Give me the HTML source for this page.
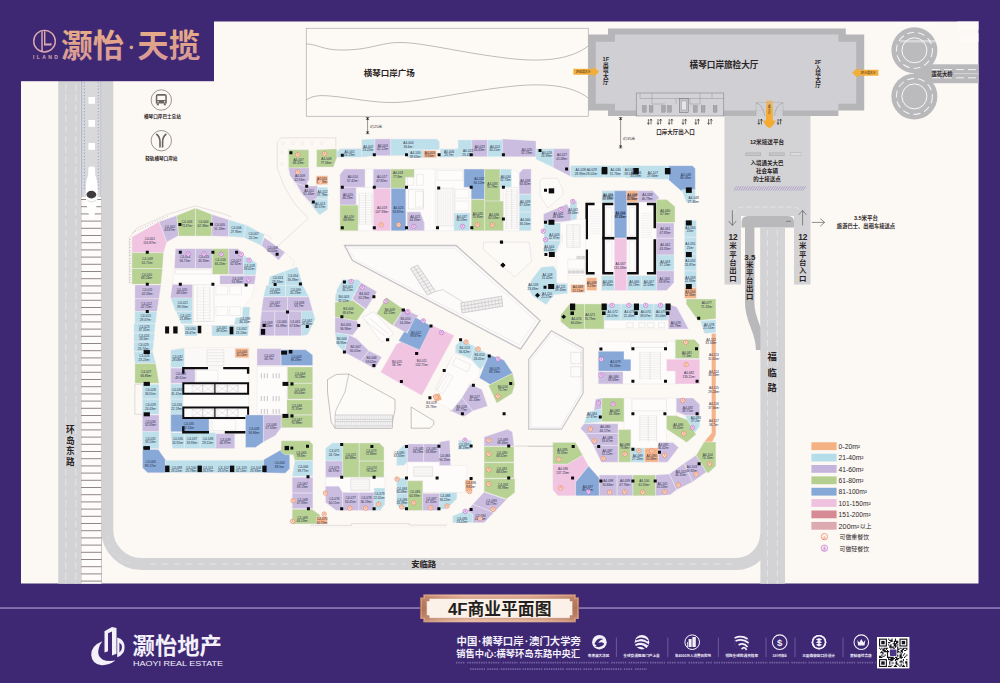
<!DOCTYPE html>
<html><head><meta charset="utf-8"><title>4F</title>
<style>
html,body{margin:0;padding:0;background:#3e2873;}
body{width:1000px;height:683px;overflow:hidden;font-family:"Liberation Sans","Noto Sans CJK SC",sans-serif;}
svg{display:block;font-family:"Liberation Sans","Noto Sans CJK SC",sans-serif;}
</style></head><body>
<svg width="1000" height="683" viewBox="0 0 1000 683">
<rect x="0" y="0" width="1000" height="683" fill="#3e2873"/>
<rect x="21" y="21.5" width="957.5" height="562" fill="#fcf8f4"/>
<rect x="58.2" y="21.5" width="22.6" height="562.2" fill="#d3d3d6"/>
<path d="M65.8 21.5V583.7M75.8 21.5V583.7" stroke="#e4e4e8" stroke-width="1.1" stroke-dasharray="7 3.4" fill="none"/>
<rect x="80.8" y="21.5" width="21" height="176" fill="#d9d9dc"/>
<path d="M81.6 21.5V197M101 21.5V197" stroke="#8b93b8" stroke-width="0.5" fill="none"/>
<path d="M84.4 21.5V190M98.3 21.5V190" stroke="#7f8dc0" stroke-width="0.9" stroke-dasharray="1 2.2" fill="none"/>
<rect x="88.4" y="74" width="6.6" height="6.8" fill="#fff"/>
<rect x="88.4" y="97" width="6.6" height="6.8" fill="#fff"/>
<rect x="88.4" y="120" width="6.6" height="6.8" fill="#fff"/>
<rect x="88.4" y="143" width="6.6" height="6.8" fill="#fff"/>
<rect x="80.8" y="197" width="21" height="386.7" fill="#fdfcfb"/>
<path d="M81 199.5H101.6M81 206.7H101.6M81 213.9H101.6M81 221.1H101.6M81 228.3H101.6M81 235.5H101.6M81 242.7H101.6M81 249.9H101.6M81 257.1H101.6M81 264.3H101.6M81 271.5H101.6M81 278.7H101.6M81 285.9H101.6M81 293.1H101.6M81 300.3H101.6M81 307.5H101.6M81 314.7H101.6M81 321.9H101.6M81 329.1H101.6M81 336.3H101.6M81 343.5H101.6M81 350.7H101.6M81 357.9H101.6M81 365.1H101.6M81 372.3H101.6M81 379.5H101.6M81 386.7H101.6M81 393.9H101.6M81 401.1H101.6M81 408.3H101.6M81 415.5H101.6M81 422.7H101.6M81 429.9H101.6M81 437.1H101.6M81 444.3H101.6M81 451.5H101.6M81 458.7H101.6M81 465.9H101.6M81 473.1H101.6M81 480.3H101.6M81 487.5H101.6M81 494.7H101.6M81 501.9H101.6M81 509.1H101.6M81 516.3H101.6M81 523.5H101.6M81 530.7H101.6M81 537.9H101.6M81 545.1H101.6M81 552.3H101.6M81 559.5H101.6M81 566.7H101.6M81 573.9H101.6M81 581.1H101.6" stroke="#8a7f7f" stroke-width="0.95" fill="none"/>
<path d="M81.1 197V583.7M101.5 197V583.7" stroke="#9a9090" stroke-width="0.5" fill="none"/>
<path d="M88.4 168Q88.4 166.5 91.7 166.5Q95 166.5 95 168L95.2 175Q97.6 181 97.7 190Q97.6 206 93.8 217Q91.7 221.5 89.6 217Q85.8 206 85.7 190Q85.8 181 88.2 175Z" fill="#fff"/>
<ellipse cx="91.4" cy="194.6" rx="4.9" ry="3.8" fill="#3d3b3d"/>
<path d="M87.2 200Q91.5 204 96.2 200" stroke="#bbb" stroke-width="0.5" fill="none"/>
<path d="M107.3 21.5V530A34 34 0 0 0 141.3 564H736A30 30 0 0 0 766 534" stroke="#d3d3d6" stroke-width="12" fill="none"/>
<path d="M150 564H738" stroke="#e4e4e8" stroke-width="1" stroke-dasharray="6 6" fill="none"/>
<path d="M107.3 535A28.7 28.7 0 0 0 136 564" stroke="#e4e4e8" stroke-width="1" stroke-dasharray="4 5" fill="none" opacity="0.6"/>
<text font-size="8.6" font-weight="bold" fill="#2a2324" text-anchor="middle"><tspan x="70.2" y="433.4">环</tspan><tspan x="70.2" y="443.8">岛</tspan><tspan x="70.2" y="454.3">东</tspan><tspan x="70.2" y="464.8">路</tspan></text>
<rect x="405" y="559" width="36" height="10" fill="#d3d3d6"/>
<text x="423.7" y="567.3" font-size="8.4" font-weight="bold" fill="#2a2324" text-anchor="middle">安临路</text>
<rect x="760.4" y="227.4" width="24.6" height="356.3" fill="#d3d3d6"/>
<path d="M724.5 116H810.5V284.6H794V216H741V284.6H724.5Z" fill="#d3d3d6"/>
<path d="M741.6 227.4V222Q741.6 216 748 216H788Q794 216 794 222V227.4Z" fill="#b9b9bc"/>
<path d="M749.7 227V303C749.7 322 760.6 330 760.6 350" stroke="#b9b9bc" stroke-width="9.4" fill="none"/>
<rect x="760.4" y="227.4" width="24.6" height="125" fill="#d3d3d6"/>
<path d="M767.4 230V583.7M777.3 230V583.7" stroke="#e4e4e8" stroke-width="1" stroke-dasharray="6.5 3.5" fill="none"/>
<path d="M786 221.3H791" stroke="#555" stroke-width="0.6"/>
<path d="M733.5 214Q735 207 743 207H792Q800 207 802 214" stroke="#e4e4e8" stroke-width="0.9" stroke-dasharray="5 3" fill="none"/>
<path d="M732.4 210.4V225.2M728.6 221L732.4 225.4L736.2 221" stroke="#4a4546" stroke-width="0.6" fill="none"/>
<path d="M802.6 225.4V210.6M798.8 214.8L802.6 210.4L806.4 214.8" stroke="#4a4546" stroke-width="0.6" fill="none"/>
<path d="M811.8 222.4H824.4M820.2 218.6L824.6 222.4L820.2 226.2" stroke="#4a4546" stroke-width="0.6" fill="none"/>
<text x="733" y="240.3" font-size="8.3" fill="#2a2324" font-weight="bold" text-anchor="middle" >12</text>
<text font-size="7.4" font-weight="bold" fill="#2a2324" text-anchor="middle"><tspan x="733" y="248.4">米</tspan><tspan x="733" y="256.5">平</tspan><tspan x="733" y="264.7">台</tspan><tspan x="733" y="272.8">出</tspan><tspan x="733" y="280.9">口</tspan></text>
<text x="802.8" y="240.3" font-size="8.3" fill="#2a2324" font-weight="bold" text-anchor="middle" >12</text>
<text font-size="7.4" font-weight="bold" fill="#2a2324" text-anchor="middle"><tspan x="802.8" y="248.4">米</tspan><tspan x="802.8" y="256.5">平</tspan><tspan x="802.8" y="264.7">台</tspan><tspan x="802.8" y="272.8">入</tspan><tspan x="802.8" y="280.9">口</tspan></text>
<text x="749.8" y="259.5" font-size="7.9" fill="#2a2324" font-weight="bold" text-anchor="middle" >3.5</text>
<text font-size="7.4" font-weight="bold" fill="#2a2324" text-anchor="middle"><tspan x="749.8" y="267.4">米</tspan><tspan x="749.8" y="275.3">平</tspan><tspan x="749.8" y="283.3">台</tspan><tspan x="749.8" y="291.2">出</tspan><tspan x="749.8" y="299.1">口</tspan></text>
<text font-size="9.3" font-weight="bold" fill="#2a2324" text-anchor="middle"><tspan x="772.1" y="360.4">福</tspan><tspan x="772.1" y="375.7">临</tspan><tspan x="772.1" y="391.1">路</tspan></text>
<text x="767" y="143.6" font-size="5.6" font-weight="bold" fill="#2a2324" text-anchor="middle">12米接送平台</text>
<rect x="745.5" y="152.6" width="15.5" height="3.2" fill="#a9a9ad"/>
<rect x="746.1" y="153.2" width="14.3" height="2" fill="#c7c7ca"/>
<rect x="769" y="152.6" width="15.5" height="3.2" fill="#a9a9ad"/>
<rect x="769.6" y="153.2" width="14.3" height="2" fill="#c7c7ca"/>
<rect x="790.5" y="152.6" width="10.5" height="3.2" fill="#a9a9ad"/>
<rect x="791.1" y="153.2" width="9.3" height="2" fill="#c7c7ca"/>
<rect x="790.5" y="152.6" width="10.5" height="3.2" fill="#dcdcdf" stroke="#b5b5b8" stroke-width="0.4"/>
<text x="767" y="165.2" font-size="5.5" font-weight="bold" fill="#2a2324" text-anchor="middle">入境通关大巴</text>
<text x="767" y="173.4" font-size="5.5" font-weight="bold" fill="#2a2324" text-anchor="middle">社会车辆</text>
<text x="767" y="181.4" font-size="5.5" font-weight="bold" fill="#2a2324" text-anchor="middle">的士接送点</text>
<path d="M734.0 190.6l2.6-4.4M736.3 190.6l2.6-4.4M738.6 190.6l2.6-4.4M740.9 190.6l2.6-4.4M743.2 190.6l2.6-4.4M745.5 190.6l2.6-4.4M747.8 190.6l2.6-4.4M750.1 190.6l2.6-4.4M752.4 190.6l2.6-4.4M754.7 190.6l2.6-4.4M757.0 190.6l2.6-4.4M759.3 190.6l2.6-4.4M761.6 190.6l2.6-4.4M763.9 190.6l2.6-4.4M766.2 190.6l2.6-4.4M768.5 190.6l2.6-4.4M770.8 190.6l2.6-4.4M773.1 190.6l2.6-4.4M775.4 190.6l2.6-4.4M777.7 190.6l2.6-4.4M780.0 190.6l2.6-4.4M782.3 190.6l2.6-4.4M784.6 190.6l2.6-4.4M786.9 190.6l2.6-4.4M789.2 190.6l2.6-4.4M791.5 190.6l2.6-4.4M793.8 190.6l2.6-4.4M796.1 190.6l2.6-4.4M798.4 190.6l2.6-4.4M800.7 190.6l2.6-4.4M803.0 190.6l2.6-4.4" stroke="#a48fc4" stroke-width="0.7" fill="none"/>
<text x="866" y="220.4" font-size="5.5" font-weight="bold" fill="#2a2324" text-anchor="middle">3.5米平台</text>
<text x="866" y="228.4" font-size="5.3" font-weight="bold" fill="#2a2324" text-anchor="middle">旅游巴士、出租车接送点</text>
<rect x="914" y="64.3" width="64.5" height="18.9" fill="#b9b9bc"/>
<circle cx="914.4" cy="50.3" r="23" fill="#b9b9bc"/>
<circle cx="914.4" cy="96.4" r="23" fill="#b9b9bc"/>
<circle cx="914.4" cy="50.3" r="18" fill="none" stroke="#f2f2f4" stroke-width="1.1" stroke-dasharray="7 4"/>
<circle cx="914.4" cy="50.3" r="12.5" fill="#bbbbbe" stroke="#fff" stroke-width="0.9"/>
<circle cx="914.4" cy="96.4" r="18" fill="none" stroke="#f2f2f4" stroke-width="1.1" stroke-dasharray="7 4"/>
<circle cx="914.4" cy="96.4" r="12.5" fill="#bbbbbe" stroke="#fff" stroke-width="0.9"/>
<path d="M932 69.6H978.5M932 77.8H978.5" stroke="#f2f2f4" stroke-width="1" stroke-dasharray="8 4" fill="none"/>
<path d="M930 73.6H978.5" stroke="#f2f2f4" stroke-width="0.5" fill="none"/>
<rect x="930" y="70.6" width="24" height="6.4" fill="#b9b9bc"/>
<text x="942" y="76" font-size="5.3" font-weight="bold" fill="#2a2324" text-anchor="middle">莲花大桥</text>
<rect x="306.2" y="28.2" width="282" height="88" fill="#fdfaf6" stroke="#8f8a98" stroke-width="0.5"/>
<path d="M306.2 44C318 44 322 50.5 345 50C372 49.5 380 42.5 400 42.5C425 42.5 470 55 520 59.5C555 62 575 56 588.2 46" stroke="#6f6b72" stroke-width="0.45" fill="none"/>
<path d="M306.2 100C312 96 318 95 330 96C350 97.5 372 103 395 102.5C420 102 470 90 520 85.5C555 83 575 88 588.2 98" stroke="#6f6b72" stroke-width="0.45" fill="none"/>
<text x="389.2" y="76.3" font-size="8.5" font-weight="bold" fill="#2a2324" text-anchor="middle">横琴口岸广场</text>
<path d="M367.6 117.2V134" stroke="#333" stroke-width="0.5"/>
<path d="M365.8 117.5H369.40000000000003M365.8 133.7H369.40000000000003" stroke="#333" stroke-width="0.6"/>
<path d="M366.0 119.8L367.6 117.60000000000001L369.20000000000005 119.8ZM366.0 131.4L367.6 133.6L369.20000000000005 131.4Z" fill="#222"/>
<text x="370.1" y="127.6" font-size="3.9" fill="#3a3536" text-anchor="start">约25米</text>
<path d="M620.6 117.2V148.2" stroke="#333" stroke-width="0.5"/>
<path d="M618.8000000000001 117.5H622.4M618.8000000000001 147.89999999999998H622.4" stroke="#333" stroke-width="0.6"/>
<path d="M619.0 119.8L620.6 117.60000000000001L622.2 119.8ZM619.0 145.6L620.6 147.79999999999998L622.2 145.6Z" fill="#222"/>
<text x="623.1" y="140.4" font-size="3.9" fill="#3a3536" text-anchor="start">约35米</text>
<path d="M588.2 34.4H608V28.4H845.8V34.4H864.2V110.6H838.4V116H608V110.6H588.2Z" fill="#b6b6b9"/>
<path d="M595.8 41.8H615V34.6H838.4V41.8H856.2V103.8H838.4V110.6H615V103.8H595.8Z" fill="#d0d0d4"/>
<rect x="636.2" y="93" width="87.6" height="23" fill="#d3d3d7" stroke="#77737a" stroke-width="0.5"/>
<path d="M640 93V98.5H723.8M652 93V104M700 93V104M652 104H665M676 98.5V104M690 98.5V104H700M712 93V98.5" stroke="#8a868a" stroke-width="0.4" fill="none"/>
<rect x="642.4" y="105.6" width="3.8" height="6.6" fill="#a9a9ad" stroke="#7d7a7e" stroke-width="0.3"/>
<rect x="649.2" y="105.6" width="3.8" height="6.6" fill="#a9a9ad" stroke="#7d7a7e" stroke-width="0.3"/>
<rect x="661.6" y="105.6" width="3.8" height="6.6" fill="#a9a9ad" stroke="#7d7a7e" stroke-width="0.3"/>
<rect x="667.6" y="105.6" width="3.8" height="6.6" fill="#a9a9ad" stroke="#7d7a7e" stroke-width="0.3"/>
<rect x="693.4" y="105.6" width="3.8" height="6.6" fill="#a9a9ad" stroke="#7d7a7e" stroke-width="0.3"/>
<rect x="701.2" y="105.6" width="3.8" height="6.6" fill="#a9a9ad" stroke="#7d7a7e" stroke-width="0.3"/>
<rect x="713.2" y="105.6" width="3.8" height="6.6" fill="#a9a9ad" stroke="#7d7a7e" stroke-width="0.3"/>
<rect x="679.6" y="98.6" width="8.6" height="13.8" fill="#c5c5c8" stroke="#666" stroke-width="0.5"/>
<rect x="681.4" y="101" width="5" height="9" fill="#e6e6e8" stroke="#777" stroke-width="0.3"/>
<rect x="756" y="110.4" width="27" height="5.8" fill="#d0d0d4"/>
<path d="M756 116V102.4H783V116" stroke="#a5a1a8" stroke-width="0.4" fill="none"/>
<path d="M756 103Q762.6 104 764.8 116M783 103Q776.4 104 774.2 116" stroke="#8a868a" stroke-width="0.45" fill="none"/>
<path d="M573.4 68.8H593.2V66.6L599.2 71.8L593.2 77V74.8H573.4Z" fill="#f2ae3c"/>
<path d="M878.4 69.8H858V67.6L852 72.8L858 78V75.8H878.4Z" fill="#f2ae3c"/>
<defs><linearGradient id="og" x1="0" y1="0" x2="0" y2="1"><stop offset="0" stop-color="#f2ae3c" stop-opacity="0.55"/><stop offset="0.4" stop-color="#f2ae3c"/><stop offset="1" stop-color="#f4a92c"/></linearGradient></defs>
<path d="M766 100.6H772.8V120.4H775.8Q773.6 126 769.4 128Q765.2 126 763 120.4H766Z" fill="url(#og)"/>
<text x="583.2" y="73.2" font-size="2.9" font-weight="bold" fill="#6b4a22" text-anchor="middle">1F出境大厅</text>
<text x="868.2" y="74.2" font-size="2.9" font-weight="bold" fill="#6b4a22" text-anchor="middle">2F入境大厅</text>
<text font-size="2.6" font-weight="bold" fill="#6b4a22" text-anchor="middle"><tspan x="769.4" y="105.7">入</tspan><tspan x="769.4" y="108.3">境</tspan><tspan x="769.4" y="110.9">大</tspan><tspan x="769.4" y="113.5">厅</tspan></text>
<text x="724" y="68.1" font-size="8.6" font-weight="bold" fill="#2a2324" text-anchor="middle">横琴口岸旅检大厅</text>
<text x="605.8" y="60.6" font-size="5.6" fill="#2a2324" font-weight="bold" text-anchor="middle" >1F</text>
<text font-size="5.6" font-weight="bold" fill="#2a2324" text-anchor="middle"><tspan x="605.8" y="66.5">出</tspan><tspan x="605.8" y="72.3">境</tspan><tspan x="605.8" y="78.1">大</tspan><tspan x="605.8" y="83.9">厅</tspan></text>
<text x="818" y="63.6" font-size="5.6" fill="#2a2324" font-weight="bold" text-anchor="middle" >2F</text>
<text font-size="5.6" font-weight="bold" fill="#2a2324" text-anchor="middle"><tspan x="818" y="69.5">入</tspan><tspan x="818" y="75.3">境</tspan><tspan x="818" y="81.1">大</tspan><tspan x="818" y="86.9">厅</tspan></text>
<path d="M648.4 119V124.2M647.3 122.8L648.4 124.4L649.5 122.8M651.0 124.4V119.2M649.9 120.6L651.0 119L652.1 120.6M658.0 119V124.2M656.9 122.8L658.0 124.4L659.1 122.8M660.6 124.4V119.2M659.5 120.6L660.6 119L661.7 120.6M669.2 119V124.2M668.1 122.8L669.2 124.4L670.3 122.8M671.8 124.4V119.2M670.7 120.6L671.8 119L672.9 120.6M683.0 119V124.2M681.9 122.8L683.0 124.4L684.1 122.8M685.6 124.4V119.2M684.5 120.6L685.6 119L686.7 120.6M695.8 119V124.2M694.7 122.8L695.8 124.4L696.9 122.8M698.4 124.4V119.2M697.3 120.6L698.4 119L699.5 120.6M708.6 119V124.2M707.5 122.8L708.6 124.4L709.7 122.8M711.2 124.4V119.2M710.1 120.6L711.2 119L712.3 120.6M758.8 119V124.2M757.7 122.8L758.8 124.4L759.9 122.8M761.4 124.4V119.2M760.3 120.6L761.4 119L762.5 120.6M778.0 119V124.2M776.9 122.8L778.0 124.4L779.1 122.8M780.6 124.4V119.2M779.5 120.6L780.6 119L781.7 120.6" stroke="#1e1e20" stroke-width="0.62" fill="none"/>
<text x="675.6" y="133.5" font-size="5.5" font-weight="bold" fill="#2a2324" text-anchor="middle">口岸大厅出入口</text>
<path d="M131.9 237.1L159 221.7L166.9 242L163.5 252.7L131.9 252.7Z" fill="#f1c5e1" stroke="#f4eff5" stroke-width="0.4" stroke-linejoin="round"/>
<path d="M159 221.7L176.8 215.5L178.7 235.5L166.9 242Z" fill="#cbbde0" stroke="#f4eff5" stroke-width="0.4" stroke-linejoin="round"/>
<path d="M176.8 215.5L195.5 208L195.5 236.1L178.7 236.1ZM195.5 208L211.9 214.4L211.9 236.1L195.5 236.1Z" fill="#b8d294" stroke="#f4eff5" stroke-width="0.4" stroke-linejoin="round"/>
<path d="M211.9 214.4L228.7 219.7L228.7 236.5L211.9 236.1Z" fill="#cbbde0" stroke="#f4eff5" stroke-width="0.4" stroke-linejoin="round"/>
<path d="M228.7 219.7L245.9 225L243.6 237.5L228.7 236.5ZM245.9 225L264.3 234.5L261.3 245.4L243.6 237.5Z" fill="#bde0ea" stroke="#f4eff5" stroke-width="0.4" stroke-linejoin="round"/>
<path d="M264.3 237.5L285 252.3L278.7 260.2L261.3 245.4Z" fill="#cbbde0" stroke="#f4eff5" stroke-width="0.4" stroke-linejoin="round"/>
<path d="M131.9 252.7L163.5 252.7L162.5 268.5L131.9 268.5ZM131.9 268.5L162.5 268.5L161 284.3L131.9 284.3Z" fill="#b8d294" stroke="#f4eff5" stroke-width="0.4" stroke-linejoin="round"/>
<path d="M134.9 284.9L161 284.9L159 298.7L134.9 298.7ZM134.9 298.7L159 298.7L157 311.6L134.9 311.6Z" fill="#cbbde0" stroke="#f4eff5" stroke-width="0.4" stroke-linejoin="round"/>
<path d="M134.9 311.6L157 311.6L155.6 323.4L134.9 323.4Z" fill="#bde0ea" stroke="#f4eff5" stroke-width="0.4" stroke-linejoin="round"/>
<path d="M175.4 248.7L195.5 248.7L195.5 268.5L174.4 268.5ZM195.5 248.7L212.3 248.7L212.3 268.5L195.5 268.5Z" fill="#cbbde0" stroke="#f4eff5" stroke-width="0.4" stroke-linejoin="round"/>
<path d="M212.3 248.7L228.7 248.7L228.7 274.4L212.3 274.4Z" fill="#b8d294" stroke="#f4eff5" stroke-width="0.4" stroke-linejoin="round"/>
<path d="M228.7 248.7L238 248.7L243.6 254.3L243.6 274.4L228.7 274.4Z" fill="#cbbde0" stroke="#f4eff5" stroke-width="0.4" stroke-linejoin="round"/>
<path d="M243.6 255.3L257 263.2L255.8 275L243.6 275Z" fill="#bde0ea" stroke="#f4eff5" stroke-width="0.4" stroke-linejoin="round"/>
<path d="M219.8 275.6L255.8 275.6L254.4 284.3L219.8 284.3ZM172.4 284.3L192.6 284.3L192.6 298.1L170.4 298.1Z" fill="#cbbde0" stroke="#f4eff5" stroke-width="0.4" stroke-linejoin="round"/>
<path d="M170.8 298.1L192.6 298.1L192.6 311.2L175.4 311.2ZM176 311.2L192.6 311.2L192.6 323.8L181.3 323.8ZM133.9 323.4L155.2 323.4L154.6 332.9L133.9 332.9ZM133.9 332.9L154.6 332.9L153.8 341.8L133.9 341.8ZM133.9 341.8L153.8 341.8L152.7 351.7L133.9 351.7ZM133.9 351.7L152.7 351.7L155.8 363.5L134.9 363.5Z" fill="#bde0ea" stroke="#f4eff5" stroke-width="0.4" stroke-linejoin="round"/>
<path d="M134.9 363.5L155.8 363.5L159 383.3L134.9 383.3Z" fill="#b8d294" stroke="#f4eff5" stroke-width="0.4" stroke-linejoin="round"/>
<path d="M142.4 384.3L159 384.3L159 399.1L142.4 399.1ZM142.4 399.1L159 399.1L159 414.3L142.4 414.3Z" fill="#bde0ea" stroke="#f4eff5" stroke-width="0.4" stroke-linejoin="round"/>
<path d="M142.4 414.9L159 414.9L159 431.7L142.4 431.7Z" fill="#cbbde0" stroke="#f4eff5" stroke-width="0.4" stroke-linejoin="round"/>
<path d="M142.4 431.7L159 431.7L159 448.7L142.4 448.7Z" fill="#bde0ea" stroke="#f4eff5" stroke-width="0.4" stroke-linejoin="round"/>
<path d="M142.4 384.3L134.9 384.3L134.9 414.3L142.4 414.3" fill="none" stroke="#b9b2b8" stroke-width="0.4"/>
<path d="M170.8 349.7L184.3 347.7L249.1 347.7L249.1 432.7L234.7 433.7L234.7 448.5L172.4 448.5L170.8 432.7Z" fill="#fbf9f7" stroke="#e6e0e0" stroke-width="0.3"/>
<path d="M170.8 350.3L184.3 348.1L184.3 367.5L170.8 367.5ZM170.8 383.9L182.9 383.9L182.9 399.1L170.8 399.1ZM170.8 399.1L182.9 399.1L182.9 414.3L170.8 414.3Z" fill="#bde0ea" stroke="#f4eff5" stroke-width="0.4" stroke-linejoin="round"/>
<path d="M170.8 414.3L182.9 414.3L182.9 418.3L209 418.3L209 431.7L170.8 431.7Z" fill="#88a9d7" stroke="#f4eff5" stroke-width="0.4" stroke-linejoin="round"/>
<path d="M170.8 432.7L184.3 432.7L184.3 448.5L172.4 448.5ZM184.3 432.7L200.1 432.7L200.1 448.5L184.3 448.5ZM200.1 432.7L215.9 432.7L215.9 448.5L200.1 448.5Z" fill="#bde0ea" stroke="#f4eff5" stroke-width="0.4" stroke-linejoin="round"/>
<path d="M215.9 433.7L234.7 433.7L234.7 448.5L215.9 448.5Z" fill="#cbbde0" stroke="#f4eff5" stroke-width="0.4" stroke-linejoin="round"/>
<path d="M235.1 348.3L248.7 348.3L248.7 357.8L235.1 357.8Z" fill="#f4b488" stroke="#f4eff5" stroke-width="0.4" stroke-linejoin="round"/>
<path d="M183.3 368.1L248.5 368.1L248.5 432.1L210 432.1L210 418.3L183.3 418.3Z" fill="#fdfcfb" stroke="#ddd" stroke-width="0.2"/>
<path d="M170.8 368.1L195.1 368.1L195.1 383.3L170.8 383.3Z" fill="#cbbde0" stroke="#f4eff5" stroke-width="0.4" stroke-linejoin="round"/>
<path d="M183.3 373.8L183.3 368.1L208 368.1" fill="none" stroke="#0d0d10" stroke-width="2.4"/>
<path d="M223.2 368.1L248.1 368.1L248.1 373.8" fill="none" stroke="#0d0d10" stroke-width="2.4"/>
<path d="M183.3 383.3L248.1 383.3L248.1 393.8L183.3 393.8Z" fill="none" stroke="#0d0d10" stroke-width="2.0"/>
<path d="M183.3 407.6L248.1 407.6L248.1 417.9L183.3 417.9Z" fill="none" stroke="#0d0d10" stroke-width="2.0"/>
<path d="M214.9 383.3L214.9 393.8" fill="none" stroke="#0d0d10" stroke-width="1.2"/>
<path d="M214.9 407.6L214.9 417.9" fill="none" stroke="#0d0d10" stroke-width="1.2"/>
<path d="M183.3 426.2L183.3 432.3L209 432.3" fill="none" stroke="#0d0d10" stroke-width="2.4"/>
<path d="M224.8 432.3L248.1 432.3L248.1 418.3" fill="none" stroke="#0d0d10" stroke-width="2.4"/>
<path d="M192.2 384.9L202.5 384.9L202.5 392.6L192.2 392.6L192.2 384.9L202.5 392.6L202.5 384.9L192.2 392.6" fill="none" stroke="#b9b5b8" stroke-width="0.3"/>
<path d="M192.2 409L202.5 409L202.5 416.7L192.2 416.7L192.2 409L202.5 416.7L202.5 409L192.2 416.7" fill="none" stroke="#b9b5b8" stroke-width="0.3"/>
<path d="M203 384.9L213.3 384.9L213.3 392.6L203 392.6L203 384.9L213.3 392.6L213.3 384.9L203 392.6" fill="none" stroke="#b9b5b8" stroke-width="0.3"/>
<path d="M203 409L213.3 409L213.3 416.7L203 416.7L203 409L213.3 416.7L213.3 409L203 416.7" fill="none" stroke="#b9b5b8" stroke-width="0.3"/>
<path d="M216.9 384.9L227.2 384.9L227.2 392.6L216.9 392.6L216.9 384.9L227.2 392.6L227.2 384.9L216.9 392.6" fill="none" stroke="#b9b5b8" stroke-width="0.3"/>
<path d="M216.9 409L227.2 409L227.2 416.7L216.9 416.7L216.9 409L227.2 416.7L227.2 409L216.9 416.7" fill="none" stroke="#b9b5b8" stroke-width="0.3"/>
<path d="M227.7 384.9L238 384.9L238 392.6L227.7 392.6L227.7 384.9L238 392.6L238 384.9L227.7 392.6" fill="none" stroke="#b9b5b8" stroke-width="0.3"/>
<path d="M227.7 409L238 409L238 416.7L227.7 416.7L227.7 409L238 416.7L238 409L227.7 416.7" fill="none" stroke="#b9b5b8" stroke-width="0.3"/>
<path d="M196.1 370.1L217.9 370.1L217.9 381.3L196.1 381.3Z" fill="none" stroke="#c9c5c8" stroke-width="0.3"/>
<path d="M211.9 419.4L235.7 419.4L235.7 430.7L211.9 430.7Z" fill="none" stroke="#c9c5c8" stroke-width="0.3"/>
<path d="M207 349.7L223.8 349.7L223.8 365.5L207 365.5Z" fill="none" stroke="#c9c5c8" stroke-width="0.3"/>
<path d="M207 352.7L223.8 352.7" fill="none" stroke="#c9c5c8" stroke-width="0.3"/>
<path d="M207 355.6L223.8 355.6" fill="none" stroke="#c9c5c8" stroke-width="0.3"/>
<path d="M207 358.6L223.8 358.6" fill="none" stroke="#c9c5c8" stroke-width="0.3"/>
<path d="M207 361.6L223.8 361.6" fill="none" stroke="#c9c5c8" stroke-width="0.3"/>
<path d="M257 348.7L281.1 348.7L281.1 365.5L257 365.5Z" fill="#cbbde0" stroke="#f4eff5" stroke-width="0.4" stroke-linejoin="round"/>
<path d="M281.1 349.7L305.8 349.7L312.7 355L312.7 365.5L281.1 365.5Z" fill="#88a9d7" stroke="#f4eff5" stroke-width="0.4" stroke-linejoin="round"/>
<path d="M287.4 366.9L312.7 366.9L312.7 383.3L287.4 383.3ZM287.4 383.3L312.7 383.3L312.7 399.1L287.4 399.1ZM281.1 399.7L312.7 399.7L312.7 414.9L281.1 414.9ZM281.1 414.9L312.7 414.9L312.7 427.7L281.1 427.7Z" fill="#b8d294" stroke="#f4eff5" stroke-width="0.4" stroke-linejoin="round"/>
<path d="M263.3 414.9L281.1 414.9L281.1 427.7L275.2 435.7L263.3 442Z" fill="#cbbde0" stroke="#f4eff5" stroke-width="0.4" stroke-linejoin="round"/>
<path d="M245.5 414.9L263.3 414.9L263.3 442L255.4 447.5L245.5 447.5Z" fill="#88a9d7" stroke="#f4eff5" stroke-width="0.4" stroke-linejoin="round"/>
<path d="M257 366.5L287 366.5L287 413.9L257 413.9Z" fill="#fdfcfb" stroke="#e3dede" stroke-width="0.3"/>
<path d="M261.3 373.4L261.3 378.3" fill="none" stroke="#8c878a" stroke-width="0.5"/>
<path d="M261.3 396.1L261.3 401.1" fill="none" stroke="#8c878a" stroke-width="0.5"/>
<path d="M261.3 409L261.3 413.5" fill="none" stroke="#8c878a" stroke-width="0.5"/>
<path d="M264.3 373.4L264.3 378.3" fill="none" stroke="#8c878a" stroke-width="0.5"/>
<path d="M264.3 396.1L264.3 401.1" fill="none" stroke="#8c878a" stroke-width="0.5"/>
<path d="M264.3 409L264.3 413.5" fill="none" stroke="#8c878a" stroke-width="0.5"/>
<path d="M267.3 373.4L267.3 378.3" fill="none" stroke="#8c878a" stroke-width="0.5"/>
<path d="M267.3 396.1L267.3 401.1" fill="none" stroke="#8c878a" stroke-width="0.5"/>
<path d="M267.3 409L267.3 413.5" fill="none" stroke="#8c878a" stroke-width="0.5"/>
<path d="M273.2 373.4L273.2 378.3" fill="none" stroke="#8c878a" stroke-width="0.5"/>
<path d="M273.2 396.1L273.2 401.1" fill="none" stroke="#8c878a" stroke-width="0.5"/>
<path d="M273.2 409L273.2 413.5" fill="none" stroke="#8c878a" stroke-width="0.5"/>
<path d="M276.2 373.4L276.2 378.3" fill="none" stroke="#8c878a" stroke-width="0.5"/>
<path d="M276.2 396.1L276.2 401.1" fill="none" stroke="#8c878a" stroke-width="0.5"/>
<path d="M276.2 409L276.2 413.5" fill="none" stroke="#8c878a" stroke-width="0.5"/>
<path d="M279.1 373.4L279.1 378.3" fill="none" stroke="#8c878a" stroke-width="0.5"/>
<path d="M279.1 396.1L279.1 401.1" fill="none" stroke="#8c878a" stroke-width="0.5"/>
<path d="M279.1 409L279.1 413.5" fill="none" stroke="#8c878a" stroke-width="0.5"/>
<path d="M183.9 325L197.1 325L197.1 335.9L184.9 335.9ZM211.9 322.6L231.7 322.6L231.7 335.9L211.9 335.9ZM234.7 325L249.1 325L247.9 335.9L234.7 335.9Z" fill="#bde0ea" stroke="#f4eff5" stroke-width="0.4" stroke-linejoin="round"/>
<path d="M165.1 326.4L169.1 326.4L169.1 333.5L165.1 333.5Z" fill="#0d0d10"/>
<path d="M173.2 326.4L177.6 326.4L177.6 333.5L173.2 333.5Z" fill="#0d0d10"/>
<path d="M197.7 325.4L201.3 325.4L201.3 333.3L197.7 333.3Z" fill="#0d0d10"/>
<path d="M229.9 325.4L233.5 325.4L233.5 333.3L229.9 333.3Z" fill="#0d0d10"/>
<path d="M261.3 327.8L265.3 327.8L265.3 334.9L261.3 334.9Z" fill="#0d0d10"/>
<path d="M143.6 350.1L149.9 350.1L149.9 354L143.6 354Z" fill="#0d0d10"/>
<path d="M143.6 381.9L149.9 381.9L149.9 385.9L143.6 385.9Z" fill="#0d0d10"/>
<path d="M143.6 412.3L149.9 412.3L149.9 416.3L143.6 416.3Z" fill="#0d0d10"/>
<path d="M143.6 446.5L149.9 446.5L149.9 450.5L143.6 450.5Z" fill="#0d0d10"/>
<path d="M281.1 350.7L287 350.7L287 354.6L281.1 354.6Z" fill="#0d0d10"/>
<path d="M288.8 349.9L292.4 349.9L292.4 353.5L288.8 353.5Z" fill="#0d0d10"/>
<path d="M282.5 381.9L288.4 381.9L288.4 385.9L282.5 385.9Z" fill="#0d0d10"/>
<path d="M290.4 382.3L293.5 382.3L293.5 385.5L290.4 385.5Z" fill="#0d0d10"/>
<path d="M282.5 413.9L288.4 413.9L288.4 417.9L282.5 417.9Z" fill="#0d0d10"/>
<path d="M290.4 414.3L293.5 414.3L293.5 417.5L290.4 417.5Z" fill="#0d0d10"/>
<path d="M282.5 446.5L288.4 446.5L288.4 450.5L282.5 450.5Z" fill="#0d0d10"/>
<path d="M290.4 447.3L293.5 447.3L293.5 450.5L290.4 450.5Z" fill="#0d0d10"/>
<path d="M268.2 285.4L269.8 276.6L284.8 271.2L285.6 285.4ZM284.8 271.2L297.4 266.7L303 285.4L285.6 285.4ZM266.2 285.4L285.6 285.4L285.6 296.7L263.4 296.7ZM285.6 285.4L303 285.4L308.9 296.7L285.6 296.7Z" fill="#bde0ea" stroke="#f4eff5" stroke-width="0.4" stroke-linejoin="round"/>
<path d="M263.4 296.9L287.5 296.9L287.5 311.1L261.5 311.1ZM287.5 296.9L308.9 296.9L312.8 311.1L287.5 311.1ZM261.5 311.1L274.7 311.1L274.7 335.8L258.9 335.8ZM274.7 311.1L288.5 311.1L288.5 335.8L274.7 335.8ZM288.5 311.1L301.8 311.1L301.8 335.8L288.5 335.8Z" fill="#cbbde0" stroke="#f4eff5" stroke-width="0.4" stroke-linejoin="round"/>
<path d="M301.8 311.1L312.8 311.1L315.2 319L307.7 334.8L301.8 335.8Z" fill="#bde0ea" stroke="#f4eff5" stroke-width="0.4" stroke-linejoin="round"/>
<path d="M260.9 328.9L265.2 328.9L265.2 334.8L260.9 334.8Z" fill="#0d0d10"/>
<path d="M342.9 279.5L358.3 279.5L361 282.5L352.7 297.3L336 297.3L336.9 289.4Z" fill="#bde0ea" stroke="#f4eff5" stroke-width="0.4" stroke-linejoin="round"/>
<path d="M361 282.5L376.9 291.8L366 309.2L352.2 298.9Z" fill="#cbbde0" stroke="#f4eff5" stroke-width="0.4" stroke-linejoin="round"/>
<path d="M335.6 293.7L353.7 293.7L351.2 301.6L335 301.6Z" fill="#bde0ea" stroke="#f4eff5" stroke-width="0.4" stroke-linejoin="round"/>
<path d="M335 302.2L352.7 300.3L365 309.2L356.7 321L335 317.1Z" fill="#b8d294" stroke="#f4eff5" stroke-width="0.4" stroke-linejoin="round"/>
<path d="M335 317.1L356.7 321L359.9 326.1L352.7 335.2L335 332.9Z" fill="#cbbde0" stroke="#f4eff5" stroke-width="0.4" stroke-linejoin="round"/>
<path d="M335 332.9L348.8 334.8L344.1 351.8L336.9 344.7Z" fill="#bde0ea" stroke="#f4eff5" stroke-width="0.4" stroke-linejoin="round"/>
<path d="M348.8 334.8L356.7 338.8L368.9 350.7L360.7 360.9L344.4 352.2ZM368.9 350.7L381.8 357L374.5 368.8L360.7 360.9Z" fill="#cbbde0" stroke="#f4eff5" stroke-width="0.4" stroke-linejoin="round"/>
<path d="M386.3 297.3L403.5 309.2L392.7 325.4L376.5 313.5Z" fill="#b8d294" stroke="#f4eff5" stroke-width="0.4" stroke-linejoin="round"/>
<path d="M403.5 309.2L418.3 315.5L406.5 332.9L393.3 325.4Z" fill="#cbbde0" stroke="#f4eff5" stroke-width="0.4" stroke-linejoin="round"/>
<path d="M432.1 325.3L454.3 335.6L421.8 395.6L380.5 372.3L396.3 344.2Z" fill="#f1c5e1" stroke="#f4eff5" stroke-width="0.4" stroke-linejoin="round"/>
<path d="M415.2 317.2L431.4 326L419.6 350.1L398.5 340.7L404.2 331.5L407.3 333Z" fill="#88a9d7" stroke="#f4eff5" stroke-width="0.4" stroke-linejoin="round"/>
<path d="M455.6 346.8L461.7 340.7L474.2 346.4L470.5 358.3L455.1 353ZM474.2 346.4L488.9 354.5L483.7 367L470.5 358.3Z" fill="#bde0ea" stroke="#f4eff5" stroke-width="0.4" stroke-linejoin="round"/>
<path d="M488.9 354.5L503.9 360L512.7 373.2L490.3 384.6L479.3 378L483.7 367Z" fill="#88a9d7" stroke="#f4eff5" stroke-width="0.4" stroke-linejoin="round"/>
<path d="M512.7 373.2L514.9 384.2L512.2 393.4L496.8 403.3L488.5 385.5Z" fill="#b8d294" stroke="#f4eff5" stroke-width="0.4" stroke-linejoin="round"/>
<path d="M470.5 384.2L481.9 389.6L487.6 406.1L472.7 410.9L461.7 397.3ZM461.7 397.3L472.7 410.9L463.9 416.7L449.6 410.5Z" fill="#cbbde0" stroke="#f4eff5" stroke-width="0.4" stroke-linejoin="round"/>
<path d="M432.7 395.6L439.3 392.9L442 399.5L435.4 402.2Z" fill="#f4b488" stroke="#f4eff5" stroke-width="0.4" stroke-linejoin="round"/>
<path d="M362.9 317.2L373.9 311.7L393.7 333.7L381.6 342.4Z" fill="#fdfcfb" stroke="#c9c4c6" stroke-width="0.3"/>
<path d="M366.2 321.6L384.9 335.9" fill="none" stroke="#bbb" stroke-width="0.3"/>
<path d="M369.5 318.3L388.2 333.7" fill="none" stroke="#bbb" stroke-width="0.3"/>
<path d="M452.9 355.6L470.5 362.2L448.6 392.9L435.4 388.6Z" fill="#fdfcfb" stroke="#c9c4c6" stroke-width="0.3"/>
<path d="M457.3 362.2L444.2 384.2" fill="none" stroke="#bbb" stroke-width="0.3"/>
<path d="M461.7 364.4L448.6 386.4" fill="none" stroke="#bbb" stroke-width="0.3"/>
<path d="M344.4 245.5L456.1 245.5L540.1 320.6L520.6 349.1L352.5 260.5Z" fill="#fdfbf9" stroke="#c3c3c7" stroke-width="1.3"/>
<path d="M347.4 248.2L454.9 248.2L535.9 320.9L519.1 344.9L355.2 259.6Z" fill="none" stroke="#dedee1" stroke-width="0.5"/>
<path d="M410.4 268.6L417.6 265L435.6 291.4L427.2 295Z" fill="#f1f0f0" stroke="#8b878b" stroke-width="0.35"/>
<path d="M412.3 271.5L419.6 267.9" fill="none" stroke="#9b979b" stroke-width="0.25"/>
<path d="M414.1 274.5L421.6 270.9" fill="none" stroke="#9b979b" stroke-width="0.25"/>
<path d="M416 277.4L423.6 273.8" fill="none" stroke="#9b979b" stroke-width="0.25"/>
<path d="M417.9 280.3L425.6 276.7" fill="none" stroke="#9b979b" stroke-width="0.25"/>
<path d="M419.7 283.3L427.6 279.7" fill="none" stroke="#9b979b" stroke-width="0.25"/>
<path d="M421.6 286.2L429.6 282.6" fill="none" stroke="#9b979b" stroke-width="0.25"/>
<path d="M423.5 289.1L431.6 285.5" fill="none" stroke="#9b979b" stroke-width="0.25"/>
<path d="M425.3 292.1L433.6 288.5" fill="none" stroke="#9b979b" stroke-width="0.25"/>
<path d="M414 266.7L431.3 293.1" fill="none" stroke="#8b878b" stroke-width="0.3"/>
<path d="M460.8 302.9L501.6 296.2L502.8 306.3L462 313Z" fill="#f1f0f0" stroke="#8b878b" stroke-width="0.35"/>
<path d="M461.3 306.3L502.1 299.6" fill="none" stroke="#8b878b" stroke-width="0.3"/>
<path d="M461.5 309.6L502.3 302.9" fill="none" stroke="#8b878b" stroke-width="0.3"/>
<path d="M464.2 302.4L465.4 312.4" fill="none" stroke="#a5a1a5" stroke-width="0.25"/>
<path d="M467.6 301.8L468.8 311.9" fill="none" stroke="#a5a1a5" stroke-width="0.25"/>
<path d="M471 301.2L472.2 311.3" fill="none" stroke="#a5a1a5" stroke-width="0.25"/>
<path d="M474.4 300.7L475.6 310.8" fill="none" stroke="#a5a1a5" stroke-width="0.25"/>
<path d="M477.8 300.1L479 310.2" fill="none" stroke="#a5a1a5" stroke-width="0.25"/>
<path d="M481.2 299.6L482.4 309.6" fill="none" stroke="#a5a1a5" stroke-width="0.25"/>
<path d="M484.6 299L485.8 309.1" fill="none" stroke="#a5a1a5" stroke-width="0.25"/>
<path d="M488 298.4L489.2 308.5" fill="none" stroke="#a5a1a5" stroke-width="0.25"/>
<path d="M491.4 297.9L492.6 308" fill="none" stroke="#a5a1a5" stroke-width="0.25"/>
<path d="M494.8 297.3L496 307.4" fill="none" stroke="#a5a1a5" stroke-width="0.25"/>
<path d="M498.2 296.8L499.4 306.8" fill="none" stroke="#a5a1a5" stroke-width="0.25"/>
<path d="M435.6 291.4L442.8 289.7L463.2 302.2" fill="none" stroke="#8b878b" stroke-width="0.3"/>
<path d="M483.6 242.2L529.2 242.2L531.6 261.4L514.8 277L483.6 249.4Z" fill="#fdfbf8" stroke="#cfcbcf" stroke-width="0.4"/>
<path d="M502.8 262.6L505.2 265L502.8 267.4L500.4 265Z" fill="#0d0d10"/>
<path d="M335.8 146.9L335.8 137.8L281 137.8L277.3 142.4L277.3 168L283.7 185.4L293.8 202.7L308.4 218.3L273.7 249.9" fill="none" stroke="#c9c4c8" stroke-width="0.4"/>
<path d="M288.3 148.8L288.3 168.9L295.6 186.3L311.2 205.5L319 214.3" fill="none" stroke="#ddd8db" stroke-width="0.35"/>
<path d="M281.3 143.3L282.1 142L283.5 142L284.3 143.3L283.5 144.6L282.1 144.6Z" fill="none" stroke="#dcd7da" stroke-width="0.3"/>
<path d="M291.4 143.3L292.1 142L293.6 142L294.3 143.3L293.6 144.6L292.1 144.6Z" fill="none" stroke="#dcd7da" stroke-width="0.3"/>
<path d="M301.1 143.3L301.8 142L303.3 142L304 143.3L303.3 144.6L301.8 144.6Z" fill="none" stroke="#dcd7da" stroke-width="0.3"/>
<path d="M310.6 143.3L311.3 142L312.8 142L313.5 143.3L312.8 144.6L311.3 144.6Z" fill="none" stroke="#dcd7da" stroke-width="0.3"/>
<path d="M320.1 143.3L320.9 142L322.3 142L323 143.3L322.3 144.6L320.9 144.6Z" fill="none" stroke="#dcd7da" stroke-width="0.3"/>
<path d="M280.6 152.4L281.3 151.2L282.8 151.2L283.5 152.4L282.8 153.7L281.3 153.7Z" fill="none" stroke="#dcd7da" stroke-width="0.3"/>
<path d="M280.6 164.3L281.3 163L282.8 163L283.5 164.3L282.8 165.6L281.3 165.6Z" fill="none" stroke="#dcd7da" stroke-width="0.3"/>
<path d="M336.8 151.7L339.9 148.8L361.7 148.2L361.7 157.3L336.8 157.3ZM361.7 139.5L374.9 138.9L374.9 155.7L361.7 157.3Z" fill="#bde0ea" stroke="#f4eff5" stroke-width="0.4" stroke-linejoin="round"/>
<path d="M374.9 138.9L390.7 138.9L390.7 155.7L374.9 155.7Z" fill="#cbbde0" stroke="#f4eff5" stroke-width="0.4" stroke-linejoin="round"/>
<path d="M390.7 138.9L437.1 138.9L439.5 141.9L439.5 149.8L407.5 149.8L407.5 155.7L390.7 155.7ZM407.5 149.8L423.3 149.8L423.3 157.7L407.5 157.7Z" fill="#bde0ea" stroke="#f4eff5" stroke-width="0.4" stroke-linejoin="round"/>
<path d="M423.3 150.5L436.4 150.5L436.4 157.7L423.3 157.7Z" fill="#f4b488" stroke="#f4eff5" stroke-width="0.4" stroke-linejoin="round"/>
<path d="M440.1 148.8L458.1 148.8L458.1 157.3L440.1 157.3Z" fill="#bde0ea" stroke="#f4eff5" stroke-width="0.4" stroke-linejoin="round"/>
<path d="M288.6 149.8L308.7 149.8L308.7 167.9L288.6 167.9ZM316.6 149.8L336.8 148.8L336.8 157.7L333.4 167.1L316.6 167.1Z" fill="#b8d294" stroke="#f4eff5" stroke-width="0.4" stroke-linejoin="round"/>
<path d="M288.6 167.9L309.1 167.9L309.1 179.4L305.7 186.3L295.9 183.3L289.9 175.4Z" fill="#cbbde0" stroke="#f4eff5" stroke-width="0.4" stroke-linejoin="round"/>
<path d="M316.2 175.8L327.7 175.8L327.7 184.5L316.2 184.5Z" fill="#f4b488" stroke="#f4eff5" stroke-width="0.4" stroke-linejoin="round"/>
<path d="M295.9 183.3L305.7 186.3L317.6 185.7L317.6 198.2L309.7 202.1L301.8 193.2Z" fill="#cbbde0" stroke="#f4eff5" stroke-width="0.4" stroke-linejoin="round"/>
<path d="M317.6 187.3L327.7 187.3L327.7 199.2L317.6 199.2ZM309.7 202.1L317.6 198.2L327.7 199.2L327.7 209.4L319.8 215L314.6 209Z" fill="#bde0ea" stroke="#f4eff5" stroke-width="0.4" stroke-linejoin="round"/>
<path d="M356.1 187.3L373.3 187.3L373.3 230.8L358.1 230.8L358.1 205.1L356.1 205.1Z" fill="#fdfcfb" stroke="#e2dcdc" stroke-width="0.3"/>
<path d="M365 169.1L373.3 169.1L373.3 187.3L365 187.3Z" fill="#fdfcfb" stroke="#e2dcdc" stroke-width="0.3"/>
<path d="M344.3 169.1L365 169.1L365 187.3L339.9 187.3L339.9 174.5ZM339.9 187.3L356.1 187.3L356.1 205.1L339.9 205.1Z" fill="#cbbde0" stroke="#f4eff5" stroke-width="0.4" stroke-linejoin="round"/>
<path d="M339.9 205.1L358.1 205.1L358.1 230.8L339.9 230.8Z" fill="#b8d294" stroke="#f4eff5" stroke-width="0.4" stroke-linejoin="round"/>
<path d="M373.3 169.1L390.7 169.1L390.7 188.3L373.3 188.3Z" fill="#cbbde0" stroke="#f4eff5" stroke-width="0.4" stroke-linejoin="round"/>
<path d="M390.7 169.1L414.4 169.1L414.4 177.4L405.5 177.4L405.5 188.3L390.7 188.3Z" fill="#b8d294" stroke="#f4eff5" stroke-width="0.4" stroke-linejoin="round"/>
<path d="M373.3 188.3L390.7 188.3L390.7 230.8L373.3 230.8Z" fill="#f1c5e1" stroke="#f4eff5" stroke-width="0.4" stroke-linejoin="round"/>
<path d="M391.1 188.3L405.9 188.3L405.9 230.8L391.1 230.8Z" fill="#88a9d7" stroke="#f4eff5" stroke-width="0.4" stroke-linejoin="round"/>
<path d="M405.9 177.4L414.4 177.4L414.4 169.1L435.2 169.1L435.2 230.8L424.3 230.8L424.3 222.9L420.3 212L407.1 212L405.9 212Z" fill="#fdfcfb" stroke="#e2dcdc" stroke-width="0.3"/>
<path d="M407.1 212L420.3 212L424.3 222.9L424.3 230.8L407.1 230.8Z" fill="#cbbde0" stroke="#f4eff5" stroke-width="0.4" stroke-linejoin="round"/>
<path d="M359.1 193.2L371.9 193.2" fill="none" stroke="#cfcacc" stroke-width="0.25"/>
<path d="M359.1 195.6L371.9 195.6" fill="none" stroke="#cfcacc" stroke-width="0.25"/>
<path d="M359.1 198L371.9 198" fill="none" stroke="#cfcacc" stroke-width="0.25"/>
<path d="M359.1 200.3L371.9 200.3" fill="none" stroke="#cfcacc" stroke-width="0.25"/>
<path d="M359.1 202.7L371.9 202.7" fill="none" stroke="#cfcacc" stroke-width="0.25"/>
<path d="M359.1 205.1L371.9 205.1" fill="none" stroke="#cfcacc" stroke-width="0.25"/>
<path d="M359.1 207.5L371.9 207.5" fill="none" stroke="#cfcacc" stroke-width="0.25"/>
<path d="M359.1 209.8L371.9 209.8" fill="none" stroke="#cfcacc" stroke-width="0.25"/>
<path d="M359.1 212.2L371.9 212.2" fill="none" stroke="#cfcacc" stroke-width="0.25"/>
<path d="M359.1 214.6L371.9 214.6" fill="none" stroke="#cfcacc" stroke-width="0.25"/>
<path d="M359.1 216.9L371.9 216.9" fill="none" stroke="#cfcacc" stroke-width="0.25"/>
<path d="M359.1 219.3L371.9 219.3" fill="none" stroke="#cfcacc" stroke-width="0.25"/>
<path d="M359.1 221.7L371.9 221.7" fill="none" stroke="#cfcacc" stroke-width="0.25"/>
<path d="M359.1 224.1L371.9 224.1" fill="none" stroke="#cfcacc" stroke-width="0.25"/>
<path d="M359.1 193.2L359.1 224.8" fill="none" stroke="#bdb8ba" stroke-width="0.3"/>
<path d="M365.6 193.2L365.6 224.8" fill="none" stroke="#bdb8ba" stroke-width="0.3"/>
<path d="M371.9 193.2L371.9 224.8" fill="none" stroke="#bdb8ba" stroke-width="0.3"/>
<path d="M408.5 189.3L423.3 189.3L423.3 209L408.5 209Z" fill="none" stroke="#bdb8ba" stroke-width="0.3"/>
<path d="M415.4 191.3L423.3 191.3L423.3 207.1L415.4 207.1Z" fill="none" stroke="#cfcacc" stroke-width="0.3"/>
<path d="M407.5 176.4L413.4 176.4L413.4 185.3L407.5 185.3Z" fill="none" stroke="#cfcacc" stroke-width="0.3"/>
<path d="M416.4 174.5L423.3 174.5L423.3 185.3L416.4 185.3Z" fill="none" stroke="#cfcacc" stroke-width="0.3"/>
<path d="M455 148.8L458 148.8L458 139.9L471.8 139.9L471.8 156.7L455 156.7Z" fill="#bde0ea" stroke="#f4eff5" stroke-width="0.4" stroke-linejoin="round"/>
<path d="M471.8 139.9L487.6 139.9L487.6 156.7L471.8 156.7Z" fill="#cbbde0" stroke="#f4eff5" stroke-width="0.4" stroke-linejoin="round"/>
<path d="M487.6 139.9L502.4 139.9L502.4 156.7L487.6 156.7Z" fill="#bde0ea" stroke="#f4eff5" stroke-width="0.4" stroke-linejoin="round"/>
<path d="M502.4 138.9L536 140.9L536 156.7L502.4 156.7Z" fill="#cbbde0" stroke="#f4eff5" stroke-width="0.4" stroke-linejoin="round"/>
<path d="M536 148.8L553.2 148.8L553.2 167.5L536 159.2Z" fill="#bde0ea" stroke="#f4eff5" stroke-width="0.4" stroke-linejoin="round"/>
<path d="M553.2 148.8L569.6 148.8L569.6 166.6L570.6 176.4L553.2 167.5Z" fill="#cbbde0" stroke="#f4eff5" stroke-width="0.4" stroke-linejoin="round"/>
<path d="M570.6 165.6L587.4 165.6L587.4 177.4L573.6 177.4L570.6 176.4ZM587.4 165.6L604.2 165.6L604.2 177.4L587.4 177.4ZM604.2 165.6L622 165.6L622 177.4L604.2 177.4ZM622 165.6L637.8 165.6L637.8 177.4L622 177.4Z" fill="#bde0ea" stroke="#f4eff5" stroke-width="0.4" stroke-linejoin="round"/>
<path d="M601.8 166.9L607.3 166.9L607.3 174.1L601.8 174.1Z" fill="#0d0d10"/>
<path d="M633.8 166.9L637.8 166.9L637.8 174.1L633.8 174.1Z" fill="#0d0d10"/>
<path d="M435.4 169.1L463.9 169.1L463.9 187.3L471.2 187.3L471.2 213L454 213L454 230.8L435.4 230.8Z" fill="#fdfcfb" stroke="#e2dcdc" stroke-width="0.3"/>
<path d="M438.2 189.3L438.2 224.8" fill="none" stroke="#d2cdcf" stroke-width="0.25"/>
<path d="M440 189.3L440 224.8" fill="none" stroke="#d2cdcf" stroke-width="0.25"/>
<path d="M441.8 189.3L441.8 224.8" fill="none" stroke="#d2cdcf" stroke-width="0.25"/>
<path d="M443.5 189.3L443.5 224.8" fill="none" stroke="#d2cdcf" stroke-width="0.25"/>
<path d="M445.3 189.3L445.3 224.8" fill="none" stroke="#d2cdcf" stroke-width="0.25"/>
<path d="M447.1 189.3L447.1 224.8" fill="none" stroke="#d2cdcf" stroke-width="0.25"/>
<path d="M448.9 189.3L448.9 224.8" fill="none" stroke="#d2cdcf" stroke-width="0.25"/>
<path d="M450.7 189.3L450.7 224.8" fill="none" stroke="#d2cdcf" stroke-width="0.25"/>
<path d="M452.4 189.3L452.4 224.8" fill="none" stroke="#d2cdcf" stroke-width="0.25"/>
<path d="M437.2 188.3L454 188.3L454 225.8L437.2 225.8Z" fill="none" stroke="#bdb8ba" stroke-width="0.3"/>
<path d="M437.2 170.5L462.9 170.5L462.9 180.4L437.2 180.4Z" fill="none" stroke="#d2cdcf" stroke-width="0.3"/>
<path d="M455 189.3L468.8 189.3L468.8 198.2L455 198.2Z" fill="none" stroke="#d2cdcf" stroke-width="0.3"/>
<path d="M455 201.1L468.8 201.1L468.8 211L455 211Z" fill="none" stroke="#d2cdcf" stroke-width="0.3"/>
<path d="M503.4 187.3L519.2 187.3L519.2 230.8L503.4 230.8Z" fill="#fdfcfb" stroke="#e2dcdc" stroke-width="0.3"/>
<path d="M511.3 169.1L519.2 172.5L519.2 187.3L511.3 187.3Z" fill="#fdfcfb" stroke="#e2dcdc" stroke-width="0.3"/>
<path d="M463.9 169.1L484.6 169.1L484.6 199.2L471.2 199.2L471.2 187.3L463.9 187.3Z" fill="#88a9d7" stroke="#f4eff5" stroke-width="0.4" stroke-linejoin="round"/>
<path d="M484.6 169.1L500.1 169.1L500.1 201.1L484.6 201.1Z" fill="#b8d294" stroke="#f4eff5" stroke-width="0.4" stroke-linejoin="round"/>
<path d="M500.1 169.1L511.3 169.1L511.3 187.3L500.1 187.3Z" fill="#bde0ea" stroke="#f4eff5" stroke-width="0.4" stroke-linejoin="round"/>
<path d="M471.2 199.6L484.6 199.6L484.6 230.8L471.2 230.8ZM484.6 201.1L503.4 201.1L503.4 230.8L484.6 230.8Z" fill="#b8d294" stroke="#f4eff5" stroke-width="0.4" stroke-linejoin="round"/>
<path d="M454 213L469.8 213L469.8 230.8L454 230.8Z" fill="#bde0ea" stroke="#f4eff5" stroke-width="0.4" stroke-linejoin="round"/>
<path d="M519.2 173.1L523.2 169.1L531.1 169.1L531.1 194.2L519.2 194.2Z" fill="#cbbde0" stroke="#f4eff5" stroke-width="0.4" stroke-linejoin="round"/>
<path d="M519.2 194.2L531.1 194.2L531.1 212L519.2 212ZM519.2 212L531.1 212L531.1 230.8L519.2 230.8Z" fill="#bde0ea" stroke="#f4eff5" stroke-width="0.4" stroke-linejoin="round"/>
<path d="M506 189.3L517.2 189.3" fill="none" stroke="#d2cdcf" stroke-width="0.25"/>
<path d="M506 191.5L517.2 191.5" fill="none" stroke="#d2cdcf" stroke-width="0.25"/>
<path d="M506 193.6L517.2 193.6" fill="none" stroke="#d2cdcf" stroke-width="0.25"/>
<path d="M506 195.8L517.2 195.8" fill="none" stroke="#d2cdcf" stroke-width="0.25"/>
<path d="M506 198L517.2 198" fill="none" stroke="#d2cdcf" stroke-width="0.25"/>
<path d="M506 200.1L517.2 200.1" fill="none" stroke="#d2cdcf" stroke-width="0.25"/>
<path d="M506 202.3L517.2 202.3" fill="none" stroke="#d2cdcf" stroke-width="0.25"/>
<path d="M506 204.5L517.2 204.5" fill="none" stroke="#d2cdcf" stroke-width="0.25"/>
<path d="M506 206.7L517.2 206.7" fill="none" stroke="#d2cdcf" stroke-width="0.25"/>
<path d="M506 208.8L517.2 208.8" fill="none" stroke="#d2cdcf" stroke-width="0.25"/>
<path d="M506 211L517.2 211" fill="none" stroke="#d2cdcf" stroke-width="0.25"/>
<path d="M506 213.2L517.2 213.2" fill="none" stroke="#d2cdcf" stroke-width="0.25"/>
<path d="M506 215.4L517.2 215.4" fill="none" stroke="#d2cdcf" stroke-width="0.25"/>
<path d="M506 217.5L517.2 217.5" fill="none" stroke="#d2cdcf" stroke-width="0.25"/>
<path d="M506 219.7L517.2 219.7" fill="none" stroke="#d2cdcf" stroke-width="0.25"/>
<path d="M506 221.9L517.2 221.9" fill="none" stroke="#d2cdcf" stroke-width="0.25"/>
<path d="M506 224.1L517.2 224.1" fill="none" stroke="#d2cdcf" stroke-width="0.25"/>
<path d="M506 226.2L517.2 226.2" fill="none" stroke="#d2cdcf" stroke-width="0.25"/>
<path d="M506 228.4L517.2 228.4" fill="none" stroke="#d2cdcf" stroke-width="0.25"/>
<path d="M506 189.3L506 228.8" fill="none" stroke="#bdb8ba" stroke-width="0.3"/>
<path d="M511.7 189.3L511.7 228.8" fill="none" stroke="#bdb8ba" stroke-width="0.3"/>
<path d="M517.2 189.3L517.2 228.8" fill="none" stroke="#bdb8ba" stroke-width="0.3"/>
<path d="M541.9 178.4L557.7 178.4L562.7 189.3L562.7 195.2L547.9 208L540 195.2L540 181.8Z" fill="#fdfbf8" stroke="#d6d0d3" stroke-width="0.4"/>
<path d="M548.7 188.3L554.2 188.3L554.2 193.4L548.7 193.4Z" fill="#0d0d10"/>
<path d="M571.2 201.1L576.9 201.1L576.9 219.9L571.2 220.9L568 213Z" fill="#bde0ea" stroke="#f4eff5" stroke-width="0.4" stroke-linejoin="round"/>
<path d="M543.5 214L567.2 204.1L571.2 213L571.2 220.9L543.5 222.9Z" fill="#cbbde0" stroke="#f4eff5" stroke-width="0.4" stroke-linejoin="round"/>
<path d="M543.9 222.9L560.9 222.9L560.9 240.7L543.9 240.7ZM543.9 240.7L560.9 240.7L556.2 252.5L543.9 252.5Z" fill="#bde0ea" stroke="#f4eff5" stroke-width="0.4" stroke-linejoin="round"/>
<path d="M548.5 219.7L554.4 219.7L554.4 224.8L548.5 224.8Z" fill="#0d0d10"/>
<path d="M548.9 251.9L554.8 251.9L554.8 257L548.9 257Z" fill="#0d0d10"/>
<path d="M586.4 203.1L635 203.1L635 265L586.4 265Z" fill="#fdfcfb" stroke="#e2dcdc" stroke-width="0.2"/>
<path d="M602.2 191.3L614.1 191.3L614.1 202.3L602.2 202.3Z" fill="#bde0ea" stroke="#f4eff5" stroke-width="0.4" stroke-linejoin="round"/>
<path d="M614.1 191.3L626.9 191.3L626.9 238.3L614.1 238.3Z" fill="#88a9d7" stroke="#f4eff5" stroke-width="0.4" stroke-linejoin="round"/>
<path d="M626.9 191.3L637.8 191.3L637.8 202.3L626.9 202.3Z" fill="#f4b488" stroke="#f4eff5" stroke-width="0.4" stroke-linejoin="round"/>
<path d="M625.2 165.7L668.7 165.7L668.7 179.5L625.2 177.9Z" fill="#bde0ea" stroke="#f4eff5" stroke-width="0.4" stroke-linejoin="round"/>
<path d="M668.7 165.7L692.4 165.7L695.3 168.4L695.3 189.8L681.5 191.3L668.7 179.9Z" fill="#88a9d7" stroke="#f4eff5" stroke-width="0.4" stroke-linejoin="round"/>
<path d="M681.5 189.8L695.3 189.8L695.3 202.6L686.5 202.6Z" fill="#bde0ea" stroke="#f4eff5" stroke-width="0.4" stroke-linejoin="round"/>
<path d="M601.7 168L607.2 168L607.2 174.3L601.7 174.3Z" fill="#0d0d10"/>
<path d="M633.3 168L638.8 168L638.8 174.3L633.3 174.3Z" fill="#0d0d10"/>
<path d="M664.9 168L670.5 168L670.5 174.3L664.9 174.3Z" fill="#0d0d10"/>
<path d="M685.9 187.4L691.8 187.4L691.8 192.9L685.9 192.9Z" fill="#0d0d10"/>
<path d="M684.5 220.4L696.3 220.4L696.3 237.2L684.5 237.2ZM684.5 237.2L696.3 237.2L696.3 254L684.5 254ZM684.5 254L696.3 254L696.3 270.8L684.5 270.8ZM684.5 270.8L696.3 270.8L696.3 287.6L684.5 287.6Z" fill="#bde0ea" stroke="#f4eff5" stroke-width="0.4" stroke-linejoin="round"/>
<path d="M684.5 287.6L696.3 287.6L696.3 298.4L684.5 298.4Z" fill="#f4b488" stroke="#f4eff5" stroke-width="0.4" stroke-linejoin="round"/>
<path d="M685.9 220.4L691.8 220.4L691.8 225.5L685.9 225.5Z" fill="#0d0d10"/>
<path d="M685.9 252L691.8 252L691.8 257.1L685.9 257.1Z" fill="#0d0d10"/>
<path d="M685.9 284L691.8 284L691.8 289.1L685.9 289.1Z" fill="#0d0d10"/>
<path d="M585.7 202.6L656.4 202.6L656.4 275.7L585.7 275.7Z" fill="#fdfcfb" stroke="#e2dcdc" stroke-width="0.2"/>
<path d="M601.9 190.7L614.3 190.7L614.3 202L601.9 202Z" fill="#bde0ea" stroke="#f4eff5" stroke-width="0.4" stroke-linejoin="round"/>
<path d="M614.3 190.7L626.8 190.7L626.8 238.2L614.3 238.2Z" fill="#88a9d7" stroke="#f4eff5" stroke-width="0.4" stroke-linejoin="round"/>
<path d="M614.3 238.2L626.8 238.2L626.8 290.5L614.3 290.5Z" fill="#f1c5e1" stroke="#f4eff5" stroke-width="0.4" stroke-linejoin="round"/>
<path d="M626.8 190.7L638 190.7L638 202L626.8 202Z" fill="#f4b488" stroke="#f4eff5" stroke-width="0.4" stroke-linejoin="round"/>
<path d="M638 190.7L652.9 190.7L659.2 197.7L656.4 202L638 202Z" fill="#cbbde0" stroke="#f4eff5" stroke-width="0.4" stroke-linejoin="round"/>
<path d="M656.4 199.6L666.7 199.6L675 206.6L675 222.6L656.4 222.6Z" fill="#b8d294" stroke="#f4eff5" stroke-width="0.4" stroke-linejoin="round"/>
<path d="M656.4 223L674 223L674 238.2L656.4 238.2ZM656.4 238.2L674 238.2L674 255L656.4 255Z" fill="#cbbde0" stroke="#f4eff5" stroke-width="0.4" stroke-linejoin="round"/>
<path d="M656.4 255L674 255L674 270.8L656.4 270.8Z" fill="#bde0ea" stroke="#f4eff5" stroke-width="0.4" stroke-linejoin="round"/>
<path d="M656.4 270.8L674 270.8L674 282.6L666.7 290.5L656.4 290.5Z" fill="#cbbde0" stroke="#f4eff5" stroke-width="0.4" stroke-linejoin="round"/>
<path d="M601.5 275.7L614.3 275.7L614.3 290.5L601.5 290.5ZM627.2 275.7L641.4 275.7L641.4 290.5L627.2 290.5ZM641.4 275.7L656.4 275.7L656.4 290.5L641.4 290.5Z" fill="#bde0ea" stroke="#f4eff5" stroke-width="0.4" stroke-linejoin="round"/>
<path d="M586.7 277.7L596.8 277.7L596.8 290.5L586.7 290.5ZM570.9 284.6L584.9 284.6L584.9 292.5L570.9 292.5Z" fill="#f4b488" stroke="#f4eff5" stroke-width="0.4" stroke-linejoin="round"/>
<path d="M594.6 204L586.7 204L586.7 239.2" fill="none" stroke="#0d0d10" stroke-width="2.6"/>
<path d="M586.7 249.4L586.7 273.3L594.6 273.3" fill="none" stroke="#0d0d10" stroke-width="2.6"/>
<path d="M613.3 204L603.5 204L603.5 273.3L613.3 273.3" fill="none" stroke="#0d0d10" stroke-width="2.6"/>
<path d="M602.5 238.2L614.3 238.2" fill="none" stroke="#0d0d10" stroke-width="2.6"/>
<path d="M627.2 204L637.5 204L637.5 273.3L627.2 273.3" fill="none" stroke="#0d0d10" stroke-width="2.6"/>
<path d="M626.8 238.2L638 238.2" fill="none" stroke="#0d0d10" stroke-width="2.6"/>
<path d="M646.9 204L654.8 204L654.8 228.3" fill="none" stroke="#0d0d10" stroke-width="2.6"/>
<path d="M654.8 239.2L654.8 273.3L646.9 273.3" fill="none" stroke="#0d0d10" stroke-width="2.6"/>
<path d="M589.6 209.5L600.5 209.5" fill="none" stroke="#d6d1d3" stroke-width="0.25"/>
<path d="M641 213.5L651.9 213.5" fill="none" stroke="#d6d1d3" stroke-width="0.25"/>
<path d="M589.6 211.9L600.5 211.9" fill="none" stroke="#d6d1d3" stroke-width="0.25"/>
<path d="M641 215.8L651.9 215.8" fill="none" stroke="#d6d1d3" stroke-width="0.25"/>
<path d="M589.6 214.3L600.5 214.3" fill="none" stroke="#d6d1d3" stroke-width="0.25"/>
<path d="M641 218.2L651.9 218.2" fill="none" stroke="#d6d1d3" stroke-width="0.25"/>
<path d="M589.6 216.6L600.5 216.6" fill="none" stroke="#d6d1d3" stroke-width="0.25"/>
<path d="M641 220.6L651.9 220.6" fill="none" stroke="#d6d1d3" stroke-width="0.25"/>
<path d="M589.6 219L600.5 219" fill="none" stroke="#d6d1d3" stroke-width="0.25"/>
<path d="M641 223L651.9 223" fill="none" stroke="#d6d1d3" stroke-width="0.25"/>
<path d="M589.6 221.4L600.5 221.4" fill="none" stroke="#d6d1d3" stroke-width="0.25"/>
<path d="M641 225.3L651.9 225.3" fill="none" stroke="#d6d1d3" stroke-width="0.25"/>
<path d="M589.6 223.7L600.5 223.7" fill="none" stroke="#d6d1d3" stroke-width="0.25"/>
<path d="M641 227.7L651.9 227.7" fill="none" stroke="#d6d1d3" stroke-width="0.25"/>
<path d="M589.6 226.1L600.5 226.1" fill="none" stroke="#d6d1d3" stroke-width="0.25"/>
<path d="M641 230.1L651.9 230.1" fill="none" stroke="#d6d1d3" stroke-width="0.25"/>
<path d="M589.6 228.5L600.5 228.5" fill="none" stroke="#d6d1d3" stroke-width="0.25"/>
<path d="M641 232.4L651.9 232.4" fill="none" stroke="#d6d1d3" stroke-width="0.25"/>
<path d="M589.6 230.9L600.5 230.9" fill="none" stroke="#d6d1d3" stroke-width="0.25"/>
<path d="M641 234.8L651.9 234.8" fill="none" stroke="#d6d1d3" stroke-width="0.25"/>
<path d="M589.6 233.2L600.5 233.2" fill="none" stroke="#d6d1d3" stroke-width="0.25"/>
<path d="M641 237.2L651.9 237.2" fill="none" stroke="#d6d1d3" stroke-width="0.25"/>
<path d="M605.8 207.5L611.8 207.5L611.8 235.2L605.8 235.2Z" fill="none" stroke="#cfcacc" stroke-width="0.3"/>
<path d="M629.2 207.5L635.1 207.5L635.1 235.2L629.2 235.2Z" fill="none" stroke="#cfcacc" stroke-width="0.3"/>
<path d="M605.8 241.1L611.8 241.1L611.8 270.8L605.8 270.8Z" fill="none" stroke="#cfcacc" stroke-width="0.3"/>
<path d="M629.2 241.1L635.1 241.1L635.1 270.8L629.2 270.8Z" fill="none" stroke="#cfcacc" stroke-width="0.3"/>
<path d="M541.2 267.2L553.8 266L558 273.5L558 283.5L567.5 283.5L567.5 293.5L553.8 294.8L546.2 304.8L532.5 296L527.5 287.2L532.5 278.5Z" fill="#bde0ea" stroke="#f4eff5" stroke-width="0.4" stroke-linejoin="round"/>
<path d="M548.2 284L554.2 284L554.2 289L548.2 289Z" fill="#0d0d10"/>
<path d="M537.5 292.8L540 295.2L537.5 297.8L535 295.2Z" fill="#0d0d10"/>
<path d="M503 262.8L505.5 265.2L503 267.8L500.5 265.2Z" fill="#0d0d10"/>
<path d="M569.6 303.9L584.5 303.9L584.5 329L569.6 329L560.7 321.7L560.7 314.8ZM584.5 303.9L604.2 303.9L604.2 329L584.5 329Z" fill="#b8d294" stroke="#f4eff5" stroke-width="0.4" stroke-linejoin="round"/>
<path d="M604.2 320.3L668.4 320.3L668.4 329L604.2 329Z" fill="#fdfcfb" stroke="#e2dcdc" stroke-width="0.3"/>
<path d="M604.2 303.9L621 303.9L621 320.3L604.2 320.3ZM621 303.9L637.8 303.9L637.8 320.3L621 320.3ZM637.8 303.9L653.6 303.9L653.6 320.3L637.8 320.3ZM653.6 303.9L668.4 303.9L668.4 320.3L653.6 320.3Z" fill="#bde0ea" stroke="#f4eff5" stroke-width="0.4" stroke-linejoin="round"/>
<path d="M668.4 303.9L676.7 306.9L688.6 329L668.4 329Z" fill="#cbbde0" stroke="#f4eff5" stroke-width="0.4" stroke-linejoin="round"/>
<path d="M570 303.5L575.2 303.5L575.2 310.2L570 310.2Z" fill="#0d0d10"/>
<path d="M570.4 311.4L574 311.4L574 315L570.4 315Z" fill="#0d0d10"/>
<path d="M601.6 303.5L606.8 303.5L606.8 310.2L601.6 310.2Z" fill="#0d0d10"/>
<path d="M602 311.4L605.6 311.4L605.6 315L602 315Z" fill="#0d0d10"/>
<path d="M633.9 303.5L639 303.5L639 310.2L633.9 310.2Z" fill="#0d0d10"/>
<path d="M634.3 311.4L637.8 311.4L637.8 315L634.3 315Z" fill="#0d0d10"/>
<path d="M665.5 303.5L670.6 303.5L670.6 310.2L665.5 310.2Z" fill="#0d0d10"/>
<path d="M665.9 311.4L669.4 311.4L669.4 315L665.9 315Z" fill="#0d0d10"/>
<path d="M563.7 314.4L566.1 316.7L563.7 319.1L561.3 316.7Z" fill="#0d0d10"/>
<path d="M626.9 322.7L633.3 322.7L633.3 327.6L626.9 327.6Z" fill="none" stroke="#c9c4c6" stroke-width="0.3"/>
<path d="M638.8 322.7L645.1 322.7L645.1 327.6L638.8 327.6Z" fill="none" stroke="#c9c4c6" stroke-width="0.3"/>
<path d="M647.7 322.7L654 322.7L654 327.6L647.7 327.6Z" fill="none" stroke="#c9c4c6" stroke-width="0.3"/>
<path d="M658.6 322.7L664.9 322.7L664.9 327.6L658.6 327.6Z" fill="none" stroke="#c9c4c6" stroke-width="0.3"/>
<path d="M686.2 299L715.9 299L715.9 318.7L698.1 320.7L686.2 303.9Z" fill="#b8d294" stroke="#f4eff5" stroke-width="0.4" stroke-linejoin="round"/>
<path d="M700.4 320.7L715.9 319.7L715.9 332.5L704.4 333.5Z" fill="#bde0ea" stroke="#f4eff5" stroke-width="0.4" stroke-linejoin="round"/>
<path d="M711.5 333.5L715.9 333.5L715.9 425.4L711.5 425.4Z" fill="#f4b488" stroke="#f4eff5" stroke-width="0.4" stroke-linejoin="round"/>
<path d="M598.3 341.4L675.3 341.4L675.3 383.9L598.3 383.9Z" fill="#fdfcfb" stroke="#e2dcdc" stroke-width="0.3"/>
<path d="M598.3 351.3L624 351.3L624 359.2L630.9 359.2L630.9 371.1L598.3 371.1Z" fill="#88a9d7" stroke="#f4eff5" stroke-width="0.4" stroke-linejoin="round"/>
<path d="M598.3 371.7L623 371.7L623 383.9L598.3 383.9Z" fill="#cbbde0" stroke="#f4eff5" stroke-width="0.4" stroke-linejoin="round"/>
<path d="M675.3 339.5L694.5 339.5L699.3 344.4L699.3 358.6L675.3 358.6Z" fill="#b8d294" stroke="#f4eff5" stroke-width="0.4" stroke-linejoin="round"/>
<path d="M666.5 359.2L699.7 359.2L699.7 383.9L675.3 383.9L675.3 371.1L666.5 371.1Z" fill="#f1c5e1" stroke="#f4eff5" stroke-width="0.4" stroke-linejoin="round"/>
<path d="M639.8 352.3L660.5 352.3" fill="none" stroke="#cfcacc" stroke-width="0.25"/>
<path d="M639.8 354.5L660.5 354.5" fill="none" stroke="#cfcacc" stroke-width="0.25"/>
<path d="M639.8 356.6L660.5 356.6" fill="none" stroke="#cfcacc" stroke-width="0.25"/>
<path d="M639.8 358.8L660.5 358.8" fill="none" stroke="#cfcacc" stroke-width="0.25"/>
<path d="M639.8 361L660.5 361" fill="none" stroke="#cfcacc" stroke-width="0.25"/>
<path d="M639.8 363.2L660.5 363.2" fill="none" stroke="#cfcacc" stroke-width="0.25"/>
<path d="M639.8 365.3L660.5 365.3" fill="none" stroke="#cfcacc" stroke-width="0.25"/>
<path d="M639.8 367.5L660.5 367.5" fill="none" stroke="#cfcacc" stroke-width="0.25"/>
<path d="M639.8 369.7L660.5 369.7" fill="none" stroke="#cfcacc" stroke-width="0.25"/>
<path d="M639.8 371.9L660.5 371.9" fill="none" stroke="#cfcacc" stroke-width="0.25"/>
<path d="M639.8 374L660.5 374" fill="none" stroke="#cfcacc" stroke-width="0.25"/>
<path d="M639.8 376.2L660.5 376.2" fill="none" stroke="#cfcacc" stroke-width="0.25"/>
<path d="M639.8 378.4L660.5 378.4" fill="none" stroke="#cfcacc" stroke-width="0.25"/>
<path d="M639.8 352.3L639.8 380" fill="none" stroke="#bdb8ba" stroke-width="0.3"/>
<path d="M650.1 352.3L650.1 380" fill="none" stroke="#bdb8ba" stroke-width="0.3"/>
<path d="M660.5 352.3L660.5 380" fill="none" stroke="#bdb8ba" stroke-width="0.3"/>
<path d="M630.9 342.4L666.5 342.4L666.5 347.4L630.9 347.4Z" fill="none" stroke="#c9c4c6" stroke-width="0.3"/>
<path d="M551.3 330.8L583.1 348.2L583.1 393.3L561.5 429.2L528.7 429.2L528.7 359.5Z" fill="#fdfbf9" stroke="#c6c6ca" stroke-width="1.2"/>
<path d="M551.7 333.8L581 349.8L581 392.3L560.3 427.2L530.8 427.2L530.8 360.3Z" fill="none" stroke="#dedee1" stroke-width="0.5"/>
<path d="M570.8 352.3L581 352.3L581 363.6L570.8 363.6Z" fill="none" stroke="#bdb8ba" stroke-width="0.3"/>
<path d="M570.8 366.7L581 366.7L581 376.9L570.8 376.9Z" fill="none" stroke="#bdb8ba" stroke-width="0.3"/>
<path d="M624 398L676.3 398L676.3 415.7L666.5 415.7L666.5 442.4L658.2 442.4L658.2 448L630.9 448L630.9 429.6L624 429.6Z" fill="#fdfcfb" stroke="#e2dcdc" stroke-width="0.3"/>
<path d="M601.6 398L624 398L624 421.7L601.6 421.7Z" fill="#b8d294" stroke="#f4eff5" stroke-width="0.4" stroke-linejoin="round"/>
<path d="M595.7 399.3L601.6 398L601.6 408.8L593.7 411.8Z" fill="#cbbde0" stroke="#f4eff5" stroke-width="0.4" stroke-linejoin="round"/>
<path d="M588.4 411.8L601.6 408.8L601.6 421.7L583.9 423.7Z" fill="#bde0ea" stroke="#f4eff5" stroke-width="0.4" stroke-linejoin="round"/>
<path d="M580.5 428.6L583.9 423.7L618 423.7L618 433.5L585.4 433.5ZM585.4 433.5L618 433.5L618 445.4L593.3 445.4ZM593.3 445.4L618 445.4L618 462.2L601.3 462.2Z" fill="#cbbde0" stroke="#f4eff5" stroke-width="0.4" stroke-linejoin="round"/>
<path d="M618.6 429.6L630.9 429.6L630.9 462.2L618.6 462.2Z" fill="#b8d294" stroke="#f4eff5" stroke-width="0.4" stroke-linejoin="round"/>
<path d="M630.9 448L644.7 448L644.7 462.2L630.9 462.2Z" fill="#bde0ea" stroke="#f4eff5" stroke-width="0.4" stroke-linejoin="round"/>
<path d="M644.7 448L658.6 448L658.6 462.2L644.7 462.2Z" fill="#f4b488" stroke="#f4eff5" stroke-width="0.4" stroke-linejoin="round"/>
<path d="M658.2 442.4L672.8 442.4L678.7 447.4L667.4 462.2L658.6 462.2ZM676.3 398L693.1 398L699.7 404.5L699.7 415.7L686.2 415.7L676.3 411.8Z" fill="#cbbde0" stroke="#f4eff5" stroke-width="0.4" stroke-linejoin="round"/>
<path d="M685.2 415.7L699.7 415.7L699.7 426.6L694.1 433.5L687.2 419.7Z" fill="#bde0ea" stroke="#f4eff5" stroke-width="0.4" stroke-linejoin="round"/>
<path d="M666.5 415.7L676.3 415.7L687.2 419.7L696.1 434.5L686.6 442.4L666.5 429Z" fill="#b8d294" stroke="#f4eff5" stroke-width="0.4" stroke-linejoin="round"/>
<path d="M639.8 415.7L656.6 415.7" fill="none" stroke="#cfcacc" stroke-width="0.25"/>
<path d="M639.8 417.9L656.6 417.9" fill="none" stroke="#cfcacc" stroke-width="0.25"/>
<path d="M639.8 420.1L656.6 420.1" fill="none" stroke="#cfcacc" stroke-width="0.25"/>
<path d="M639.8 422.3L656.6 422.3" fill="none" stroke="#cfcacc" stroke-width="0.25"/>
<path d="M639.8 424.4L656.6 424.4" fill="none" stroke="#cfcacc" stroke-width="0.25"/>
<path d="M639.8 426.6L656.6 426.6" fill="none" stroke="#cfcacc" stroke-width="0.25"/>
<path d="M639.8 428.8L656.6 428.8" fill="none" stroke="#cfcacc" stroke-width="0.25"/>
<path d="M639.8 431L656.6 431" fill="none" stroke="#cfcacc" stroke-width="0.25"/>
<path d="M639.8 433.1L656.6 433.1" fill="none" stroke="#cfcacc" stroke-width="0.25"/>
<path d="M639.8 435.3L656.6 435.3" fill="none" stroke="#cfcacc" stroke-width="0.25"/>
<path d="M639.8 437.5L656.6 437.5" fill="none" stroke="#cfcacc" stroke-width="0.25"/>
<path d="M639.8 439.7L656.6 439.7" fill="none" stroke="#cfcacc" stroke-width="0.25"/>
<path d="M639.8 415.7L639.8 441.4" fill="none" stroke="#bdb8ba" stroke-width="0.3"/>
<path d="M648.3 415.7L648.3 441.4" fill="none" stroke="#bdb8ba" stroke-width="0.3"/>
<path d="M656.6 415.7L656.6 441.4" fill="none" stroke="#bdb8ba" stroke-width="0.3"/>
<path d="M631.9 399L666.5 399L666.5 410.8L631.9 410.8Z" fill="none" stroke="#c9c4c6" stroke-width="0.3"/>
<path d="M711.5 424.6L715.9 424.6L715.9 434.5L712.3 442L704 442L711.5 432.9Z" fill="#f4b488" stroke="#f4eff5" stroke-width="0.4" stroke-linejoin="round"/>
<path d="M552.8 442.4L575.6 442.4L582.7 455.3L567.7 464.2L552.8 464.2Z" fill="#b8d294" stroke="#f4eff5" stroke-width="0.4" stroke-linejoin="round"/>
<path d="M552.8 464.2L567.7 464.2L582.7 455.3L588.6 466.1L575.6 481.9L575.6 495.8L557.8 495.8L552.8 489.8Z" fill="#f1c5e1" stroke="#f4eff5" stroke-width="0.4" stroke-linejoin="round"/>
<path d="M588.6 466.1L599.3 478L599.3 495.8L575.6 495.8L575.6 481.9Z" fill="#88a9d7" stroke="#f4eff5" stroke-width="0.4" stroke-linejoin="round"/>
<path d="M599.3 475L617.1 475L617.1 495.8L599.3 495.8ZM617.1 475L632.9 475L632.9 495.8L617.1 495.8Z" fill="#cbbde0" stroke="#f4eff5" stroke-width="0.4" stroke-linejoin="round"/>
<path d="M632.9 475L655.6 475L655.6 495.8L632.9 495.8Z" fill="#b8d294" stroke="#f4eff5" stroke-width="0.4" stroke-linejoin="round"/>
<path d="M655.6 475L669.4 474L676.7 489.8L670.4 494.8L655.6 495.8ZM669.4 474L684.2 463.2L692.5 481.9L676.7 489.8ZM684.2 463.2L696.1 455.3L706.4 472.1L692.5 481.9Z" fill="#cbbde0" stroke="#f4eff5" stroke-width="0.4" stroke-linejoin="round"/>
<path d="M696.1 455.3L704 442L715.9 442L715.9 466.1L708.3 473L706.4 472.1Z" fill="#b8d294" stroke="#f4eff5" stroke-width="0.4" stroke-linejoin="round"/>
<path d="M528.1 446.4L552.8 446.4" fill="none" stroke="#a9a3a6" stroke-width="0.35"/>
<path d="M142.5 449.4L158.3 449.4L165.5 459.7L165.5 472.8L147.5 472.8L142.5 467.8Z" fill="#88a9d7" stroke="#f4eff5" stroke-width="0.4" stroke-linejoin="round"/>
<path d="M165.5 460.2L263.6 460.2L263.6 472.8L165.5 472.8Z" fill="#bde0ea" stroke="#f4eff5" stroke-width="0.4" stroke-linejoin="round"/>
<path d="M263.6 459.7L281.6 449.4L289.7 449.4L289.7 468.7L285.2 473.2L263.6 472.8Z" fill="#88a9d7" stroke="#f4eff5" stroke-width="0.4" stroke-linejoin="round"/>
<path d="M165.1 465.6L169.5 465.6L169.5 472.1L165.1 472.1Z" fill="#0d0d10"/>
<path d="M197.5 465.6L201.9 465.6L201.9 472.1L197.5 472.1Z" fill="#0d0d10"/>
<path d="M229.9 465.6L234.3 465.6L234.3 472.1L229.9 472.1Z" fill="#0d0d10"/>
<path d="M262.3 465.6L266.6 465.6L266.6 472.1L262.3 472.1Z" fill="#0d0d10"/>
<path d="M143.4 446.2L149.8 446.2L149.8 449.8L143.4 449.8Z" fill="#0d0d10"/>
<path d="M281.6 446L288.1 446L288.1 450L281.6 450Z" fill="#0d0d10"/>
<path d="M290 446.6L292.9 446.6L292.9 449.4L290 449.4Z" fill="#0d0d10"/>
<path d="M281.2 440.8L309.3 440.8L312.9 444.4L312.9 460.6L294.9 460.6L293.1 454.7L285 454.7L281.2 452Z" fill="#b8d294" stroke="#f4eff5" stroke-width="0.4" stroke-linejoin="round"/>
<path d="M294.9 460.6L312.9 460.6L312.9 476.3L292.2 476.3Z" fill="#bde0ea" stroke="#f4eff5" stroke-width="0.4" stroke-linejoin="round"/>
<path d="M292.2 477.2L312.9 477.2L312.9 493L292.2 493ZM292.2 493L312.9 493L312.9 508.7L292.2 508.7Z" fill="#cbbde0" stroke="#f4eff5" stroke-width="0.4" stroke-linejoin="round"/>
<path d="M292.2 509.2L312 509.2L320.1 515L320.1 524L292.2 524Z" fill="#b8d294" stroke="#f4eff5" stroke-width="0.4" stroke-linejoin="round"/>
<path d="M316.5 516.8L327.5 516.8L327.5 524L316.5 524Z" fill="#f4b488" stroke="#f4eff5" stroke-width="0.4" stroke-linejoin="round"/>
<path d="M284.6 445.9L289 445.9L289 450.2L284.6 450.2Z" fill="#0d0d10"/>
<path d="M290.4 446.6L293.3 446.6L293.3 449.5L290.4 449.5Z" fill="#0d0d10"/>
<path d="M325.5 477.2L384.9 477.2L384.9 492.5L325.5 492.5Z" fill="#fdfcfb" stroke="#e2dcdc" stroke-width="0.3"/>
<path d="M325.5 448.4L332.2 443L342.6 443L342.6 461L325.5 461Z" fill="#bde0ea" stroke="#f4eff5" stroke-width="0.4" stroke-linejoin="round"/>
<path d="M342.6 443L359.2 443L359.2 477.2L342.6 477.2ZM359.2 443L379.5 443L384 447.5L384 461L359.2 461ZM359.2 461L384 461L384 477.2L359.2 477.2Z" fill="#b8d294" stroke="#f4eff5" stroke-width="0.4" stroke-linejoin="round"/>
<path d="M325.5 461L342.6 461L342.6 477.2L325.5 477.2ZM325.5 486.2L339 486.2L342.6 492.5L342.6 510.5L336.3 510.5L325.5 502.4ZM342.6 492.5L358.8 492.5L358.8 510.5L342.6 510.5ZM358.8 492.5L374.1 492.5L374.1 510.5L358.8 510.5Z" fill="#cbbde0" stroke="#f4eff5" stroke-width="0.4" stroke-linejoin="round"/>
<path d="M374.1 488L384.9 488L384.9 504.2L380.4 510.5L374.1 510.5Z" fill="#bde0ea" stroke="#f4eff5" stroke-width="0.4" stroke-linejoin="round"/>
<path d="M350.7 479L369.6 479" fill="none" stroke="#d2cdcf" stroke-width="0.25"/>
<path d="M350.7 480.8L369.6 480.8" fill="none" stroke="#d2cdcf" stroke-width="0.25"/>
<path d="M350.7 482.6L369.6 482.6" fill="none" stroke="#d2cdcf" stroke-width="0.25"/>
<path d="M350.7 484.4L369.6 484.4" fill="none" stroke="#d2cdcf" stroke-width="0.25"/>
<path d="M350.7 486.2L369.6 486.2" fill="none" stroke="#d2cdcf" stroke-width="0.25"/>
<path d="M350.7 488L369.6 488" fill="none" stroke="#d2cdcf" stroke-width="0.25"/>
<path d="M350.7 489.8L369.6 489.8" fill="none" stroke="#d2cdcf" stroke-width="0.25"/>
<path d="M350.7 479L369.6 479L369.6 490.7L350.7 490.7Z" fill="none" stroke="#bdb8ba" stroke-width="0.3"/>
<path d="M407.4 461.9L439.8 461.9L439.8 465.5L466.8 465.5L466.8 492.5L422.7 492.5L422.7 480.8L407.4 480.8Z" fill="#fdfcfb" stroke="#e2dcdc" stroke-width="0.3"/>
<path d="M396.6 452L403.8 444.8L407.4 444.8L407.4 461.9L403.8 465.5L396.6 465.5Z" fill="#bde0ea" stroke="#f4eff5" stroke-width="0.4" stroke-linejoin="round"/>
<path d="M407.4 443.9L423.6 443.9L423.6 461.9L407.4 461.9ZM423.6 443.9L439.4 443.9L439.4 461.9L423.6 461.9ZM439.4 442.1L449.7 440.3L450.6 465.5L439.4 465.5Z" fill="#cbbde0" stroke="#f4eff5" stroke-width="0.4" stroke-linejoin="round"/>
<path d="M396.6 478.1L407.4 478.1L407.4 493.4L396.6 493.4Z" fill="#bde0ea" stroke="#f4eff5" stroke-width="0.4" stroke-linejoin="round"/>
<path d="M407.4 480.8L422.7 480.8L422.7 510.5L407.4 510.5Z" fill="#b8d294" stroke="#f4eff5" stroke-width="0.4" stroke-linejoin="round"/>
<path d="M396.6 493.4L407.4 493.4L407.4 509.6L401.1 509.6L396.6 504.2Z" fill="#bde0ea" stroke="#f4eff5" stroke-width="0.4" stroke-linejoin="round"/>
<path d="M422.7 493.4L439.8 493.4L439.8 510.5L422.7 510.5Z" fill="#cbbde0" stroke="#f4eff5" stroke-width="0.4" stroke-linejoin="round"/>
<path d="M439.8 492.5L456.9 492.5L456.9 498.8L447 508.7L439.8 509.6Z" fill="#bde0ea" stroke="#f4eff5" stroke-width="0.4" stroke-linejoin="round"/>
<path d="M413.7 467.3L432.6 467.3" fill="none" stroke="#d2cdcf" stroke-width="0.25"/>
<path d="M413.7 468.9L432.6 468.9" fill="none" stroke="#d2cdcf" stroke-width="0.25"/>
<path d="M413.7 470.5L432.6 470.5" fill="none" stroke="#d2cdcf" stroke-width="0.25"/>
<path d="M413.7 472.2L432.6 472.2" fill="none" stroke="#d2cdcf" stroke-width="0.25"/>
<path d="M413.7 473.8L432.6 473.8" fill="none" stroke="#d2cdcf" stroke-width="0.25"/>
<path d="M413.7 475.4L432.6 475.4" fill="none" stroke="#d2cdcf" stroke-width="0.25"/>
<path d="M413.7 466.8L432.6 466.8L432.6 476.3L413.7 476.3Z" fill="none" stroke="#bdb8ba" stroke-width="0.3"/>
<path d="M310.2 525.4L351.6 525.4L351.6 523.6L409.2 523.6L409.2 525.1L447 525.1" fill="none" stroke="#b5afb2" stroke-width="0.35"/>
<path d="M310.2 527.2L447 527.2" fill="none" stroke="#cfcacc" stroke-width="0.3" stroke-dasharray="0.6 2"/>
<path d="M484.1 436.9L507.3 429.3L512.4 431.8L514 446.1L484.1 446.1Z" fill="#cbbde0" stroke="#f4eff5" stroke-width="0.4" stroke-linejoin="round"/>
<path d="M484.1 446.6L514 446.6L514 462.1L484.1 462.1ZM484.1 462.6L514 462.6L514 478.1L484.1 478.1ZM484.1 478.6L514.9 478.6L514.9 492.4L506.5 499.1L484.1 491.6Z" fill="#b8d294" stroke="#f4eff5" stroke-width="0.4" stroke-linejoin="round"/>
<path d="M484.1 492.1L506.5 499.5L493.9 512.6L472.8 504.2ZM472.8 504.2L493.9 512.6L484.1 522.7L472.8 522.7L472.8 514.3L466.9 511.3Z" fill="#cbbde0" stroke="#f4eff5" stroke-width="0.4" stroke-linejoin="round"/>
<path d="M452.6 516L465.2 510.9L472.8 514.3L472.8 522.7L452.6 522.7Z" fill="#bde0ea" stroke="#f4eff5" stroke-width="0.4" stroke-linejoin="round"/>
<path d="M465.2 479.8L472.3 479.8L472.3 491.6L465.2 491.6Z" fill="#f4b488" stroke="#f4eff5" stroke-width="0.4" stroke-linejoin="round"/>
<path d="M458.5 440.2L471.3 440.2L471.3 449.5L458.5 449.5Z" fill="#bde0ea" stroke="#f4eff5" stroke-width="0.4" stroke-linejoin="round"/>
<path d="M514.9 446.1L554.4 446.1" fill="none" stroke="#a9a3a6" stroke-width="0.35"/>
<path d="M174.4 268.5L212.3 268.5L212.3 274.4L219.8 274.4L219.8 284.3L254.4 284.3L251.5 297.7L243.9 306.6L240.6 325.4L192.6 325.4L192.6 284.3L172.4 284.3Z" fill="#fdfcfb" stroke="#e6e0e0" stroke-width="0.3"/>
<path d="M193.2 284.9L213.9 284.9L213.9 321.5L193.2 321.5Z" fill="none" stroke="#bdb8ba" stroke-width="0.3"/>
<path d="M197.1 287.9L210 287.9" fill="none" stroke="#d2cdcf" stroke-width="0.25"/>
<path d="M197.1 290.6L210 290.6" fill="none" stroke="#d2cdcf" stroke-width="0.25"/>
<path d="M197.1 293.4L210 293.4" fill="none" stroke="#d2cdcf" stroke-width="0.25"/>
<path d="M197.1 296.2L210 296.2" fill="none" stroke="#d2cdcf" stroke-width="0.25"/>
<path d="M197.1 298.9L210 298.9" fill="none" stroke="#d2cdcf" stroke-width="0.25"/>
<path d="M197.1 301.7L210 301.7" fill="none" stroke="#d2cdcf" stroke-width="0.25"/>
<path d="M197.1 304.5L210 304.5" fill="none" stroke="#d2cdcf" stroke-width="0.25"/>
<path d="M197.1 307.2L210 307.2" fill="none" stroke="#d2cdcf" stroke-width="0.25"/>
<path d="M197.1 310L210 310" fill="none" stroke="#d2cdcf" stroke-width="0.25"/>
<path d="M197.1 312.8L210 312.8" fill="none" stroke="#d2cdcf" stroke-width="0.25"/>
<path d="M197.1 315.5L210 315.5" fill="none" stroke="#d2cdcf" stroke-width="0.25"/>
<path d="M197.1 318.3L210 318.3" fill="none" stroke="#d2cdcf" stroke-width="0.25"/>
<path d="M197.1 321.1L210 321.1" fill="none" stroke="#d2cdcf" stroke-width="0.25"/>
<path d="M197.1 286.9L197.1 320.5" fill="none" stroke="#c6c1c3" stroke-width="0.3"/>
<path d="M203.6 286.9L203.6 320.5" fill="none" stroke="#c6c1c3" stroke-width="0.3"/>
<path d="M210 286.9L210 320.5" fill="none" stroke="#c6c1c3" stroke-width="0.3"/>
<path d="M215.9 285.9L227.7 285.9L227.7 294.8L215.9 294.8Z" fill="none" stroke="#d2cdcf" stroke-width="0.3"/>
<path d="M229.7 285.9L241.6 285.9L241.6 294.8L229.7 294.8Z" fill="none" stroke="#d2cdcf" stroke-width="0.3"/>
<path d="M215.9 306.6L227.7 306.6L227.7 315.5L215.9 315.5Z" fill="none" stroke="#d2cdcf" stroke-width="0.3"/>
<path d="M229.7 306.6L240.6 306.6L240.6 315.5L229.7 315.5Z" fill="none" stroke="#d2cdcf" stroke-width="0.3"/>
<path d="M175.4 269.7L211.9 269.7L211.9 274L175.4 274Z" fill="none" stroke="#d2cdcf" stroke-width="0.3"/>
<path d="M129.3 283.9L129.3 237.5L136.9 228.2L167.5 214.4L195.5 205.9L224.8 214.2L231.7 217.1" fill="none" stroke="#b9b3b6" stroke-width="0.35"/>
<path d="M130.1 282.9L130.1 238.1" fill="none" stroke="#6f6a6d" stroke-width="0.8" stroke-dasharray="0.5 2.2"/>
<path d="M132.9 232.5L167.5 216.3" fill="none" stroke="#6f6a6d" stroke-width="0.7" stroke-dasharray="0.5 2.2"/>
<path d="M263.3 233.5L271.2 237.5L270.2 240.4" fill="none" stroke="#cfc9cc" stroke-width="0.3"/>
<path d="M285 252.3L294.9 262.2L292 267.1" fill="none" stroke="#cfc9cc" stroke-width="0.3"/>
<path d="M327.5 379.5L336.2 374.5L348.8 374L395 399.5L395 409.5L391.2 428.2L335 428.2L331.2 422L327.5 392Z" fill="#fdfbf8" stroke="#6f6a6d" stroke-width="0.4"/>
<path d="M348.8 374L345 392L336.2 409.5L335 415" fill="none" stroke="#6f6a6d" stroke-width="0.35"/>
<path d="M335 415L392.5 415L392.5 428.2L335 428.2Z" fill="#f4f3f3" stroke="#8b878b" stroke-width="0.35"/>
<path d="M335 419.5L392.5 419.5" fill="none" stroke="#8b878b" stroke-width="0.3"/>
<path d="M335 421.5L392.5 421.5" fill="none" stroke="#8b878b" stroke-width="0.3"/>
<path d="M335 426L392.5 426" fill="none" stroke="#8b878b" stroke-width="0.3"/>
<path d="M338 416L338 419" fill="none" stroke="#b5b1b5" stroke-width="0.25"/>
<path d="M338 422.2L338 425.5" fill="none" stroke="#b5b1b5" stroke-width="0.25"/>
<path d="M340.2 416L340.2 419" fill="none" stroke="#b5b1b5" stroke-width="0.25"/>
<path d="M340.2 422.2L340.2 425.5" fill="none" stroke="#b5b1b5" stroke-width="0.25"/>
<path d="M342.5 416L342.5 419" fill="none" stroke="#b5b1b5" stroke-width="0.25"/>
<path d="M342.5 422.2L342.5 425.5" fill="none" stroke="#b5b1b5" stroke-width="0.25"/>
<path d="M344.8 416L344.8 419" fill="none" stroke="#b5b1b5" stroke-width="0.25"/>
<path d="M344.8 422.2L344.8 425.5" fill="none" stroke="#b5b1b5" stroke-width="0.25"/>
<path d="M347 416L347 419" fill="none" stroke="#b5b1b5" stroke-width="0.25"/>
<path d="M347 422.2L347 425.5" fill="none" stroke="#b5b1b5" stroke-width="0.25"/>
<path d="M349.2 416L349.2 419" fill="none" stroke="#b5b1b5" stroke-width="0.25"/>
<path d="M349.2 422.2L349.2 425.5" fill="none" stroke="#b5b1b5" stroke-width="0.25"/>
<path d="M351.5 416L351.5 419" fill="none" stroke="#b5b1b5" stroke-width="0.25"/>
<path d="M351.5 422.2L351.5 425.5" fill="none" stroke="#b5b1b5" stroke-width="0.25"/>
<path d="M353.8 416L353.8 419" fill="none" stroke="#b5b1b5" stroke-width="0.25"/>
<path d="M353.8 422.2L353.8 425.5" fill="none" stroke="#b5b1b5" stroke-width="0.25"/>
<path d="M356 416L356 419" fill="none" stroke="#b5b1b5" stroke-width="0.25"/>
<path d="M356 422.2L356 425.5" fill="none" stroke="#b5b1b5" stroke-width="0.25"/>
<path d="M358.2 416L358.2 419" fill="none" stroke="#b5b1b5" stroke-width="0.25"/>
<path d="M358.2 422.2L358.2 425.5" fill="none" stroke="#b5b1b5" stroke-width="0.25"/>
<path d="M360.5 416L360.5 419" fill="none" stroke="#b5b1b5" stroke-width="0.25"/>
<path d="M360.5 422.2L360.5 425.5" fill="none" stroke="#b5b1b5" stroke-width="0.25"/>
<path d="M362.8 416L362.8 419" fill="none" stroke="#b5b1b5" stroke-width="0.25"/>
<path d="M362.8 422.2L362.8 425.5" fill="none" stroke="#b5b1b5" stroke-width="0.25"/>
<path d="M365 416L365 419" fill="none" stroke="#b5b1b5" stroke-width="0.25"/>
<path d="M365 422.2L365 425.5" fill="none" stroke="#b5b1b5" stroke-width="0.25"/>
<path d="M367.2 416L367.2 419" fill="none" stroke="#b5b1b5" stroke-width="0.25"/>
<path d="M367.2 422.2L367.2 425.5" fill="none" stroke="#b5b1b5" stroke-width="0.25"/>
<path d="M369.5 416L369.5 419" fill="none" stroke="#b5b1b5" stroke-width="0.25"/>
<path d="M369.5 422.2L369.5 425.5" fill="none" stroke="#b5b1b5" stroke-width="0.25"/>
<path d="M371.8 416L371.8 419" fill="none" stroke="#b5b1b5" stroke-width="0.25"/>
<path d="M371.8 422.2L371.8 425.5" fill="none" stroke="#b5b1b5" stroke-width="0.25"/>
<path d="M374 416L374 419" fill="none" stroke="#b5b1b5" stroke-width="0.25"/>
<path d="M374 422.2L374 425.5" fill="none" stroke="#b5b1b5" stroke-width="0.25"/>
<path d="M376.2 416L376.2 419" fill="none" stroke="#b5b1b5" stroke-width="0.25"/>
<path d="M376.2 422.2L376.2 425.5" fill="none" stroke="#b5b1b5" stroke-width="0.25"/>
<path d="M378.5 416L378.5 419" fill="none" stroke="#b5b1b5" stroke-width="0.25"/>
<path d="M378.5 422.2L378.5 425.5" fill="none" stroke="#b5b1b5" stroke-width="0.25"/>
<path d="M380.8 416L380.8 419" fill="none" stroke="#b5b1b5" stroke-width="0.25"/>
<path d="M380.8 422.2L380.8 425.5" fill="none" stroke="#b5b1b5" stroke-width="0.25"/>
<path d="M383 416L383 419" fill="none" stroke="#b5b1b5" stroke-width="0.25"/>
<path d="M383 422.2L383 425.5" fill="none" stroke="#b5b1b5" stroke-width="0.25"/>
<path d="M385.2 416L385.2 419" fill="none" stroke="#b5b1b5" stroke-width="0.25"/>
<path d="M385.2 422.2L385.2 425.5" fill="none" stroke="#b5b1b5" stroke-width="0.25"/>
<path d="M387.5 416L387.5 419" fill="none" stroke="#b5b1b5" stroke-width="0.25"/>
<path d="M387.5 422.2L387.5 425.5" fill="none" stroke="#b5b1b5" stroke-width="0.25"/>
<path d="M389.8 416L389.8 419" fill="none" stroke="#b5b1b5" stroke-width="0.25"/>
<path d="M389.8 422.2L389.8 425.5" fill="none" stroke="#b5b1b5" stroke-width="0.25"/>
<path d="M392 416L392 419" fill="none" stroke="#b5b1b5" stroke-width="0.25"/>
<path d="M392 422.2L392 425.5" fill="none" stroke="#b5b1b5" stroke-width="0.25"/>
<path d="M411.2 407L433.8 420.8L433.8 424.5L430 428.2L411.2 428.2Z" fill="#fdfbf8" stroke="#6f6a6d" stroke-width="0.4"/>
<path d="M455.6 345.3L461.2 340.5L474.1 346.1L470.9 359L455.6 351.7ZM474.1 346.1L488.6 355.8L480.6 369.5L470.9 359Z" fill="#bde0ea" stroke="#f4eff5" stroke-width="0.4" stroke-linejoin="round"/>
<path d="M453.2 354.2L470.9 359.8L479.7 369.5L478.9 376.7L469.3 384L462 397.7L451.6 410.6L446.7 407.3L434.6 400.9L436.2 391.2Z" fill="#fdfcfb" stroke="#e6e0e0" stroke-width="0.3"/>
<path d="M455.6 357.4L470.9 364.6L467.7 371.9L452.4 364.6Z" fill="none" stroke="#c6c1c3" stroke-width="0.3"/>
<path d="M447.5 373.5L453.2 376.7L442.7 393.6L437.1 390.4Z" fill="none" stroke="#c6c1c3" stroke-width="0.3"/>
<path d="M449.1 376.7L441.1 390.4" fill="none" stroke="#d2cdcf" stroke-width="0.3"/>
<path d="M432.7 395.6L439.3 392.9L442 399.5L435.4 402.2Z" fill="#f4b488" stroke="#f4eff5" stroke-width="0.4" stroke-linejoin="round"/>
<path d="M560.3 222.7L576.7 219.2L585.6 219.2L585.6 275.5L567.8 275.5L567.8 282.8L556.6 282.8L556.6 253L560.3 248.1Z" fill="#fdfcfb" stroke="#e6e0e0" stroke-width="0.3"/>
<path d="M566.7 224.8L579.9 224.8L579.9 247.3L566.7 247.3Z" fill="none" stroke="#bdb8ba" stroke-width="0.3"/>
<path d="M566.7 226.9L579.9 226.9" fill="none" stroke="#d2cdcf" stroke-width="0.25"/>
<path d="M566.7 229L579.9 229" fill="none" stroke="#d2cdcf" stroke-width="0.25"/>
<path d="M566.7 231.1L579.9 231.1" fill="none" stroke="#d2cdcf" stroke-width="0.25"/>
<path d="M566.7 233.2L579.9 233.2" fill="none" stroke="#d2cdcf" stroke-width="0.25"/>
<path d="M566.7 235.3L579.9 235.3" fill="none" stroke="#d2cdcf" stroke-width="0.25"/>
<path d="M566.7 237.4L579.9 237.4" fill="none" stroke="#d2cdcf" stroke-width="0.25"/>
<path d="M566.7 239.4L579.9 239.4" fill="none" stroke="#d2cdcf" stroke-width="0.25"/>
<path d="M566.7 241.5L579.9 241.5" fill="none" stroke="#d2cdcf" stroke-width="0.25"/>
<path d="M566.7 243.6L579.9 243.6" fill="none" stroke="#d2cdcf" stroke-width="0.25"/>
<path d="M566.7 245.7L579.9 245.7" fill="none" stroke="#d2cdcf" stroke-width="0.25"/>
<path d="M573.2 224.8L573.2 247.3" fill="none" stroke="#c6c1c3" stroke-width="0.3"/>
<path d="M577 255.9L577 259.1" fill="none" stroke="#8c878a" stroke-width="0.4"/>
<path d="M578.3 255.9L578.3 259.1" fill="none" stroke="#8c878a" stroke-width="0.4"/>
<path d="M579.6 255.9L579.6 259.1" fill="none" stroke="#8c878a" stroke-width="0.4"/>
<path d="M580.9 255.9L580.9 259.1" fill="none" stroke="#8c878a" stroke-width="0.4"/>
<path d="M582.2 255.9L582.2 259.1" fill="none" stroke="#8c878a" stroke-width="0.4"/>
<path d="M583.5 255.9L583.5 259.1" fill="none" stroke="#8c878a" stroke-width="0.4"/>
<path d="M584.8 255.9L584.8 259.1" fill="none" stroke="#8c878a" stroke-width="0.4"/>
<path d="M568.3 270.4L568.3 273.6" fill="none" stroke="#8c878a" stroke-width="0.4"/>
<path d="M569.6 270.4L569.6 273.6" fill="none" stroke="#8c878a" stroke-width="0.4"/>
<path d="M570.9 270.4L570.9 273.6" fill="none" stroke="#8c878a" stroke-width="0.4"/>
<path d="M572.2 270.4L572.2 273.6" fill="none" stroke="#8c878a" stroke-width="0.4"/>
<path d="M573.5 270.4L573.5 273.6" fill="none" stroke="#8c878a" stroke-width="0.4"/>
<path d="M574.8 270.4L574.8 273.6" fill="none" stroke="#8c878a" stroke-width="0.4"/>
<path d="M576.1 270.4L576.1 273.6" fill="none" stroke="#8c878a" stroke-width="0.4"/>
<path d="M577.3 270.4L577.3 273.6" fill="none" stroke="#8c878a" stroke-width="0.4"/>
<path d="M578.6 270.4L578.6 273.6" fill="none" stroke="#8c878a" stroke-width="0.4"/>
<path d="M579.9 270.4L579.9 273.6" fill="none" stroke="#8c878a" stroke-width="0.4"/>
<path d="M581.2 270.4L581.2 273.6" fill="none" stroke="#8c878a" stroke-width="0.4"/>
<path d="M582.5 270.4L582.5 273.6" fill="none" stroke="#8c878a" stroke-width="0.4"/>
<path d="M583.8 270.4L583.8 273.6" fill="none" stroke="#8c878a" stroke-width="0.4"/>
<path d="M567.8 259.4L584.8 259.4L584.8 269.1L567.8 269.1Z" fill="none" stroke="#d2cdcf" stroke-width="0.3"/>
<path d="M562.2 233.6L562.2 243.3" fill="none" stroke="#c6c1c3" stroke-width="0.3"/>
<path d="M242.8 307.1L250.1 307.1L248.4 324.7L234 324.7L235.5 317.8L242.1 317.3ZM229.3 325.4L235.8 325.4L235.8 335.9L229.3 335.9Z" fill="#bde0ea" stroke="#f4eff5" stroke-width="0.4" stroke-linejoin="round"/>
<path d="M229.6 326.7L233.4 326.7L233.4 334.3L229.6 334.3Z" fill="#0d0d10"/>
<g font-size="3.15" fill="#1d2746" text-anchor="middle" opacity="0.95"><text x="149.8" y="240.3">C4-001</text><text x="149.8" y="243.7">116.87m²</text><text x="170.0" y="227.8">C4-002</text><text x="170.0" y="231.2">43.87m²</text><text x="187.0" y="223.3">C4-003</text><text x="187.0" y="226.7">73.37m²</text><text x="203.3" y="223.3">C4-004</text><text x="203.3" y="226.7">62.38m²</text><text x="219.9" y="226.3">C4-005</text><text x="219.9" y="229.7">51.18m²</text><text x="236.4" y="229.1">C4-006</text><text x="236.4" y="232.5">27.95m²</text><text x="253.6" y="235.2">C4-007</text><text x="253.6" y="238.6">22.1m²</text><text x="272.7" y="248.7">C4-008</text><text x="272.7" y="252.1">50.64m²</text><text x="147.5" y="260.3">C4-009</text><text x="147.5" y="263.7">61.71m²</text><text x="146.8" y="276.0">C4-010</text><text x="146.8" y="279.4">69.24m²</text><text x="147.5" y="291.4">C4-011</text><text x="147.5" y="294.8">42.33m²</text><text x="146.5" y="304.8">C4-012</text><text x="146.5" y="308.2">42.72m²</text><text x="145.6" y="317.1">C4-013</text><text x="145.6" y="320.5">29.07m²</text><text x="185.2" y="258.4">C4-014</text><text x="185.2" y="261.8">56.71m²</text><text x="203.9" y="258.3">C4-015</text><text x="203.9" y="261.7">43.35m²</text><text x="220.5" y="261.2">C4-016</text><text x="220.5" y="264.6">65.24m²</text><text x="235.9" y="261.7">C4-017</text><text x="235.9" y="265.1">52.92m²</text><text x="249.5" y="266.5">C4-018</text><text x="249.5" y="269.9">39.01m²</text><text x="237.5" y="279.6">C4-019</text><text x="237.5" y="283.0">51.96m²</text><text x="182.0" y="291.0">C4-020</text><text x="182.0" y="294.4">48.54m²</text><text x="182.8" y="304.1">C4-021</text><text x="182.8" y="307.5">39.55m²</text><text x="185.5" y="316.8">C4-022</text><text x="185.5" y="320.2">21.89m²</text><text x="144.4" y="327.8">C4-023</text><text x="144.4" y="331.2">37.31m²</text><text x="144.1" y="337.0">C4-024</text><text x="144.1" y="340.4">26.5m²</text><text x="143.6" y="346.4">C4-025</text><text x="143.6" y="349.8">23.74m²</text><text x="144.3" y="357.4">C4-026</text><text x="144.3" y="360.8">23.24m²</text><text x="146.2" y="373.3">C4-027</text><text x="146.2" y="376.7">66.86m²</text><text x="150.7" y="391.4">C4-028</text><text x="150.7" y="394.8">36.51m²</text><text x="150.7" y="406.4">C4-029</text><text x="150.7" y="409.8">24.43m²</text><text x="150.7" y="423.0">C4-030</text><text x="150.7" y="426.4">52.05m²</text><text x="150.7" y="439.9">C4-031</text><text x="150.7" y="443.3">33.14m²</text><text x="177.7" y="358.0">C4-032</text><text x="177.7" y="361.4">28.08m²</text><text x="176.9" y="391.2">C4-033</text><text x="176.9" y="394.6">31.41m²</text><text x="176.8" y="406.4">C4-034</text><text x="176.8" y="409.8">22.19m²</text><text x="188.8" y="425.1">C4-035</text><text x="188.8" y="428.5">82.13m²</text><text x="177.9" y="440.1">C4-036</text><text x="177.9" y="443.5">24.91m²</text><text x="192.2" y="440.3">C4-037</text><text x="192.2" y="443.7">33.93m²</text><text x="208.0" y="440.3">C4-038</text><text x="208.0" y="443.7">29.12m²</text><text x="225.3" y="440.8">C4-039</text><text x="225.3" y="444.2">46.97m²</text><text x="241.9" y="352.7">C4-040</text><text x="241.9" y="356.1">15.03m²</text><text x="180.9" y="375.4">C4-041</text><text x="180.9" y="378.8">49.61m²</text><text x="269.1" y="356.8">C4-042</text><text x="269.1" y="360.2">46.7m²</text><text x="296.4" y="357.5">C4-043</text><text x="296.4" y="360.9">96.09m²</text><text x="300.1" y="374.8">C4-044</text><text x="300.1" y="378.2">74.28m²</text><text x="300.0" y="390.9">C4-045</text><text x="300.0" y="394.3">65.64m²</text><text x="296.9" y="407.0">C4-046</text><text x="296.9" y="410.4">71.91m²</text><text x="296.9" y="421.0">C4-047</text><text x="296.9" y="424.4">70.98m²</text><text x="271.3" y="425.7">C4-048</text><text x="271.3" y="429.1">57.63m²</text><text x="254.2" y="430.3">C4-049</text><text x="254.2" y="433.7">94.86m²</text><text x="190.7" y="330.1">C4-050</text><text x="190.7" y="333.5">26.47m²</text><text x="221.8" y="329.0">C4-051</text><text x="221.8" y="332.4">39.62m²</text><text x="241.6" y="330.1">C4-052</text><text x="241.6" y="333.5">23.24m²</text><text x="277.8" y="279.4">C4-053</text><text x="277.8" y="282.8">28.94m²</text><text x="293.2" y="277.2">C4-054</text><text x="293.2" y="280.6">35.39m²</text><text x="275.2" y="290.9">C4-055</text><text x="275.2" y="294.3">23.89m²</text><text x="295.8" y="291.0">C4-056</text><text x="295.8" y="294.4">30.29m²</text><text x="275.0" y="303.8">C4-057</text><text x="275.0" y="307.2">41.74m²</text><text x="299.2" y="303.9">C4-058</text><text x="299.2" y="307.3">53.7m²</text><text x="267.4" y="323.5">C4-059</text><text x="267.4" y="326.9">55.53m²</text><text x="281.6" y="323.2">C4-060</text><text x="281.6" y="326.6">51.89m²</text><text x="295.2" y="323.2">C4-061</text><text x="295.2" y="326.6">57.63m²</text><text x="307.2" y="321.6">C4-062</text><text x="307.2" y="325.0">26.96m²</text><text x="347.9" y="288.0">B4-001</text><text x="347.9" y="291.4">34.21m²</text><text x="364.2" y="295.3">B4-002</text><text x="364.2" y="298.7">52.29m²</text><text x="343.9" y="298.3">B4-003</text><text x="343.9" y="301.7">32.02m²</text><text x="348.4" y="310.1">B4-004</text><text x="348.4" y="313.5">69.67m²</text><text x="345.9" y="326.1">B4-005</text><text x="345.9" y="329.5">56.96m²</text><text x="341.7" y="340.3">B4-006</text><text x="341.7" y="343.7">38.95m²</text><text x="355.6" y="348.3">B4-007</text><text x="355.6" y="351.7">50.01m²</text><text x="371.5" y="359.2">B4-008</text><text x="371.5" y="362.6">53.62m²</text><text x="389.8" y="311.0">B4-009</text><text x="389.8" y="314.4">62.15m²</text><text x="405.5" y="320.4">B4-010</text><text x="405.5" y="323.8">54.33m²</text><text x="421.8" y="362.2">B4-011</text><text x="421.8" y="365.6">132.71m²</text><text x="416.0" y="333.9">B4-012</text><text x="416.0" y="337.3">99.87m²</text><text x="464.6" y="349.2">B4-013</text><text x="464.6" y="352.6">36.62m²</text><text x="479.5" y="356.2">B4-014</text><text x="479.5" y="359.6">26.41m²</text><text x="494.8" y="369.8">B4-015</text><text x="494.8" y="373.2">88.33m²</text><text x="502.8" y="387.7">B4-016</text><text x="502.8" y="391.1">73.7m²</text><text x="474.8" y="397.8">B4-017</text><text x="474.8" y="401.2">41.43m²</text><text x="461.6" y="407.9">B4-018</text><text x="461.6" y="411.3">49.77m²</text><text x="349.6" y="152.7">A4-001</text><text x="349.6" y="156.1">24.19m²</text><text x="368.2" y="147.6">A4-002</text><text x="368.2" y="151.0">23.22m²</text><text x="382.8" y="147.0">A4-003</text><text x="382.8" y="150.4">42.12m²</text><text x="408.4" y="144.4">A4-004</text><text x="408.4" y="147.8">35.6m²</text><text x="429.9" y="153.8">A4-005</text><text x="429.9" y="157.2">9.55m²</text><text x="449.1" y="152.8">A4-006</text><text x="449.1" y="156.2">25.7m²</text><text x="298.6" y="161.0">A4-007</text><text x="298.6" y="164.4">68.43m²</text><text x="326.4" y="160.1">A4-008</text><text x="326.4" y="163.5">77.56m²</text><text x="300.0" y="177.2">A4-009</text><text x="300.0" y="180.6">42.53m²</text><text x="322.0" y="179.9">A4-010</text><text x="322.0" y="183.3">13.39m²</text><text x="309.1" y="191.8">A4-011</text><text x="309.1" y="195.2">51.44m²</text><text x="322.6" y="192.9">A4-012</text><text x="322.6" y="196.3">37.78m²</text><text x="320.1" y="205.0">A4-013</text><text x="320.1" y="208.4">36.57m²</text><text x="352.7" y="178.1">A4-014</text><text x="352.7" y="181.5">57.42m²</text><text x="348.0" y="195.9">A4-015</text><text x="348.0" y="199.3">46.29m²</text><text x="349.0" y="217.6">A4-016</text><text x="349.0" y="221.0">68.89m²</text><text x="382.0" y="178.4">A4-017</text><text x="382.0" y="181.8">47.82m²</text><text x="398.0" y="174.3">A4-018</text><text x="398.0" y="177.7">77.8m²</text><text x="382.0" y="209.3">A4-019</text><text x="382.0" y="212.7">147.93m²</text><text x="398.5" y="209.2">A4-020</text><text x="398.5" y="212.6">83.87m²</text><text x="415.2" y="217.5">A4-021</text><text x="415.2" y="220.9">44.35m²</text><text x="468.1" y="152.4">A4-022</text><text x="468.1" y="155.8">25.41m²</text><text x="479.7" y="148.0">A4-023</text><text x="479.7" y="151.4">45.43m²</text><text x="495.0" y="148.0">A4-024</text><text x="495.0" y="151.4">30.21m²</text><text x="526.9" y="150.5">A4-025</text><text x="526.9" y="153.9">52.19m²</text><text x="546.9" y="153.5">A4-026</text><text x="546.9" y="156.9">25.99m²</text><text x="562.0" y="156.2">A4-027</text><text x="562.0" y="159.6">41.08m²</text><text x="580.6" y="171.2">A4-028</text><text x="580.6" y="174.6">28.96m²</text><text x="591.8" y="171.2">A4-029</text><text x="591.8" y="174.6">28.02m²</text><text x="615.6" y="171.2">A4-030</text><text x="615.6" y="174.6">31.76m²</text><text x="629.9" y="171.2">A4-031</text><text x="629.9" y="174.6">39.11m²</text><text x="479.3" y="180.4">A4-032</text><text x="479.3" y="183.8">94.12m²</text><text x="492.4" y="184.8">A4-033</text><text x="492.4" y="188.2">70.79m²</text><text x="505.7" y="177.9">A4-034</text><text x="505.7" y="181.3">32.73m²</text><text x="477.9" y="214.9">A4-035</text><text x="477.9" y="218.3">73.85m²</text><text x="494.0" y="215.6">A4-036</text><text x="494.0" y="219.0">62.03m²</text><text x="461.9" y="217.6">A4-037</text><text x="461.9" y="221.0">38.09m²</text><text x="525.3" y="181.7">A4-038</text><text x="525.3" y="185.1">55.82m²</text><text x="525.1" y="202.8">A4-039</text><text x="525.1" y="206.2">37.62m²</text><text x="525.2" y="221.1">A4-040</text><text x="525.2" y="224.5">36.16m²</text><text x="573.2" y="210.7">A4-041</text><text x="573.2" y="214.1">28.46m²</text><text x="558.3" y="214.8">A4-042</text><text x="558.3" y="218.2">48.58m²</text><text x="554.4" y="235.5">A4-043</text><text x="554.4" y="238.9">22.97m²</text><text x="549.3" y="248.0">A4-044</text><text x="549.3" y="251.4">33.05m²</text><text x="608.2" y="196.5">A4-045</text><text x="608.2" y="199.9">22.18m²</text><text x="620.5" y="214.5">A4-046</text><text x="620.5" y="217.9">82.28m²</text><text x="632.3" y="196.5">A4-047</text><text x="632.3" y="199.9">10.51m²</text><text x="685.9" y="176.0">A4-048</text><text x="685.9" y="179.4">84.08m²</text><text x="693.6" y="199.4">A4-049</text><text x="693.6" y="202.8">27.46m²</text><text x="690.4" y="228.5">A4-050</text><text x="690.4" y="231.9">22m²</text><text x="690.4" y="245.3">A4-051</text><text x="690.4" y="248.7">21m²</text><text x="690.4" y="262.1">A4-052</text><text x="690.4" y="265.5">23.87m²</text><text x="690.4" y="278.9">A4-053</text><text x="690.4" y="282.3">22.93m²</text><text x="690.4" y="292.7">A4-054</text><text x="690.4" y="296.1">12.36m²</text><text x="608.1" y="196.0">A4-055</text><text x="608.1" y="199.4">21.48m²</text><text x="620.5" y="214.1">A4-056</text><text x="620.5" y="217.5">97.61m²</text><text x="620.5" y="265.1">A4-057</text><text x="620.5" y="268.5">131.09m²</text><text x="632.4" y="196.1">A4-058</text><text x="632.4" y="199.5">9.78m²</text><text x="647.4" y="196.3">A4-059</text><text x="647.4" y="199.7">45.79m²</text><text x="665.2" y="211.5">A4-060</text><text x="665.2" y="214.9">67.6m²</text><text x="665.2" y="230.3">A4-061</text><text x="665.2" y="233.7">47.92m²</text><text x="665.2" y="246.3">A4-062</text><text x="665.2" y="249.7">43.33m²</text><text x="665.2" y="262.6">A4-063</text><text x="665.2" y="266.0">37.13m²</text><text x="664.6" y="279.7">A4-064</text><text x="664.6" y="283.1">59.87m²</text><text x="607.9" y="282.8">A4-065</text><text x="607.9" y="286.2">29.85m²</text><text x="634.3" y="282.8">A4-066</text><text x="634.3" y="286.2">30.19m²</text><text x="648.9" y="282.8">A4-067</text><text x="648.9" y="286.2">22.63m²</text><text x="591.8" y="283.8">A4-068</text><text x="591.8" y="287.2">9.23m²</text><text x="577.9" y="288.2">A4-069</text><text x="577.9" y="291.6">12.11m²</text><text x="576.5" y="320.4">A4-070</text><text x="576.5" y="323.8">66.03m²</text><text x="590.3" y="316.2">A4-071</text><text x="590.3" y="319.6">76.75m²</text><text x="612.6" y="313.3">A4-072</text><text x="612.6" y="316.7">24.07m²</text><text x="629.4" y="313.3">A4-073</text><text x="629.4" y="316.7">21.44m²</text><text x="645.7" y="313.3">A4-074</text><text x="645.7" y="316.7">39.07m²</text><text x="661.0" y="313.3">A4-075</text><text x="661.0" y="316.7">31.04m²</text><text x="675.8" y="323.7">A4-076</text><text x="675.8" y="327.1">43.79m²</text><text x="706.8" y="304.2">A4-077</text><text x="706.8" y="307.6">71.32m²</text><text x="709.1" y="326.0">A4-078</text><text x="709.1" y="329.4">21.51m²</text><text x="615.4" y="363.4">A4-079</text><text x="615.4" y="366.8">91.03m²</text><text x="613.7" y="377.5">A4-080</text><text x="613.7" y="380.9">59.59m²</text><text x="687.0" y="354.0">A4-081</text><text x="687.0" y="357.4">77.4m²</text><text x="689.0" y="374.3">A4-082</text><text x="689.0" y="377.7">135.11m²</text><text x="614.8" y="411.5">A4-083</text><text x="614.8" y="414.9">65.96m²</text><text x="592.0" y="414.5">A4-084</text><text x="592.0" y="417.9">27.97m²</text><text x="605.3" y="428.3">A4-085</text><text x="605.3" y="431.7">44.17m²</text><text x="607.6" y="438.9">A4-086</text><text x="607.6" y="442.3">55.67m²</text><text x="607.5" y="452.0">A4-087</text><text x="607.5" y="455.4">51.12m²</text><text x="624.8" y="445.6">A4-088</text><text x="624.8" y="449.0">75.8m²</text><text x="637.8" y="456.8">A4-089</text><text x="637.8" y="460.2">27.26m²</text><text x="651.6" y="456.8">A4-090</text><text x="651.6" y="460.2">10.68m²</text><text x="663.4" y="446.0">A4-091</text><text x="663.4" y="449.4">56.42m²</text><text x="687.9" y="408.5">A4-092</text><text x="687.9" y="411.9">59.71m²</text><text x="695.9" y="419.0">A4-093</text><text x="695.9" y="422.4">37.2m²</text><text x="678.2" y="425.5">A4-094</text><text x="678.2" y="428.9">76.32m²</text><text x="562.4" y="450.6">A4-095</text><text x="562.4" y="454.0">76.55m²</text><text x="563.0" y="470.3">A4-096</text><text x="563.0" y="473.7">137.25m²</text><text x="587.9" y="487.8">A4-097</text><text x="587.9" y="491.2">85.31m²</text><text x="608.2" y="482.1">A4-098</text><text x="608.2" y="485.5">50.84m²</text><text x="625.0" y="482.1">A4-099</text><text x="625.0" y="485.5">47.76m²</text><text x="644.2" y="482.1">A4-100</text><text x="644.2" y="485.5">61.55m²</text><text x="662.5" y="484.9">A4-101</text><text x="662.5" y="488.3">41.53m²</text><text x="680.9" y="472.8">A4-102</text><text x="680.9" y="476.2">46.31m²</text><text x="691.9" y="468.1">A4-103</text><text x="691.9" y="471.5">45.92m²</text><text x="707.8" y="455.6">A4-104</text><text x="707.8" y="459.0">74.16m²</text><text x="150.6" y="463.2">C4-063</text><text x="150.6" y="466.6">99.17m²</text><text x="279.7" y="464.2">C4-064</text><text x="279.7" y="467.6">89.5m²</text><text x="301.3" y="453.5">C4-065</text><text x="301.3" y="456.9">78.8m²</text><text x="303.2" y="468.3">C4-066</text><text x="303.2" y="471.7">39.77m²</text><text x="302.6" y="484.8">C4-067</text><text x="302.6" y="488.2">59.15m²</text><text x="302.5" y="500.5">C4-068</text><text x="302.5" y="503.9">47.93m²</text><text x="302.5" y="518.6">C4-069</text><text x="302.5" y="522.0">65.19m²</text><text x="322.0" y="520.1">C4-070</text><text x="322.0" y="523.5">10.72m²</text><text x="334.4" y="452.1">C4-071</text><text x="334.4" y="455.5">24.74m²</text><text x="350.9" y="455.8">C4-072</text><text x="350.9" y="459.2">64.88m²</text><text x="371.3" y="451.9">C4-073</text><text x="371.3" y="455.3">72.86m²</text><text x="371.6" y="468.8">C4-074</text><text x="371.6" y="472.2">78.11m²</text><text x="334.1" y="468.8">C4-075</text><text x="334.1" y="472.2">56.97m²</text><text x="334.4" y="500.2">C4-076</text><text x="334.4" y="503.6">50.11m²</text><text x="350.7" y="499.2">C4-077</text><text x="350.7" y="502.6">53.41m²</text><text x="366.4" y="499.2">C4-078</text><text x="366.4" y="502.6">56.19m²</text><text x="379.3" y="495.4">C4-079</text><text x="379.3" y="498.8">22.61m²</text><text x="399.3" y="453.6">C4-080</text><text x="399.3" y="457.0">33.55m²</text><text x="418.5" y="449.6">C4-081</text><text x="418.5" y="453.0">58.29m²</text><text x="431.5" y="449.6">C4-082</text><text x="431.5" y="453.0">55.86m²</text><text x="444.8" y="457.2">C4-083</text><text x="444.8" y="460.6">55.25m²</text><text x="402.0" y="489.5">C4-084</text><text x="402.0" y="492.9">30.08m²</text><text x="415.0" y="493.3">C4-085</text><text x="415.0" y="496.7">64.39m²</text><text x="402.3" y="500.7">C4-086</text><text x="402.3" y="504.1">35.99m²</text><text x="431.3" y="499.7">C4-087</text><text x="431.3" y="503.1">47.32m²</text><text x="445.2" y="497.4">C4-088</text><text x="445.2" y="500.8">36.22m²</text><text x="502.9" y="440.9">C4-089</text><text x="502.9" y="444.3">59.46m²</text><text x="502.0" y="454.0">C4-090</text><text x="502.0" y="457.4">68.52m²</text><text x="502.0" y="470.0">C4-091</text><text x="502.0" y="473.4">68.63m²</text><text x="503.1" y="485.9">C4-092</text><text x="503.1" y="489.3">78.99m²</text><text x="491.5" y="501.8">C4-093</text><text x="491.5" y="505.2">54.77m²</text><text x="480.6" y="516.8">C4-094</text><text x="480.6" y="520.2">44.23m²</text><text x="462.2" y="519.5">C4-095</text><text x="462.2" y="522.9">23.41m²</text><text x="470.8" y="484.4">C4-096</text><text x="470.8" y="487.8">9.81m²</text><text x="463.9" y="445.6">C4-097</text><text x="463.9" y="449.0">38.19m²</text><text x="245.1" y="319.6">C4-098</text><text x="245.1" y="323.0">36.32m²</text><text x="431.4" y="404.1">B4-019</text><text x="431.4" y="407.5">23.78m²</text><text x="397.0" y="363.0">B4-020</text><text x="397.0" y="366.4">36.7m²</text><text x="415.4" y="154.4">A4-105</text><text x="415.4" y="157.8">39.63m²</text><text x="636.1" y="174.0">A4-106</text><text x="636.1" y="177.4">33.49m²</text><text x="652.9" y="174.0">A4-107</text><text x="652.9" y="177.4">27.66m²</text><text x="547.5" y="275.7">A4-108</text><text x="547.5" y="279.1">31.42m²</text><text x="533.2" y="286.2">A4-109</text><text x="533.2" y="289.6">23.49m²</text><text x="547.0" y="294.5">A4-110</text><text x="547.0" y="297.9">21.27m²</text><text x="560.8" y="287.7">A4-111</text><text x="560.8" y="291.1">39.45m²</text><text x="711.1" y="340.5">A4-112</text><text x="711.1" y="343.9">33.34m²</text><text x="713.9" y="356.3">A4-113</text><text x="713.9" y="359.7">31.01m²</text><text x="713.9" y="372.7">A4-114</text><text x="713.9" y="376.1">38.74m²</text><text x="713.9" y="389.1">A4-115</text><text x="713.9" y="392.5">29.24m²</text><text x="713.9" y="405.4">A4-116</text><text x="713.9" y="408.8">37.56m²</text><text x="713.9" y="422.1">A4-117</text><text x="713.9" y="425.5">36.7m²</text><text x="176.8" y="468.6">C4-099</text><text x="176.8" y="472.0">25.01m²</text><text x="191.2" y="468.6">C4-100</text><text x="191.2" y="472.0">25.78m²</text><text x="208.2" y="468.6">C4-101</text><text x="208.2" y="472.0">26.57m²</text><text x="223.5" y="468.6">C4-102</text><text x="223.5" y="472.0">25.57m²</text><text x="241.5" y="468.6">C4-103</text><text x="241.5" y="472.0">32.14m²</text><text x="255.8" y="468.6">C4-104</text><text x="255.8" y="472.0">25.93m²</text></g>
<path d="M178.4 223.1h3v3h-3zM210.0 222.7h3v3h-3zM145.8 250.8h3v3h-3zM145.8 282.8h3v3h-3zM145.8 310.1h3v3h-3zM178.8 250.8h3v3h-3zM211.4 250.8h3v3h-3zM235.1 250.8h3v3h-3zM178.8 282.8h3v3h-3zM211.4 282.8h3v3h-3zM244.6 283.4h3v3h-3zM275.6 252.8h3v3h-3zM273.6 283.0h3v3h-3zM298.9 282.4h3v3h-3zM286.0 310.6h3v3h-3zM305.8 325.0h3v3h-3zM262.7 323.9h3v3h-3zM342.9 280.4h3v3h-3zM372.4 295.2h3v3h-3zM340.4 315.2h3v3h-3zM357.2 323.9h3v3h-3zM342.9 350.5h3v3h-3zM372.4 364.0h3v3h-3zM401.6 308.6h3v3h-3zM386.2 338.3h3v3h-3zM415.1 352.1h3v3h-3zM402.0 308.5h3v3h-3zM429.5 324.5h3v3h-3zM415.2 351.9h3v3h-3zM399.9 380.0h3v3h-3zM459.1 338.3h3v3h-3zM487.7 354.6h3v3h-3zM442.7 369.0h3v3h-3zM471.9 383.8h3v3h-3zM428.4 396.3h3v3h-3zM509.2 382.0h3v3h-3zM460.9 412.3h3v3h-3zM502.6 412.3h3v3h-3zM386.0 338.3h3v3h-3zM500.1 240.7h3v3h-3zM289.4 151.2h3v3h-3zM305.2 184.8h3v3h-3zM311.8 200.6h3v3h-3zM340.8 153.8h3v3h-3zM372.8 153.2h3v3h-3zM405.0 153.2h3v3h-3zM437.6 153.2h3v3h-3zM340.8 185.8h3v3h-3zM372.8 185.8h3v3h-3zM405.0 185.8h3v3h-3zM437.2 186.4h3v3h-3zM340.8 226.3h3v3h-3zM372.8 226.3h3v3h-3zM405.0 226.3h3v3h-3zM436.0 226.3h3v3h-3zM469.7 153.2h3v3h-3zM501.9 153.2h3v3h-3zM538.5 148.9h3v3h-3zM565.1 167.4h3v3h-3zM469.7 185.8h3v3h-3zM501.9 185.8h3v3h-3zM501.9 217.4h3v3h-3zM470.3 226.3h3v3h-3zM499.9 240.5h3v3h-3zM544.0 188.8h3v3h-3zM544.0 220.8h3v3h-3zM544.4 253.0h3v3h-3zM543.5 285.7h3v3h-3zM697.2 316.8h3v3h-3zM599.4 347.4h3v3h-3zM631.4 347.2h3v3h-3zM664.0 347.2h3v3h-3zM695.0 347.2h3v3h-3zM631.4 379.8h3v3h-3zM664.0 379.8h3v3h-3zM695.6 379.8h3v3h-3zM598.8 415.6h3v3h-3zM631.4 412.3h3v3h-3zM663.4 412.3h3v3h-3zM695.6 412.3h3v3h-3zM597.2 444.9h3v3h-3zM631.4 447.8h3v3h-3zM658.0 450.8h3v3h-3zM571.7 444.9h3v3h-3zM571.1 476.5h3v3h-3zM599.4 479.5h3v3h-3zM631.4 479.5h3v3h-3zM653.7 479.5h3v3h-3zM697.6 462.3h3v3h-3zM306.0 444.7h3v3h-3zM306.5 475.3h3v3h-3zM306.9 507.2h3v3h-3zM340.2 442.9h3v3h-3zM370.4 445.1h3v3h-3zM340.2 475.7h3v3h-3zM372.6 475.7h3v3h-3zM340.2 507.2h3v3h-3zM372.6 507.2h3v3h-3zM405.0 445.1h3v3h-3zM437.4 444.7h3v3h-3zM405.0 476.6h3v3h-3zM435.6 476.6h3v3h-3zM405.0 507.2h3v3h-3zM437.4 507.2h3v3h-3zM469.6 444.6h3v3h-3zM469.6 477.1h3v3h-3zM507.2 444.6h3v3h-3zM507.2 476.6h3v3h-3zM469.6 508.1h3v3h-3z" fill="#0c0c0e"/>
<circle cx="188.2" cy="253.9" r="2.25" fill="#f6e6f7" stroke="#b557bd" stroke-width="0.5"/>
<path d="M187.0 255.3Q188.1 254.3 188.2 252.3Q188.3 254.3 189.4 255.3M186.9 253.3L187.6 254.0M189.5 253.3L188.8 254.0" stroke="#b557bd" stroke-width="0.4" fill="none"/>
<circle cx="204.0" cy="253.9" r="2.25" fill="#f6e6f7" stroke="#b557bd" stroke-width="0.5"/>
<path d="M202.8 255.3Q203.9 254.3 204.0 252.3Q204.1 254.3 205.2 255.3M202.7 253.3L203.4 254.0M205.3 253.3L204.6 254.0" stroke="#b557bd" stroke-width="0.4" fill="none"/>
<circle cx="221.2" cy="254.3" r="2.25" fill="#f6e6f7" stroke="#b557bd" stroke-width="0.5"/>
<path d="M220.0 255.7Q221.1 254.7 221.2 252.7Q221.3 254.7 222.4 255.7M219.9 253.7L220.6 254.4M222.5 253.7L221.8 254.4" stroke="#b557bd" stroke-width="0.4" fill="none"/>
<circle cx="241.2" cy="254.3" r="2.25" fill="#f6e6f7" stroke="#b557bd" stroke-width="0.5"/>
<path d="M240.0 255.7Q241.1 254.7 241.2 252.7Q241.3 254.7 242.4 255.7M239.9 253.7L240.6 254.4M242.5 253.7L241.8 254.4" stroke="#b557bd" stroke-width="0.4" fill="none"/>
<circle cx="249.1" cy="260.2" r="2.25" fill="#f6e6f7" stroke="#b557bd" stroke-width="0.5"/>
<path d="M247.9 261.6Q249.0 260.6 249.1 258.6Q249.2 260.6 250.3 261.6M247.8 259.6L248.5 260.3M250.4 259.6L249.7 260.3" stroke="#b557bd" stroke-width="0.4" fill="none"/>
<circle cx="248.5" cy="279.6" r="2.25" fill="#f6e6f7" stroke="#b557bd" stroke-width="0.5"/>
<path d="M247.3 281.0Q248.4 280.0 248.5 278.0Q248.6 280.0 249.7 281.0M247.2 279.0L247.9 279.7M249.8 279.0L249.1 279.7" stroke="#b557bd" stroke-width="0.4" fill="none"/>
<circle cx="351.2" cy="281.5" r="2.25" fill="#f6e6f7" stroke="#b557bd" stroke-width="0.5"/>
<path d="M350.0 282.9Q351.1 281.9 351.2 279.9Q351.3 281.9 352.4 282.9M349.9 280.9L350.6 281.6M352.5 280.9L351.8 281.6" stroke="#b557bd" stroke-width="0.4" fill="none"/>
<circle cx="362.2" cy="287.4" r="2.25" fill="#f6e6f7" stroke="#b557bd" stroke-width="0.5"/>
<path d="M361.0 288.8Q362.1 287.8 362.2 285.8Q362.3 287.8 363.4 288.8M360.9 286.8L361.6 287.5M363.5 286.8L362.8 287.5" stroke="#b557bd" stroke-width="0.4" fill="none"/>
<circle cx="385.9" cy="301.3" r="2.25" fill="#f6e6f7" stroke="#b557bd" stroke-width="0.5"/>
<path d="M384.7 302.7Q385.8 301.7 385.9 299.7Q386.0 301.7 387.1 302.7M384.6 300.7L385.3 301.4M387.2 300.7L386.5 301.4" stroke="#b557bd" stroke-width="0.4" fill="none"/>
<circle cx="407.5" cy="312.1" r="2.25" fill="#f6e6f7" stroke="#b557bd" stroke-width="0.5"/>
<path d="M406.3 313.5Q407.4 312.5 407.5 310.5Q407.6 312.5 408.7 313.5M406.2 311.5L406.9 312.2M408.8 311.5L408.1 312.2" stroke="#b557bd" stroke-width="0.4" fill="none"/>
<circle cx="407.9" cy="311.7" r="2.25" fill="#f6e6f7" stroke="#b557bd" stroke-width="0.5"/>
<path d="M406.7 313.1Q407.8 312.1 407.9 310.1Q408.0 312.1 409.1 313.1M406.6 311.1L407.3 311.8M409.2 311.1L408.5 311.8" stroke="#b557bd" stroke-width="0.4" fill="none"/>
<circle cx="423.3" cy="320.9" r="2.25" fill="#f6e6f7" stroke="#b557bd" stroke-width="0.5"/>
<path d="M422.1 322.3Q423.2 321.3 423.3 319.3Q423.4 321.3 424.5 322.3M422.0 320.3L422.7 321.0M424.6 320.3L423.9 321.0" stroke="#b557bd" stroke-width="0.4" fill="none"/>
<circle cx="441.5" cy="332.6" r="2.25" fill="#f6e6f7" stroke="#b557bd" stroke-width="0.5"/>
<path d="M440.3 334.0Q441.4 333.0 441.5 331.0Q441.6 333.0 442.7 334.0M440.2 332.0L440.9 332.7M442.8 332.0L442.1 332.7" stroke="#b557bd" stroke-width="0.4" fill="none"/>
<circle cx="497.9" cy="358.9" r="2.25" fill="#f6e6f7" stroke="#b557bd" stroke-width="0.5"/>
<path d="M496.7 360.3Q497.8 359.3 497.9 357.3Q498.0 359.3 499.1 360.3M496.6 358.3L497.3 359.0M499.2 358.3L498.5 359.0" stroke="#b557bd" stroke-width="0.4" fill="none"/>
<circle cx="466.1" cy="342.0" r="2.25" fill="#fdeee2" stroke="#e46a3c" stroke-width="0.5"/>
<path d="M464.9 343.4Q466.0 342.4 466.1 340.4Q466.2 342.4 467.3 343.4M464.8 341.4L465.5 342.1M467.4 341.4L466.7 342.1" stroke="#e46a3c" stroke-width="0.4" fill="none"/>
<circle cx="478.2" cy="349.0" r="2.25" fill="#fdeee2" stroke="#e46a3c" stroke-width="0.5"/>
<path d="M477.0 350.4Q478.1 349.4 478.2 347.4Q478.3 349.4 479.4 350.4M476.9 348.4L477.6 349.1M479.5 348.4L478.8 349.1" stroke="#e46a3c" stroke-width="0.4" fill="none"/>
<circle cx="497.9" cy="396.2" r="2.25" fill="#fdeee2" stroke="#e46a3c" stroke-width="0.5"/>
<path d="M496.7 397.6Q497.8 396.6 497.9 394.6Q498.0 396.6 499.1 397.6M496.6 395.6L497.3 396.3M499.2 395.6L498.5 396.3" stroke="#e46a3c" stroke-width="0.4" fill="none"/>
<circle cx="435.8" cy="396.9" r="2.25" fill="#fdeee2" stroke="#e46a3c" stroke-width="0.5"/>
<path d="M434.6 398.3Q435.7 397.3 435.8 395.3Q435.9 397.3 437.0 398.3M434.5 396.3L435.2 397.0M437.1 396.3L436.4 397.0" stroke="#e46a3c" stroke-width="0.4" fill="none"/>
<circle cx="297.8" cy="154.7" r="2.25" fill="#fdeee2" stroke="#e46a3c" stroke-width="0.5"/>
<path d="M296.6 156.1Q297.7 155.1 297.8 153.1Q297.9 155.1 299.0 156.1M296.5 154.1L297.2 154.8M299.1 154.1L298.4 154.8" stroke="#e46a3c" stroke-width="0.4" fill="none"/>
<circle cx="324.5" cy="153.7" r="2.25" fill="#fdeee2" stroke="#e46a3c" stroke-width="0.5"/>
<path d="M323.3 155.1Q324.4 154.1 324.5 152.1Q324.6 154.1 325.7 155.1M323.2 153.1L323.9 153.8M325.8 153.1L325.1 153.8" stroke="#e46a3c" stroke-width="0.4" fill="none"/>
<circle cx="297.8" cy="171.9" r="2.25" fill="#fdeee2" stroke="#e46a3c" stroke-width="0.5"/>
<path d="M296.6 173.3Q297.7 172.3 297.8 170.3Q297.9 172.3 299.0 173.3M296.5 171.3L297.2 172.0M299.1 171.3L298.4 172.0" stroke="#e46a3c" stroke-width="0.4" fill="none"/>
<circle cx="320.2" cy="181.8" r="2.25" fill="#fdeee2" stroke="#e46a3c" stroke-width="0.5"/>
<path d="M319.0 183.2Q320.1 182.2 320.2 180.2Q320.3 182.2 321.4 183.2M318.9 181.2L319.6 181.9M321.5 181.2L320.8 181.9" stroke="#e46a3c" stroke-width="0.4" fill="none"/>
<circle cx="381.2" cy="224.8" r="2.25" fill="#fdeee2" stroke="#e46a3c" stroke-width="0.5"/>
<path d="M380.0 226.2Q381.1 225.2 381.2 223.2Q381.3 225.2 382.4 226.2M379.9 224.2L380.6 224.9M382.5 224.2L381.8 224.9" stroke="#e46a3c" stroke-width="0.4" fill="none"/>
<circle cx="398.6" cy="224.8" r="2.25" fill="#fdeee2" stroke="#e46a3c" stroke-width="0.5"/>
<path d="M397.4 226.2Q398.5 225.2 398.6 223.2Q398.7 225.2 399.8 226.2M397.3 224.2L398.0 224.9M399.9 224.2L399.2 224.9" stroke="#e46a3c" stroke-width="0.4" fill="none"/>
<circle cx="413.8" cy="226.4" r="2.25" fill="#f6e6f7" stroke="#b557bd" stroke-width="0.5"/>
<path d="M412.6 227.8Q413.7 226.8 413.8 224.8Q413.9 226.8 415.0 227.8M412.5 225.8L413.2 226.5M415.1 225.8L414.4 226.5" stroke="#b557bd" stroke-width="0.4" fill="none"/>
<circle cx="477.3" cy="224.8" r="2.25" fill="#fdeee2" stroke="#e46a3c" stroke-width="0.5"/>
<path d="M476.1 226.2Q477.2 225.2 477.3 223.2Q477.4 225.2 478.5 226.2M476.0 224.2L476.7 224.9M478.6 224.2L477.9 224.9" stroke="#e46a3c" stroke-width="0.4" fill="none"/>
<circle cx="492.5" cy="224.8" r="2.25" fill="#fdeee2" stroke="#e46a3c" stroke-width="0.5"/>
<path d="M491.3 226.2Q492.4 225.2 492.5 223.2Q492.6 225.2 493.7 226.2M491.2 224.2L491.9 224.9M493.8 224.2L493.1 224.9" stroke="#e46a3c" stroke-width="0.4" fill="none"/>
<circle cx="462.5" cy="226.4" r="2.25" fill="#f6e6f7" stroke="#b557bd" stroke-width="0.5"/>
<path d="M461.3 227.8Q462.4 226.8 462.5 224.8Q462.6 226.8 463.7 227.8M461.2 225.8L461.9 226.5M463.8 225.8L463.1 226.5" stroke="#b557bd" stroke-width="0.4" fill="none"/>
<circle cx="572.8" cy="201.5" r="2.25" fill="#f6e6f7" stroke="#b557bd" stroke-width="0.5"/>
<path d="M571.6 202.9Q572.7 201.9 572.8 199.9Q572.9 201.9 574.0 202.9M571.5 200.9L572.2 201.6M574.1 200.9L573.4 201.6" stroke="#b557bd" stroke-width="0.4" fill="none"/>
<circle cx="560.9" cy="209.4" r="2.25" fill="#f6e6f7" stroke="#b557bd" stroke-width="0.5"/>
<path d="M559.7 210.8Q560.8 209.8 560.9 207.8Q561.0 209.8 562.1 210.8M559.6 208.8L560.3 209.5M562.2 208.8L561.5 209.5" stroke="#b557bd" stroke-width="0.4" fill="none"/>
<circle cx="543.3" cy="231.2" r="2.25" fill="#f6e6f7" stroke="#b557bd" stroke-width="0.5"/>
<path d="M542.1 232.6Q543.2 231.6 543.3 229.6Q543.4 231.6 544.5 232.6M542.0 230.6L542.7 231.3M544.6 230.6L543.9 231.3" stroke="#b557bd" stroke-width="0.4" fill="none"/>
<circle cx="545.5" cy="239.7" r="2.25" fill="#f6e6f7" stroke="#b557bd" stroke-width="0.5"/>
<path d="M544.3 241.1Q545.4 240.1 545.5 238.1Q545.6 240.1 546.7 241.1M544.2 239.1L544.9 239.8M546.8 239.1L546.1 239.8" stroke="#b557bd" stroke-width="0.4" fill="none"/>
<circle cx="612.1" cy="305.3" r="2.25" fill="#f6e6f7" stroke="#b557bd" stroke-width="0.5"/>
<path d="M610.9 306.7Q612.0 305.7 612.1 303.7Q612.2 305.7 613.3 306.7M610.8 304.7L611.5 305.4M613.4 304.7L612.7 305.4" stroke="#b557bd" stroke-width="0.4" fill="none"/>
<circle cx="628.9" cy="305.3" r="2.25" fill="#f6e6f7" stroke="#b557bd" stroke-width="0.5"/>
<path d="M627.7 306.7Q628.8 305.7 628.9 303.7Q629.0 305.7 630.1 306.7M627.6 304.7L628.3 305.4M630.2 304.7L629.5 305.4" stroke="#b557bd" stroke-width="0.4" fill="none"/>
<circle cx="645.7" cy="305.3" r="2.25" fill="#f6e6f7" stroke="#b557bd" stroke-width="0.5"/>
<path d="M644.5 306.7Q645.6 305.7 645.7 303.7Q645.8 305.7 646.9 306.7M644.4 304.7L645.1 305.4M647.0 304.7L646.3 305.4" stroke="#b557bd" stroke-width="0.4" fill="none"/>
<circle cx="660.5" cy="305.3" r="2.25" fill="#f6e6f7" stroke="#b557bd" stroke-width="0.5"/>
<path d="M659.3 306.7Q660.4 305.7 660.5 303.7Q660.6 305.7 661.7 306.7M659.2 304.7L659.9 305.4M661.8 304.7L661.1 305.4" stroke="#b557bd" stroke-width="0.4" fill="none"/>
<circle cx="601.3" cy="359.2" r="2.25" fill="#f6e6f7" stroke="#b557bd" stroke-width="0.5"/>
<path d="M600.1 360.6Q601.2 359.6 601.3 357.6Q601.4 359.6 602.5 360.6M600.0 358.6L600.7 359.3M602.6 358.6L601.9 359.3" stroke="#b557bd" stroke-width="0.4" fill="none"/>
<circle cx="600.9" cy="375.0" r="2.25" fill="#f6e6f7" stroke="#b557bd" stroke-width="0.5"/>
<path d="M599.7 376.4Q600.8 375.4 600.9 373.4Q601.0 375.4 602.1 376.4M599.6 374.4L600.3 375.1M602.2 374.4L601.5 375.1" stroke="#b557bd" stroke-width="0.4" fill="none"/>
<circle cx="685.8" cy="342.4" r="2.25" fill="#fdeee2" stroke="#e46a3c" stroke-width="0.5"/>
<path d="M684.6 343.8Q685.7 342.8 685.8 340.8Q685.9 342.8 687.0 343.8M684.5 341.8L685.2 342.5M687.1 341.8L686.4 342.5" stroke="#e46a3c" stroke-width="0.4" fill="none"/>
<circle cx="686.2" cy="364.6" r="2.25" fill="#fdeee2" stroke="#e46a3c" stroke-width="0.5"/>
<path d="M685.0 366.0Q686.1 365.0 686.2 363.0Q686.3 365.0 687.4 366.0M684.9 364.0L685.6 364.7M687.5 364.0L686.8 364.7" stroke="#e46a3c" stroke-width="0.4" fill="none"/>
<circle cx="598.3" cy="402.9" r="2.25" fill="#f6e6f7" stroke="#b557bd" stroke-width="0.5"/>
<path d="M597.1 404.3Q598.2 403.3 598.3 401.3Q598.4 403.3 599.5 404.3M597.0 402.3L597.7 403.0M599.6 402.3L598.9 403.0" stroke="#b557bd" stroke-width="0.4" fill="none"/>
<circle cx="613.1" cy="403.9" r="2.25" fill="#f6e6f7" stroke="#b557bd" stroke-width="0.5"/>
<path d="M611.9 405.3Q613.0 404.3 613.1 402.3Q613.2 404.3 614.3 405.3M611.8 403.3L612.5 404.0M614.4 403.3L613.7 404.0" stroke="#b557bd" stroke-width="0.4" fill="none"/>
<circle cx="692.5" cy="427.6" r="2.25" fill="#f6e6f7" stroke="#b557bd" stroke-width="0.5"/>
<path d="M691.3 429.0Q692.4 428.0 692.5 426.0Q692.6 428.0 693.7 429.0M691.2 427.0L691.9 427.7M693.8 427.0L693.1 427.7" stroke="#b557bd" stroke-width="0.4" fill="none"/>
<circle cx="590.4" cy="429.0" r="2.25" fill="#fdeee2" stroke="#e46a3c" stroke-width="0.5"/>
<path d="M589.2 430.4Q590.3 429.4 590.4 427.4Q590.5 429.4 591.6 430.4M589.1 428.4L589.8 429.1M591.7 428.4L591.0 429.1" stroke="#e46a3c" stroke-width="0.4" fill="none"/>
<circle cx="594.3" cy="440.8" r="2.25" fill="#fdeee2" stroke="#e46a3c" stroke-width="0.5"/>
<path d="M593.1 442.2Q594.2 441.2 594.3 439.2Q594.4 441.2 595.5 442.2M593.0 440.2L593.7 440.9M595.6 440.2L594.9 440.9" stroke="#e46a3c" stroke-width="0.4" fill="none"/>
<circle cx="603.2" cy="458.6" r="2.25" fill="#fdeee2" stroke="#e46a3c" stroke-width="0.5"/>
<path d="M602.0 460.0Q603.1 459.0 603.2 457.0Q603.3 459.0 604.4 460.0M601.9 458.0L602.6 458.7M604.5 458.0L603.8 458.7" stroke="#e46a3c" stroke-width="0.4" fill="none"/>
<circle cx="625.0" cy="453.9" r="2.25" fill="#fdeee2" stroke="#e46a3c" stroke-width="0.5"/>
<path d="M623.8 455.3Q624.9 454.3 625.0 452.3Q625.1 454.3 626.2 455.3M623.7 453.3L624.4 454.0M626.3 453.3L625.6 454.0" stroke="#e46a3c" stroke-width="0.4" fill="none"/>
<circle cx="638.8" cy="450.7" r="2.25" fill="#fdeee2" stroke="#e46a3c" stroke-width="0.5"/>
<path d="M637.6 452.1Q638.7 451.1 638.8 449.1Q638.9 451.1 640.0 452.1M637.5 450.1L638.2 450.8M640.1 450.1L639.4 450.8" stroke="#e46a3c" stroke-width="0.4" fill="none"/>
<circle cx="651.8" cy="450.7" r="2.25" fill="#fdeee2" stroke="#e46a3c" stroke-width="0.5"/>
<path d="M650.6 452.1Q651.7 451.1 651.8 449.1Q651.9 451.1 653.0 452.1M650.5 450.1L651.2 450.8M653.1 450.1L652.4 450.8" stroke="#e46a3c" stroke-width="0.4" fill="none"/>
<circle cx="664.5" cy="455.3" r="2.25" fill="#fdeee2" stroke="#e46a3c" stroke-width="0.5"/>
<path d="M663.3 456.7Q664.4 455.7 664.5 453.7Q664.6 455.7 665.7 456.7M663.2 454.7L663.9 455.4M665.8 454.7L665.1 455.4" stroke="#e46a3c" stroke-width="0.4" fill="none"/>
<circle cx="683.8" cy="433.5" r="2.25" fill="#fdeee2" stroke="#e46a3c" stroke-width="0.5"/>
<path d="M682.6 434.9Q683.7 433.9 683.8 431.9Q683.9 433.9 685.0 434.9M682.5 432.9L683.2 433.6M685.1 432.9L684.4 433.6" stroke="#e46a3c" stroke-width="0.4" fill="none"/>
<circle cx="682.7" cy="400.5" r="2.25" fill="#fdeee2" stroke="#e46a3c" stroke-width="0.5"/>
<path d="M681.5 401.9Q682.6 400.9 682.7 398.9Q682.8 400.9 683.9 401.9M681.4 399.9L682.1 400.6M684.0 399.9L683.3 400.6" stroke="#e46a3c" stroke-width="0.4" fill="none"/>
<circle cx="558.8" cy="459.2" r="2.25" fill="#fdeee2" stroke="#e46a3c" stroke-width="0.5"/>
<path d="M557.6 460.6Q558.7 459.6 558.8 457.6Q558.9 459.6 560.0 460.6M557.5 458.6L558.2 459.3M560.1 458.6L559.4 459.3" stroke="#e46a3c" stroke-width="0.4" fill="none"/>
<circle cx="560.7" cy="487.9" r="2.25" fill="#fdeee2" stroke="#e46a3c" stroke-width="0.5"/>
<path d="M559.5 489.3Q560.6 488.3 560.7 486.3Q560.8 488.3 561.9 489.3M559.4 487.3L560.1 488.0M562.0 487.3L561.3 488.0" stroke="#e46a3c" stroke-width="0.4" fill="none"/>
<circle cx="609.6" cy="492.2" r="2.25" fill="#fdeee2" stroke="#e46a3c" stroke-width="0.5"/>
<path d="M608.4 493.6Q609.5 492.6 609.6 490.6Q609.7 492.6 610.8 493.6M608.3 491.6L609.0 492.3M610.9 491.6L610.2 492.3" stroke="#e46a3c" stroke-width="0.4" fill="none"/>
<circle cx="624.6" cy="491.8" r="2.25" fill="#fdeee2" stroke="#e46a3c" stroke-width="0.5"/>
<path d="M623.4 493.2Q624.5 492.2 624.6 490.2Q624.7 492.2 625.8 493.2M623.3 491.2L624.0 491.9M625.9 491.2L625.2 491.9" stroke="#e46a3c" stroke-width="0.4" fill="none"/>
<circle cx="642.7" cy="492.2" r="2.25" fill="#fdeee2" stroke="#e46a3c" stroke-width="0.5"/>
<path d="M641.5 493.6Q642.6 492.6 642.7 490.6Q642.8 492.6 643.9 493.6M641.4 491.6L642.1 492.3M644.0 491.6L643.3 492.3" stroke="#e46a3c" stroke-width="0.4" fill="none"/>
<circle cx="664.9" cy="491.8" r="2.25" fill="#fdeee2" stroke="#e46a3c" stroke-width="0.5"/>
<path d="M663.7 493.2Q664.8 492.2 664.9 490.2Q665.0 492.2 666.1 493.2M663.6 491.2L664.3 491.9M666.2 491.2L665.5 491.9" stroke="#e46a3c" stroke-width="0.4" fill="none"/>
<circle cx="678.3" cy="484.9" r="2.25" fill="#fdeee2" stroke="#e46a3c" stroke-width="0.5"/>
<path d="M677.1 486.3Q678.2 485.3 678.3 483.3Q678.4 485.3 679.5 486.3M677.0 484.3L677.7 485.0M679.6 484.3L678.9 485.0" stroke="#e46a3c" stroke-width="0.4" fill="none"/>
<circle cx="696.1" cy="474.0" r="2.25" fill="#fdeee2" stroke="#e46a3c" stroke-width="0.5"/>
<path d="M694.9 475.4Q696.0 474.4 696.1 472.4Q696.2 474.4 697.3 475.4M694.8 473.4L695.5 474.1M697.4 473.4L696.7 474.1" stroke="#e46a3c" stroke-width="0.4" fill="none"/>
<circle cx="709.5" cy="463.8" r="2.25" fill="#fdeee2" stroke="#e46a3c" stroke-width="0.5"/>
<path d="M708.3 465.2Q709.4 464.2 709.5 462.2Q709.6 464.2 710.7 465.2M708.2 463.2L708.9 463.9M710.8 463.2L710.1 463.9" stroke="#e46a3c" stroke-width="0.4" fill="none"/>
<circle cx="588.4" cy="491.8" r="2.25" fill="#f6e6f7" stroke="#b557bd" stroke-width="0.5"/>
<path d="M587.2 493.2Q588.3 492.2 588.4 490.2Q588.5 492.2 589.6 493.2M587.1 491.2L587.8 491.9M589.7 491.2L589.0 491.9" stroke="#b557bd" stroke-width="0.4" fill="none"/>
<circle cx="293.1" cy="500.6" r="2.25" fill="#fdeee2" stroke="#e46a3c" stroke-width="0.5"/>
<path d="M291.9 502.0Q293.0 501.0 293.1 499.0Q293.2 501.0 294.3 502.0M291.8 500.0L292.5 500.7M294.4 500.0L293.7 500.7" stroke="#e46a3c" stroke-width="0.4" fill="none"/>
<circle cx="292.6" cy="521.3" r="2.25" fill="#fdeee2" stroke="#e46a3c" stroke-width="0.5"/>
<path d="M291.4 522.7Q292.5 521.7 292.6 519.7Q292.7 521.7 293.8 522.7M291.3 520.7L292.0 521.4M293.9 520.7L293.2 521.4" stroke="#e46a3c" stroke-width="0.4" fill="none"/>
<circle cx="324.2" cy="514.1" r="2.25" fill="#fdeee2" stroke="#e46a3c" stroke-width="0.5"/>
<path d="M323.0 515.5Q324.1 514.5 324.2 512.5Q324.3 514.5 325.4 515.5M322.9 513.5L323.6 514.2M325.5 513.5L324.8 514.2" stroke="#e46a3c" stroke-width="0.4" fill="none"/>
<circle cx="325.5" cy="493.0" r="2.25" fill="#fdeee2" stroke="#e46a3c" stroke-width="0.5"/>
<path d="M324.3 494.4Q325.4 493.4 325.5 491.4Q325.6 493.4 326.7 494.4M324.2 492.4L324.9 493.1M326.8 492.4L326.1 493.1" stroke="#e46a3c" stroke-width="0.4" fill="none"/>
<circle cx="349.8" cy="508.2" r="2.25" fill="#fdeee2" stroke="#e46a3c" stroke-width="0.5"/>
<path d="M348.6 509.6Q349.7 508.6 349.8 506.6Q349.9 508.6 351.0 509.6M348.5 507.6L349.2 508.3M351.1 507.6L350.4 508.3" stroke="#e46a3c" stroke-width="0.4" fill="none"/>
<circle cx="365.6" cy="508.2" r="2.25" fill="#fdeee2" stroke="#e46a3c" stroke-width="0.5"/>
<path d="M364.4 509.6Q365.5 508.6 365.6 506.6Q365.7 508.6 366.8 509.6M364.3 507.6L365.0 508.3M366.9 507.6L366.2 508.3" stroke="#e46a3c" stroke-width="0.4" fill="none"/>
<circle cx="378.6" cy="504.2" r="2.25" fill="#fdeee2" stroke="#e46a3c" stroke-width="0.5"/>
<path d="M377.4 505.6Q378.5 504.6 378.6 502.6Q378.7 504.6 379.8 505.6M377.3 503.6L378.0 504.3M379.9 503.6L379.2 504.3" stroke="#e46a3c" stroke-width="0.4" fill="none"/>
<circle cx="397.0" cy="479.0" r="2.25" fill="#fdeee2" stroke="#e46a3c" stroke-width="0.5"/>
<path d="M395.8 480.4Q396.9 479.4 397.0 477.4Q397.1 479.4 398.2 480.4M395.7 478.4L396.4 479.1M398.3 478.4L397.6 479.1" stroke="#e46a3c" stroke-width="0.4" fill="none"/>
<circle cx="413.7" cy="502.8" r="2.25" fill="#fdeee2" stroke="#e46a3c" stroke-width="0.5"/>
<path d="M412.5 504.2Q413.6 503.2 413.7 501.2Q413.8 503.2 414.9 504.2M412.4 502.2L413.1 502.9M415.0 502.2L414.3 502.9" stroke="#e46a3c" stroke-width="0.4" fill="none"/>
<circle cx="401.6" cy="506.9" r="2.25" fill="#fdeee2" stroke="#e46a3c" stroke-width="0.5"/>
<path d="M400.4 508.3Q401.5 507.3 401.6 505.3Q401.7 507.3 402.8 508.3M400.3 506.3L401.0 507.0M402.9 506.3L402.2 507.0" stroke="#e46a3c" stroke-width="0.4" fill="none"/>
<circle cx="430.8" cy="507.8" r="2.25" fill="#fdeee2" stroke="#e46a3c" stroke-width="0.5"/>
<path d="M429.6 509.2Q430.7 508.2 430.8 506.2Q430.9 508.2 432.0 509.2M429.5 507.2L430.2 507.9M432.1 507.2L431.4 507.9" stroke="#e46a3c" stroke-width="0.4" fill="none"/>
<circle cx="447.0" cy="506.0" r="2.25" fill="#fdeee2" stroke="#e46a3c" stroke-width="0.5"/>
<path d="M445.8 507.4Q446.9 506.4 447.0 504.4Q447.1 506.4 448.2 507.4M445.7 505.4L446.4 506.1M448.3 505.4L447.6 506.1" stroke="#e46a3c" stroke-width="0.4" fill="none"/>
<circle cx="488.8" cy="440.2" r="2.25" fill="#fdeee2" stroke="#e46a3c" stroke-width="0.5"/>
<path d="M487.6 441.6Q488.7 440.6 488.8 438.6Q488.9 440.6 490.0 441.6M487.5 439.6L488.2 440.3M490.1 439.6L489.4 440.3" stroke="#e46a3c" stroke-width="0.4" fill="none"/>
<circle cx="488.8" cy="454.0" r="2.25" fill="#fdeee2" stroke="#e46a3c" stroke-width="0.5"/>
<path d="M487.6 455.4Q488.7 454.4 488.8 452.4Q488.9 454.4 490.0 455.4M487.5 453.4L488.2 454.1M490.1 453.4L489.4 454.1" stroke="#e46a3c" stroke-width="0.4" fill="none"/>
<circle cx="488.8" cy="469.7" r="2.25" fill="#fdeee2" stroke="#e46a3c" stroke-width="0.5"/>
<path d="M487.6 471.1Q488.7 470.1 488.8 468.1Q488.9 470.1 490.0 471.1M487.5 469.1L488.2 469.8M490.1 469.1L489.4 469.8" stroke="#e46a3c" stroke-width="0.4" fill="none"/>
<circle cx="488.8" cy="484.0" r="2.25" fill="#fdeee2" stroke="#e46a3c" stroke-width="0.5"/>
<path d="M487.6 485.4Q488.7 484.4 488.8 482.4Q488.9 484.4 490.0 485.4M487.5 483.4L488.2 484.1M490.1 483.4L489.4 484.1" stroke="#e46a3c" stroke-width="0.4" fill="none"/>
<circle cx="493.0" cy="509.2" r="2.25" fill="#fdeee2" stroke="#e46a3c" stroke-width="0.5"/>
<path d="M491.8 510.6Q492.9 509.6 493.0 507.6Q493.1 509.6 494.2 510.6M491.7 508.6L492.4 509.3M494.3 508.6L493.6 509.3" stroke="#e46a3c" stroke-width="0.4" fill="none"/>
<circle cx="480.1" cy="518.5" r="2.25" fill="#fdeee2" stroke="#e46a3c" stroke-width="0.5"/>
<path d="M478.9 519.9Q480.0 518.9 480.1 516.9Q480.2 518.9 481.3 519.9M478.8 517.9L479.5 518.6M481.4 517.9L480.7 518.6" stroke="#e46a3c" stroke-width="0.4" fill="none"/>
<circle cx="469.5" cy="491.6" r="2.25" fill="#fdeee2" stroke="#e46a3c" stroke-width="0.5"/>
<path d="M468.3 493.0Q469.4 492.0 469.5 490.0Q469.6 492.0 470.7 493.0M468.2 491.0L468.9 491.7M470.8 491.0L470.1 491.7" stroke="#e46a3c" stroke-width="0.4" fill="none"/>
<circle cx="464.9" cy="440.2" r="2.25" fill="#f6e6f7" stroke="#b557bd" stroke-width="0.5"/>
<path d="M463.7 441.6Q464.8 440.6 464.9 438.6Q465.0 440.6 466.1 441.6M463.6 439.6L464.3 440.3M466.2 439.6L465.5 440.3" stroke="#b557bd" stroke-width="0.4" fill="none"/>
<circle cx="465.2" cy="511.3" r="2.25" fill="#f6e6f7" stroke="#b557bd" stroke-width="0.5"/>
<path d="M464.0 512.7Q465.1 511.7 465.2 509.7Q465.3 511.7 466.4 512.7M463.9 510.7L464.6 511.4M466.5 510.7L465.8 511.4" stroke="#b557bd" stroke-width="0.4" fill="none"/>
<rect x="21" y="21" width="193" height="60.2" fill="#3e2873"/>
<defs><linearGradient id="rg" x1="0" y1="0" x2="1" y2="0"><stop offset="0" stop-color="#e3a68a"/><stop offset="0.5" stop-color="#d08f74"/><stop offset="1" stop-color="#dd9f83"/></linearGradient><linearGradient id="rg2" gradientUnits="userSpaceOnUse" x1="0" y1="29" x2="0" y2="61"><stop offset="0" stop-color="#e9ad88"/><stop offset="0.55" stop-color="#dfa08c"/><stop offset="1" stop-color="#d69a9c"/></linearGradient></defs>
<circle cx="44.5" cy="41.2" r="10.8" fill="none" stroke="#dcaab0" stroke-width="1.4"/>
<path d="M41.3 31.4H42.75V50.9H41.3ZM44 31.2H45.4V43.5H50.3L51.5 42.7V45.5H44Z" fill="#dcaab0"/>
<text x="33" y="58.9" font-size="5" fill="#dcaab0" font-weight="bold" textLength="24.8" lengthAdjust="spacing">ILAND</text>
<text x="61.2" y="57.2" font-size="31.5" font-weight="bold" fill="url(#rg2)" text-anchor="start">灏怡</text>
<text x="137.3" y="57.2" font-size="31.5" font-weight="bold" fill="url(#rg2)" text-anchor="start">天揽</text>
<circle cx="131.4" cy="47.4" r="1.8" fill="#dfa28e"/>
<circle cx="161.3" cy="100" r="10.2" fill="none" stroke="#4d4647" stroke-width="0.55"/>
<path d="M155.8 96Q155.8 94 157.8 94H164.8Q166.8 94 166.8 96V103.4H155.8ZM157.3 95.7V100H165.3V95.7Z" fill="#6a6364" fill-rule="evenodd"/>
<rect x="156.8" y="103.4" width="2" height="1.9" fill="#6a6364"/><rect x="163.8" y="103.4" width="2" height="1.9" fill="#6a6364"/>
<circle cx="158" cy="101.8" r="0.75" fill="#fcf8f4"/><circle cx="164.6" cy="101.8" r="0.75" fill="#fcf8f4"/>
<text x="162.4" y="117.9" font-size="4.6" font-weight="bold" fill="#2a2324" text-anchor="middle">横琴口岸巴士总站</text>
<circle cx="161.3" cy="140.7" r="10.2" fill="none" stroke="#4d4647" stroke-width="0.55"/>
<path d="M160 147.6V142C160 138 158.6 135.6 156.2 134M162.6 147.6V142C162.6 138 164 135.6 166.4 134" stroke="#6a6364" stroke-width="1.6" fill="none"/>
<text x="161.3" y="159.5" font-size="4.6" font-weight="bold" fill="#2a2324" text-anchor="middle">轻轨横琴口岸站</text>
<rect x="811.4" y="442.3" width="25.2" height="7.8" fill="#f4b183"/>
<text x="838.6" y="448.9" font-size="6.7" fill="#2c2728" font-weight="normal" text-anchor="start" textLength="21.5" lengthAdjust="spacingAndGlyphs">0-20m²</text>
<rect x="811.4" y="453.7" width="25.2" height="7.8" fill="#b5dde9"/>
<text x="838.6" y="460.3" font-size="6.7" fill="#2c2728" font-weight="normal" text-anchor="start" textLength="25.0" lengthAdjust="spacingAndGlyphs">21-40m²</text>
<rect x="811.4" y="465.0" width="25.2" height="7.8" fill="#c5b5dc"/>
<text x="838.6" y="471.6" font-size="6.7" fill="#2c2728" font-weight="normal" text-anchor="start" textLength="25.0" lengthAdjust="spacingAndGlyphs">41-60m²</text>
<rect x="811.4" y="476.4" width="25.2" height="7.8" fill="#b4cf8e"/>
<text x="838.6" y="483.0" font-size="6.7" fill="#2c2728" font-weight="normal" text-anchor="start" textLength="25.0" lengthAdjust="spacingAndGlyphs">61-80m²</text>
<rect x="811.4" y="487.8" width="25.2" height="7.8" fill="#86a8d6"/>
<text x="838.6" y="494.4" font-size="6.7" fill="#2c2728" font-weight="normal" text-anchor="start" textLength="28.5" lengthAdjust="spacingAndGlyphs">81-100m²</text>
<rect x="811.4" y="499.1" width="25.2" height="7.8" fill="#eec1df"/>
<text x="838.6" y="505.8" font-size="6.7" fill="#2c2728" font-weight="normal" text-anchor="start" textLength="32.0" lengthAdjust="spacingAndGlyphs">101-150m²</text>
<rect x="811.4" y="510.5" width="25.2" height="7.8" fill="#d68a94"/>
<text x="838.6" y="517.1" font-size="6.7" fill="#2c2728" font-weight="normal" text-anchor="start" textLength="32.0" lengthAdjust="spacingAndGlyphs">151-200m²</text>
<rect x="811.4" y="521.9" width="25.2" height="7.8" fill="#dcaab0"/>
<text x="838.6" y="528.5" font-size="6.7" fill="#2c2728" font-weight="normal" text-anchor="start" textLength="20.5" lengthAdjust="spacingAndGlyphs">200m²</text>
<text x="859.9" y="528.4" font-size="5.8" fill="#2c2728" text-anchor="start">以上</text>
<circle cx="824.4" cy="536.6" r="3.2" fill="#fff6ef" stroke="#e0623a" stroke-width="0.55"/>
<text x="824.4" y="538.6" font-size="4.4" fill="#e0623a" text-anchor="middle">火</text>
<circle cx="824.4" cy="548.2" r="3.2" fill="#fbf2fb" stroke="#b050b8" stroke-width="0.55"/>
<text x="824.4" y="550.2" font-size="4.4" fill="#b050b8" text-anchor="middle">水</text>
<text x="839.6" y="538.9" font-size="5.9" fill="#2c2728" text-anchor="start">可做重餐饮</text>
<text x="839.6" y="550.5" font-size="5.9" fill="#2c2728" text-anchor="start">可做轻餐饮</text>
<g opacity="0.4" fill="#ffffff"><rect x="896" y="22" width="40" height="5" rx="1"/><rect x="957" y="21" width="22" height="9" rx="1"/><rect x="960" y="33" width="19" height="9" rx="1"/><rect x="900" y="40" width="36" height="2.5"/></g>
<rect x="0" y="607.3" width="1000" height="1.5" fill="#9783bf"/>
<defs><linearGradient id="pg" x1="0" y1="0" x2="0" y2="1"><stop offset="0" stop-color="#dca285"/><stop offset="0.5" stop-color="#b8775b"/><stop offset="1" stop-color="#deaa8e"/></linearGradient></defs>
<defs><linearGradient id="pg2" x1="0" y1="0" x2="1" y2="0"><stop offset="0" stop-color="#a8684e" stop-opacity="0.55"/><stop offset="0.3" stop-color="#f6d3bf" stop-opacity="0.35"/><stop offset="0.6" stop-color="#f6d3bf" stop-opacity="0.25"/><stop offset="1" stop-color="#a8684e" stop-opacity="0.55"/></linearGradient></defs>
<path d="M423.4 594.4H575.8V597.6H579V619.0H575.8V622.2H423.4V619.0H420.2V597.6H423.4Z" fill="url(#pg)"/>
<path d="M423.4 594.4H575.8V597.6H579V619.0H575.8V622.2H423.4V619.0H420.2V597.6H423.4Z" fill="url(#pg2)"/>
<path d="M424.6 595.6H574.6V598.6H577.6V618H574.6V621H424.6V618H421.6V598.6H424.6Z" fill="none" stroke="#f3d2c0" stroke-width="0.45" opacity="0.8"/>
<path d="M429.20000000000005 598.4H570.0V601.0H572.6V615.6H570.0V618.2H429.20000000000005V615.6H426.6V601.0H429.20000000000005Z" fill="#fbf1e8"/>
<path d="M429.20000000000005 598.4H570.0V601.0H572.6V615.6H570.0V618.2H429.20000000000005V615.6H426.6V601.0H429.20000000000005Z" fill="none" stroke="#a9694f" stroke-width="0.5" opacity="0.7"/>
<text x="499.7" y="615" font-size="16.8" font-weight="bold" fill="#231f20" text-anchor="middle">4F商业平面图</text>
<path d="M104.5 631.3L112 627L116.5 628V653.8L112 655.5V631.6L108 633.2V651.3L104.5 652.5Z" fill="#f3f0fa"/>
<path d="M117.2 637.6Q124.6 639.6 124.6 647.4Q124.6 654.4 117.2 657.2ZM119.4 642.4V652.6Q121.9 650.8 121.9 647.4Q121.9 644 119.4 642.4Z" fill="#f3f0fa" fill-rule="evenodd"/>
<path d="M102.4 641.2Q91 645.6 91.2 655Q92 664.2 101.4 665.2Q108.6 665.6 115.4 660.6Q107.4 662 102.4 659.4Q96.8 655.8 98.6 649Q99.6 644.4 102.4 641.2Z" fill="#f3f0fa"/>
<text x="177.2" y="654.2" font-size="22.3" font-weight="bold" fill="#f3f0fa" text-anchor="middle">灏怡地产</text>
<text x="133" y="666" font-size="7.3" fill="#f3f0fa" font-weight="normal" text-anchor="start" textLength="90" lengthAdjust="spacingAndGlyphs">HAOYI REAL ESTATE</text>
<text x="456.6" y="645.3" font-size="10.4" font-weight="bold" fill="#f3f0fa" text-anchor="start">中国</text>
<circle cx="479.6" cy="641.3" r="0.95" fill="#f3f0fa"/>
<text x="482" y="645.3" font-size="10.4" font-weight="bold" fill="#f3f0fa" text-anchor="start">横琴口岸</text>
<circle cx="526.5" cy="641.3" r="0.95" fill="#f3f0fa"/>
<text x="529" y="645.3" font-size="10.4" font-weight="bold" fill="#f3f0fa" text-anchor="start">澳门大学旁</text>
<text x="456.3" y="656.9" font-size="9.3" font-weight="bold" fill="#f3f0fa" text-anchor="start" textLength="123.8" lengthAdjust="spacing">销售中心:横琴环岛东路中央汇</text>
<path d="M456.0 662.6h9.0M467.2 662.6h20.0M488.4 662.6h12.0M502.6 662.6h15.0M519.8 662.6h20.0M541.0 662.6h20.0M562.2 662.6h15.0M578.8 662.6h20.0M600.0 662.6h9.0M611.2 662.6h15.0M628.4 662.6h20.0M650.0 662.6h15.0M667.2 662.6h9.0M677.4 662.6h9.0M688.6 662.6h15.0M705.8 662.6h6.0M714.0 662.6h6.0M721.2 662.6h20.0M742.4 662.6h12.0M755.6 662.6h12.0M769.2 662.6h20.0M791.4 662.6h15.0M808.6 662.6h15.0M825.2 662.6h20.0M846.8 662.6h9.0M857.4 662.6h6.0M864.6 662.6h9.0M875.2 662.6h0.8" stroke="#a899cf" stroke-width="1.9" stroke-dasharray="1.5 0.8" fill="none" opacity="0.5"/>
<path d="M470.0 669.1h15.0M487.2 669.1h12.0M500.8 669.1h20.0M522.4 669.1h20.0M544.0 669.1h20.0M566.2 669.1h15.0M583.4 669.1h9.0M594.0 669.1h6.0M601.6 669.1h20.0M623.8 669.1h9.0M635.0 669.1h12.0" stroke="#a899cf" stroke-width="1.9" stroke-dasharray="1.5 0.8" fill="none" opacity="0.5"/>
<circle cx="599.4" cy="642.2" r="7.3" fill="#f3f0fa"/>
<circle cx="642" cy="642.2" r="7.3" fill="#f3f0fa"/>
<circle cx="692.2" cy="642.2" r="7.3" fill="#f3f0fa"/>
<circle cx="741.6" cy="642.2" r="7.3" fill="#f3f0fa"/>
<circle cx="779.7" cy="642.2" r="7.3" fill="#f3f0fa"/>
<circle cx="819" cy="642.2" r="7.3" fill="#f3f0fa"/>
<circle cx="861.3" cy="642.2" r="7.3" fill="#f3f0fa"/>
<path d="M616.4 637.6V657" stroke="#8f7cb8" stroke-width="0.6"/>
<path d="M667.8 637.6V657" stroke="#8f7cb8" stroke-width="0.6"/>
<path d="M718.4 637.6V657" stroke="#8f7cb8" stroke-width="0.6"/>
<path d="M766 637.6V657" stroke="#8f7cb8" stroke-width="0.6"/>
<path d="M795 637.6V657" stroke="#8f7cb8" stroke-width="0.6"/>
<path d="M843 637.6V657" stroke="#8f7cb8" stroke-width="0.6"/>
<path d="M594.4 644Q597.4 637 603.4 639Q599.4 640 598.4 643Q602.4 641 604.4 644Q600.4 649 594.4 646Q598.4 646 594.4 644Z" fill="#3e2873"/>
<path d="M636 640Q642 636 648 641M635 643.5Q642 640 648.5 645M636 647Q642 644 646 649" stroke="#3e2873" stroke-width="1.5" fill="none"/>
<circle cx="692.2" cy="642.2" r="7.3" fill="#3e2873" stroke="#f3f0fa" stroke-width="1"/>
<path d="M688.6 639H691.6V647H688.6ZM692.4000000000001 637H695.8000000000001V647H692.4000000000001ZM687.2 642H688.0V647H687.2Z" fill="#f3f0fa"/>
<circle cx="741.6" cy="642.2" r="7.6" fill="#3e2873"/>
<path d="M734.6 638Q741.6 635 747.6 639M735.6 641Q742.6 638 748.6 643M738.6 645Q743.6 642 747.6 647M741.6 649Q744.6 646 746.6 650" stroke="#f3f0fa" stroke-width="1.7" fill="none"/>
<circle cx="779.7" cy="642.2" r="7.3" fill="#3e2873" stroke="#f3f0fa" stroke-width="1.1"/>
<text x="779.7" y="645.6" font-size="9.5" font-weight="bold" fill="#f3f0fa" text-anchor="middle">$</text>
<circle cx="819" cy="642.2" r="7.3" fill="#f3f0fa"/>
<circle cx="819" cy="642.2" r="5.6" fill="#3e2873"/>
<path d="M815.8 639.6L819 638L822.2 639.6L819 641.2ZM815.8 642.2L819 640.8L822.2 642.2L819 643.8ZM815.8 644.8L819 643.4L822.2 644.8L819 646.4Z" fill="#f3f0fa"/>
<circle cx="861.3" cy="642.2" r="7.3" fill="#3e2873" stroke="#f3f0fa" stroke-width="1.1"/>
<path d="M857.3 640L859.3 642.6L861.3 639L863.3 642.6L865.3 640L864.5 645.6H858.0999999999999Z" fill="#f3f0fa"/>
<text x="598.5" y="657" font-size="3.6" font-weight="bold" fill="#f3f0fa" text-anchor="middle">粤港澳大湾区</text>
<text x="641.5" y="657" font-size="3.65" font-weight="bold" fill="#f3f0fa" text-anchor="middle">全球交通枢纽门户上盖</text>
<text x="693" y="657" font-size="3.5" font-weight="bold" fill="#f3f0fa" text-anchor="middle">年4000万人消费目的地</text>
<text x="741.7" y="657" font-size="3.68" font-weight="bold" fill="#f3f0fa" text-anchor="middle">领跑全球的通关效率</text>
<text x="772.6" y="657" font-size="3.6" font-weight="bold" fill="#f3f0fa" text-anchor="start" textLength="14.1" lengthAdjust="spacingAndGlyphs">24小时商业</text>
<text x="818.6" y="657" font-size="3.65" font-weight="bold" fill="#f3f0fa" text-anchor="middle">三面临街窗口岸设计</text>
<text x="860.8" y="657" font-size="3.63" font-weight="bold" fill="#f3f0fa" text-anchor="middle">黄钻级综合店</text>
<rect x="877" y="637" width="32.4" height="31.4" fill="#ffffff"/>
<path d="M888.09 638.60h1.14v1.14h-1.14zM891.50 638.60h1.14v1.14h-1.14zM894.90 638.60h1.14v1.14h-1.14zM889.22 639.74h1.14v1.14h-1.14zM890.36 639.74h1.14v1.14h-1.14zM891.50 639.74h1.14v1.14h-1.14zM894.90 639.74h1.14v1.14h-1.14zM890.36 640.87h1.14v1.14h-1.14zM891.50 640.87h1.14v1.14h-1.14zM893.77 640.87h1.14v1.14h-1.14zM894.90 640.87h1.14v1.14h-1.14zM896.04 640.87h1.14v1.14h-1.14zM897.18 640.87h1.14v1.14h-1.14zM888.09 642.01h1.14v1.14h-1.14zM889.22 642.01h1.14v1.14h-1.14zM893.77 642.01h1.14v1.14h-1.14zM896.04 642.01h1.14v1.14h-1.14zM897.18 642.01h1.14v1.14h-1.14zM892.63 643.14h1.14v1.14h-1.14zM893.77 643.14h1.14v1.14h-1.14zM894.90 643.14h1.14v1.14h-1.14zM896.04 643.14h1.14v1.14h-1.14zM888.09 644.28h1.14v1.14h-1.14zM890.36 644.28h1.14v1.14h-1.14zM893.77 644.28h1.14v1.14h-1.14zM894.90 644.28h1.14v1.14h-1.14zM897.18 644.28h1.14v1.14h-1.14zM889.22 645.42h1.14v1.14h-1.14zM890.36 645.42h1.14v1.14h-1.14zM893.77 645.42h1.14v1.14h-1.14zM894.90 645.42h1.14v1.14h-1.14zM896.04 645.42h1.14v1.14h-1.14zM889.22 646.55h1.14v1.14h-1.14zM890.36 646.55h1.14v1.14h-1.14zM891.50 646.55h1.14v1.14h-1.14zM892.63 646.55h1.14v1.14h-1.14zM894.90 646.55h1.14v1.14h-1.14zM897.18 646.55h1.14v1.14h-1.14zM879.00 647.69h1.14v1.14h-1.14zM881.27 647.69h1.14v1.14h-1.14zM883.54 647.69h1.14v1.14h-1.14zM884.68 647.69h1.14v1.14h-1.14zM885.82 647.69h1.14v1.14h-1.14zM886.95 647.69h1.14v1.14h-1.14zM890.36 647.69h1.14v1.14h-1.14zM892.63 647.69h1.14v1.14h-1.14zM893.77 647.69h1.14v1.14h-1.14zM897.18 647.69h1.14v1.14h-1.14zM899.45 647.69h1.14v1.14h-1.14zM900.58 647.69h1.14v1.14h-1.14zM902.86 647.69h1.14v1.14h-1.14zM903.99 647.69h1.14v1.14h-1.14zM905.13 647.69h1.14v1.14h-1.14zM906.26 647.69h1.14v1.14h-1.14zM880.14 648.82h1.14v1.14h-1.14zM882.41 648.82h1.14v1.14h-1.14zM883.54 648.82h1.14v1.14h-1.14zM885.82 648.82h1.14v1.14h-1.14zM897.18 648.82h1.14v1.14h-1.14zM898.31 648.82h1.14v1.14h-1.14zM901.72 648.82h1.14v1.14h-1.14zM902.86 648.82h1.14v1.14h-1.14zM906.26 648.82h1.14v1.14h-1.14zM882.41 649.96h1.14v1.14h-1.14zM883.54 649.96h1.14v1.14h-1.14zM884.68 649.96h1.14v1.14h-1.14zM886.95 649.96h1.14v1.14h-1.14zM897.18 649.96h1.14v1.14h-1.14zM900.58 649.96h1.14v1.14h-1.14zM901.72 649.96h1.14v1.14h-1.14zM903.99 649.96h1.14v1.14h-1.14zM905.13 649.96h1.14v1.14h-1.14zM881.27 651.10h1.14v1.14h-1.14zM883.54 651.10h1.14v1.14h-1.14zM884.68 651.10h1.14v1.14h-1.14zM885.82 651.10h1.14v1.14h-1.14zM886.95 651.10h1.14v1.14h-1.14zM888.09 651.10h1.14v1.14h-1.14zM897.18 651.10h1.14v1.14h-1.14zM898.31 651.10h1.14v1.14h-1.14zM900.58 651.10h1.14v1.14h-1.14zM901.72 651.10h1.14v1.14h-1.14zM880.14 652.23h1.14v1.14h-1.14zM881.27 652.23h1.14v1.14h-1.14zM882.41 652.23h1.14v1.14h-1.14zM886.95 652.23h1.14v1.14h-1.14zM897.18 652.23h1.14v1.14h-1.14zM899.45 652.23h1.14v1.14h-1.14zM901.72 652.23h1.14v1.14h-1.14zM882.41 653.37h1.14v1.14h-1.14zM886.95 653.37h1.14v1.14h-1.14zM900.58 653.37h1.14v1.14h-1.14zM903.99 653.37h1.14v1.14h-1.14zM881.27 654.50h1.14v1.14h-1.14zM884.68 654.50h1.14v1.14h-1.14zM886.95 654.50h1.14v1.14h-1.14zM897.18 654.50h1.14v1.14h-1.14zM899.45 654.50h1.14v1.14h-1.14zM900.58 654.50h1.14v1.14h-1.14zM902.86 654.50h1.14v1.14h-1.14zM906.26 654.50h1.14v1.14h-1.14zM879.00 655.64h1.14v1.14h-1.14zM880.14 655.64h1.14v1.14h-1.14zM882.41 655.64h1.14v1.14h-1.14zM883.54 655.64h1.14v1.14h-1.14zM886.95 655.64h1.14v1.14h-1.14zM897.18 655.64h1.14v1.14h-1.14zM899.45 655.64h1.14v1.14h-1.14zM900.58 655.64h1.14v1.14h-1.14zM905.13 655.64h1.14v1.14h-1.14zM879.00 656.78h1.14v1.14h-1.14zM880.14 656.78h1.14v1.14h-1.14zM881.27 656.78h1.14v1.14h-1.14zM886.95 656.78h1.14v1.14h-1.14zM888.09 656.78h1.14v1.14h-1.14zM889.22 656.78h1.14v1.14h-1.14zM890.36 656.78h1.14v1.14h-1.14zM891.50 656.78h1.14v1.14h-1.14zM892.63 656.78h1.14v1.14h-1.14zM894.90 656.78h1.14v1.14h-1.14zM896.04 656.78h1.14v1.14h-1.14zM899.45 656.78h1.14v1.14h-1.14zM900.58 656.78h1.14v1.14h-1.14zM901.72 656.78h1.14v1.14h-1.14zM903.99 656.78h1.14v1.14h-1.14zM888.09 657.91h1.14v1.14h-1.14zM890.36 657.91h1.14v1.14h-1.14zM891.50 657.91h1.14v1.14h-1.14zM892.63 657.91h1.14v1.14h-1.14zM893.77 657.91h1.14v1.14h-1.14zM896.04 657.91h1.14v1.14h-1.14zM897.18 657.91h1.14v1.14h-1.14zM898.31 657.91h1.14v1.14h-1.14zM900.58 657.91h1.14v1.14h-1.14zM888.09 659.05h1.14v1.14h-1.14zM889.22 659.05h1.14v1.14h-1.14zM890.36 659.05h1.14v1.14h-1.14zM891.50 659.05h1.14v1.14h-1.14zM892.63 659.05h1.14v1.14h-1.14zM894.90 659.05h1.14v1.14h-1.14zM896.04 659.05h1.14v1.14h-1.14zM897.18 659.05h1.14v1.14h-1.14zM902.86 659.05h1.14v1.14h-1.14zM906.26 659.05h1.14v1.14h-1.14zM890.36 660.18h1.14v1.14h-1.14zM891.50 660.18h1.14v1.14h-1.14zM894.90 660.18h1.14v1.14h-1.14zM900.58 660.18h1.14v1.14h-1.14zM902.86 660.18h1.14v1.14h-1.14zM889.22 661.32h1.14v1.14h-1.14zM896.04 661.32h1.14v1.14h-1.14zM899.45 661.32h1.14v1.14h-1.14zM900.58 661.32h1.14v1.14h-1.14zM901.72 661.32h1.14v1.14h-1.14zM905.13 661.32h1.14v1.14h-1.14zM906.26 661.32h1.14v1.14h-1.14zM889.22 662.46h1.14v1.14h-1.14zM891.50 662.46h1.14v1.14h-1.14zM892.63 662.46h1.14v1.14h-1.14zM894.90 662.46h1.14v1.14h-1.14zM896.04 662.46h1.14v1.14h-1.14zM902.86 662.46h1.14v1.14h-1.14zM905.13 662.46h1.14v1.14h-1.14zM906.26 662.46h1.14v1.14h-1.14zM889.22 663.59h1.14v1.14h-1.14zM896.04 663.59h1.14v1.14h-1.14zM897.18 663.59h1.14v1.14h-1.14zM900.58 663.59h1.14v1.14h-1.14zM906.26 663.59h1.14v1.14h-1.14zM891.50 664.73h1.14v1.14h-1.14zM894.90 664.73h1.14v1.14h-1.14zM898.31 664.73h1.14v1.14h-1.14zM900.58 664.73h1.14v1.14h-1.14zM902.86 664.73h1.14v1.14h-1.14zM906.26 664.73h1.14v1.14h-1.14zM888.09 665.86h1.14v1.14h-1.14zM889.22 665.86h1.14v1.14h-1.14zM890.36 665.86h1.14v1.14h-1.14zM893.77 665.86h1.14v1.14h-1.14zM894.90 665.86h1.14v1.14h-1.14zM896.04 665.86h1.14v1.14h-1.14zM899.45 665.86h1.14v1.14h-1.14zM901.72 665.86h1.14v1.14h-1.14zM902.86 665.86h1.14v1.14h-1.14zM903.99 665.86h1.14v1.14h-1.14zM906.26 665.86h1.14v1.14h-1.14z" fill="#17141c"/>
<rect x="879.00" y="638.60" width="7.95" height="7.95" fill="#17141c"/>
<rect x="880.14" y="639.74" width="5.68" height="5.68" fill="#fff"/>
<rect x="881.27" y="640.87" width="3.41" height="3.41" fill="#17141c"/>
<rect x="899.45" y="638.60" width="7.95" height="7.95" fill="#17141c"/>
<rect x="900.58" y="639.74" width="5.68" height="5.68" fill="#fff"/>
<rect x="901.72" y="640.87" width="3.41" height="3.41" fill="#17141c"/>
<rect x="879.00" y="659.05" width="7.95" height="7.95" fill="#17141c"/>
<rect x="880.14" y="660.18" width="5.68" height="5.68" fill="#fff"/>
<rect x="881.27" y="661.32" width="3.41" height="3.41" fill="#17141c"/>
<rect x="889.91" y="649.51" width="6.59" height="6.59" rx="0.8" fill="#4a3486"/>
</svg>
</body></html>
